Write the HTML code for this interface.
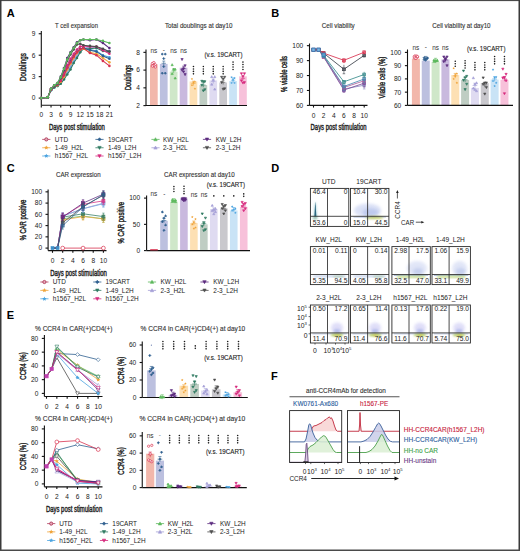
<!DOCTYPE html><html><head><meta charset="utf-8"><style>html,body{margin:0;padding:0;background:#fff;}svg{display:block;}text{font-family:"Liberation Sans", sans-serif;}</style></head><body>
<svg width="520" height="551" viewBox="0 0 520 551">
<defs><filter id="bl" x="-50%" y="-50%" width="200%" height="200%"><feGaussianBlur stdDeviation="1.6"/></filter><filter id="bl2" x="-50%" y="-50%" width="200%" height="200%"><feGaussianBlur stdDeviation="0.8"/></filter></defs>
<rect x="0" y="0" width="520" height="551" fill="#fff"/>
<text x="6.8" y="16.9" font-size="11" font-weight="bold" fill="#000">A</text>
<text x="76.50" y="28.40" font-size="6.7" text-anchor="middle" fill="#333" stroke="#333" stroke-width="0.12" textLength="43.00" lengthAdjust="spacingAndGlyphs">T cell expansion</text>
<line x1="41.30" y1="31.00" x2="41.30" y2="105.30" stroke="#111" stroke-width="1.1"/>
<line x1="38.70" y1="33.75" x2="41.30" y2="33.75" stroke="#111" stroke-width="1.1"/>
<text x="35.30" y="36.11" font-size="6.6" text-anchor="end" fill="#222">9</text>
<line x1="38.70" y1="55.20" x2="41.30" y2="55.20" stroke="#111" stroke-width="1.1"/>
<text x="35.30" y="57.56" font-size="6.6" text-anchor="end" fill="#222">6</text>
<line x1="38.70" y1="76.65" x2="41.30" y2="76.65" stroke="#111" stroke-width="1.1"/>
<text x="35.30" y="79.01" font-size="6.6" text-anchor="end" fill="#222">3</text>
<line x1="38.70" y1="98.10" x2="41.30" y2="98.10" stroke="#111" stroke-width="1.1"/>
<text x="35.30" y="100.46" font-size="6.6" text-anchor="end" fill="#222">0</text>
<line x1="41.30" y1="105.30" x2="111.00" y2="105.30" stroke="#111" stroke-width="1.1"/>
<line x1="41.30" y1="105.30" x2="41.30" y2="107.50" stroke="#111" stroke-width="1.1"/>
<text x="41.30" y="117.06" font-size="6.6" text-anchor="middle" fill="#222">0</text>
<line x1="51.03" y1="105.30" x2="51.03" y2="107.50" stroke="#111" stroke-width="1.1"/>
<text x="51.03" y="117.06" font-size="6.6" text-anchor="middle" fill="#222">3</text>
<line x1="60.76" y1="105.30" x2="60.76" y2="107.50" stroke="#111" stroke-width="1.1"/>
<text x="60.76" y="117.06" font-size="6.6" text-anchor="middle" fill="#222">6</text>
<line x1="70.49" y1="105.30" x2="70.49" y2="107.50" stroke="#111" stroke-width="1.1"/>
<text x="70.49" y="117.06" font-size="6.6" text-anchor="middle" fill="#222">9</text>
<line x1="80.22" y1="105.30" x2="80.22" y2="107.50" stroke="#111" stroke-width="1.1"/>
<text x="80.22" y="117.06" font-size="6.6" text-anchor="middle" fill="#222">12</text>
<line x1="89.94" y1="105.30" x2="89.94" y2="107.50" stroke="#111" stroke-width="1.1"/>
<text x="89.94" y="117.06" font-size="6.6" text-anchor="middle" fill="#222">15</text>
<line x1="99.67" y1="105.30" x2="99.67" y2="107.50" stroke="#111" stroke-width="1.1"/>
<text x="99.67" y="117.06" font-size="6.6" text-anchor="middle" fill="#222">18</text>
<line x1="109.40" y1="105.30" x2="109.40" y2="107.50" stroke="#111" stroke-width="1.1"/>
<text x="109.40" y="117.06" font-size="6.6" text-anchor="middle" fill="#222">21</text>
<text x="76.90" y="129.55" font-size="8.8" text-anchor="middle" fill="#222" font-weight="normal" stroke="#222" stroke-width="0.42" textLength="56.00" lengthAdjust="spacingAndGlyphs">Days post stimulation</text>
<text x="67.00" y="0" font-size="8.8" text-anchor="middle" fill="#222" font-weight="normal" stroke="#222" stroke-width="0.42" textLength="28.00" lengthAdjust="spacingAndGlyphs" transform="translate(26.15,67.00) rotate(-90) translate(-67.00,0)">Doublings</text>
<polyline points="41.30,98.10 47.79,97.38 51.03,90.23 54.27,87.38 57.52,85.94 60.76,83.08 64.00,78.08 67.24,72.36 70.49,66.64 73.73,60.92 76.97,55.91 80.22,50.91 83.46,48.76 89.94,49.48 96.43,50.91 102.92,55.20 109.40,57.34" fill="none" stroke="#4aa3e0" stroke-width="1.05" stroke-linejoin="round" />
<circle cx="41.30" cy="98.10" r="1.3" fill="#4aa3e0"/>
<circle cx="47.79" cy="97.38" r="1.3" fill="#4aa3e0"/>
<circle cx="51.03" cy="90.23" r="1.3" fill="#4aa3e0"/>
<circle cx="54.27" cy="87.38" r="1.3" fill="#4aa3e0"/>
<circle cx="57.52" cy="85.94" r="1.3" fill="#4aa3e0"/>
<circle cx="60.76" cy="83.08" r="1.3" fill="#4aa3e0"/>
<circle cx="64.00" cy="78.08" r="1.3" fill="#4aa3e0"/>
<circle cx="67.24" cy="72.36" r="1.3" fill="#4aa3e0"/>
<circle cx="70.49" cy="66.64" r="1.3" fill="#4aa3e0"/>
<circle cx="73.73" cy="60.92" r="1.3" fill="#4aa3e0"/>
<circle cx="76.97" cy="55.91" r="1.3" fill="#4aa3e0"/>
<circle cx="80.22" cy="50.91" r="1.3" fill="#4aa3e0"/>
<circle cx="83.46" cy="48.76" r="1.3" fill="#4aa3e0"/>
<circle cx="89.94" cy="49.48" r="1.3" fill="#4aa3e0"/>
<circle cx="96.43" cy="50.91" r="1.3" fill="#4aa3e0"/>
<circle cx="102.92" cy="55.20" r="1.3" fill="#4aa3e0"/>
<circle cx="109.40" cy="57.34" r="1.3" fill="#4aa3e0"/>
<polyline points="41.30,98.10 47.79,97.38 51.03,89.52 54.27,86.66 57.52,85.23 60.76,82.37 64.00,77.36 67.24,70.93 70.49,65.21 73.73,59.49 76.97,54.48 80.22,50.19 83.46,48.05 89.94,47.33 96.43,47.33 102.92,49.48 109.40,50.91" fill="none" stroke="#a59fd6" stroke-width="1.05" stroke-linejoin="round" />
<circle cx="41.30" cy="98.10" r="1.3" fill="#a59fd6"/>
<circle cx="47.79" cy="97.38" r="1.3" fill="#a59fd6"/>
<circle cx="51.03" cy="89.52" r="1.3" fill="#a59fd6"/>
<circle cx="54.27" cy="86.66" r="1.3" fill="#a59fd6"/>
<circle cx="57.52" cy="85.23" r="1.3" fill="#a59fd6"/>
<circle cx="60.76" cy="82.37" r="1.3" fill="#a59fd6"/>
<circle cx="64.00" cy="77.36" r="1.3" fill="#a59fd6"/>
<circle cx="67.24" cy="70.93" r="1.3" fill="#a59fd6"/>
<circle cx="70.49" cy="65.21" r="1.3" fill="#a59fd6"/>
<circle cx="73.73" cy="59.49" r="1.3" fill="#a59fd6"/>
<circle cx="76.97" cy="54.48" r="1.3" fill="#a59fd6"/>
<circle cx="80.22" cy="50.19" r="1.3" fill="#a59fd6"/>
<circle cx="83.46" cy="48.05" r="1.3" fill="#a59fd6"/>
<circle cx="89.94" cy="47.33" r="1.3" fill="#a59fd6"/>
<circle cx="96.43" cy="47.33" r="1.3" fill="#a59fd6"/>
<circle cx="102.92" cy="49.48" r="1.3" fill="#a59fd6"/>
<circle cx="109.40" cy="50.91" r="1.3" fill="#a59fd6"/>
<polyline points="41.30,98.10 47.79,97.38 51.03,90.23 54.27,87.38 57.52,85.94 60.76,83.80 64.00,79.51 67.24,74.50 70.49,69.50 73.73,63.06 76.97,58.06 80.22,52.34 83.46,48.76 89.94,48.76 96.43,48.05 102.92,50.91 109.40,51.62" fill="none" stroke="#2f7a62" stroke-width="1.05" stroke-linejoin="round" />
<circle cx="41.30" cy="98.10" r="1.3" fill="#2f7a62"/>
<circle cx="47.79" cy="97.38" r="1.3" fill="#2f7a62"/>
<circle cx="51.03" cy="90.23" r="1.3" fill="#2f7a62"/>
<circle cx="54.27" cy="87.38" r="1.3" fill="#2f7a62"/>
<circle cx="57.52" cy="85.94" r="1.3" fill="#2f7a62"/>
<circle cx="60.76" cy="83.80" r="1.3" fill="#2f7a62"/>
<circle cx="64.00" cy="79.51" r="1.3" fill="#2f7a62"/>
<circle cx="67.24" cy="74.50" r="1.3" fill="#2f7a62"/>
<circle cx="70.49" cy="69.50" r="1.3" fill="#2f7a62"/>
<circle cx="73.73" cy="63.06" r="1.3" fill="#2f7a62"/>
<circle cx="76.97" cy="58.06" r="1.3" fill="#2f7a62"/>
<circle cx="80.22" cy="52.34" r="1.3" fill="#2f7a62"/>
<circle cx="83.46" cy="48.76" r="1.3" fill="#2f7a62"/>
<circle cx="89.94" cy="48.76" r="1.3" fill="#2f7a62"/>
<circle cx="96.43" cy="48.05" r="1.3" fill="#2f7a62"/>
<circle cx="102.92" cy="50.91" r="1.3" fill="#2f7a62"/>
<circle cx="109.40" cy="51.62" r="1.3" fill="#2f7a62"/>
<polyline points="41.30,98.10 47.79,97.38 51.03,89.52 54.27,86.66 57.52,85.23 60.76,81.66 64.00,76.65 67.24,69.50 70.49,63.78 73.73,58.06 76.97,53.05 80.22,49.48 83.46,48.76 89.94,52.34 96.43,53.77 102.92,58.06 109.40,62.35" fill="none" stroke="#f0a43a" stroke-width="1.05" stroke-linejoin="round" />
<circle cx="41.30" cy="98.10" r="1.3" fill="#f0a43a"/>
<circle cx="47.79" cy="97.38" r="1.3" fill="#f0a43a"/>
<circle cx="51.03" cy="89.52" r="1.3" fill="#f0a43a"/>
<circle cx="54.27" cy="86.66" r="1.3" fill="#f0a43a"/>
<circle cx="57.52" cy="85.23" r="1.3" fill="#f0a43a"/>
<circle cx="60.76" cy="81.66" r="1.3" fill="#f0a43a"/>
<circle cx="64.00" cy="76.65" r="1.3" fill="#f0a43a"/>
<circle cx="67.24" cy="69.50" r="1.3" fill="#f0a43a"/>
<circle cx="70.49" cy="63.78" r="1.3" fill="#f0a43a"/>
<circle cx="73.73" cy="58.06" r="1.3" fill="#f0a43a"/>
<circle cx="76.97" cy="53.05" r="1.3" fill="#f0a43a"/>
<circle cx="80.22" cy="49.48" r="1.3" fill="#f0a43a"/>
<circle cx="83.46" cy="48.76" r="1.3" fill="#f0a43a"/>
<circle cx="89.94" cy="52.34" r="1.3" fill="#f0a43a"/>
<circle cx="96.43" cy="53.77" r="1.3" fill="#f0a43a"/>
<circle cx="102.92" cy="58.06" r="1.3" fill="#f0a43a"/>
<circle cx="109.40" cy="62.35" r="1.3" fill="#f0a43a"/>
<polyline points="41.30,98.10 47.79,97.38 51.03,89.52 54.27,86.66 57.52,84.51 60.76,80.22 64.00,74.50 67.24,67.35 70.49,60.92 73.73,55.91 76.97,51.62 80.22,48.76 83.46,48.05 89.94,50.19 96.43,51.62 102.92,55.91 109.40,58.77" fill="none" stroke="#2f5f8f" stroke-width="1.05" stroke-linejoin="round" />
<circle cx="41.30" cy="98.10" r="1.3" fill="#2f5f8f"/>
<circle cx="47.79" cy="97.38" r="1.3" fill="#2f5f8f"/>
<circle cx="51.03" cy="89.52" r="1.3" fill="#2f5f8f"/>
<circle cx="54.27" cy="86.66" r="1.3" fill="#2f5f8f"/>
<circle cx="57.52" cy="84.51" r="1.3" fill="#2f5f8f"/>
<circle cx="60.76" cy="80.22" r="1.3" fill="#2f5f8f"/>
<circle cx="64.00" cy="74.50" r="1.3" fill="#2f5f8f"/>
<circle cx="67.24" cy="67.35" r="1.3" fill="#2f5f8f"/>
<circle cx="70.49" cy="60.92" r="1.3" fill="#2f5f8f"/>
<circle cx="73.73" cy="55.91" r="1.3" fill="#2f5f8f"/>
<circle cx="76.97" cy="51.62" r="1.3" fill="#2f5f8f"/>
<circle cx="80.22" cy="48.76" r="1.3" fill="#2f5f8f"/>
<circle cx="83.46" cy="48.05" r="1.3" fill="#2f5f8f"/>
<circle cx="89.94" cy="50.19" r="1.3" fill="#2f5f8f"/>
<circle cx="96.43" cy="51.62" r="1.3" fill="#2f5f8f"/>
<circle cx="102.92" cy="55.91" r="1.3" fill="#2f5f8f"/>
<circle cx="109.40" cy="58.77" r="1.3" fill="#2f5f8f"/>
<polyline points="41.30,98.10 47.79,97.38 51.03,89.52 54.27,85.94 57.52,84.51 60.76,80.94 64.00,75.22 67.24,68.07 70.49,62.35 73.73,56.63 76.97,52.34 80.22,49.48 83.46,48.05 89.94,53.05 96.43,55.20 102.92,60.92 109.40,65.92" fill="none" stroke="#d8324f" stroke-width="1.05" stroke-linejoin="round" />
<circle cx="41.30" cy="98.10" r="1.3" fill="#d8324f"/>
<circle cx="47.79" cy="97.38" r="1.3" fill="#d8324f"/>
<circle cx="51.03" cy="89.52" r="1.3" fill="#d8324f"/>
<circle cx="54.27" cy="85.94" r="1.3" fill="#d8324f"/>
<circle cx="57.52" cy="84.51" r="1.3" fill="#d8324f"/>
<circle cx="60.76" cy="80.94" r="1.3" fill="#d8324f"/>
<circle cx="64.00" cy="75.22" r="1.3" fill="#d8324f"/>
<circle cx="67.24" cy="68.07" r="1.3" fill="#d8324f"/>
<circle cx="70.49" cy="62.35" r="1.3" fill="#d8324f"/>
<circle cx="73.73" cy="56.63" r="1.3" fill="#d8324f"/>
<circle cx="76.97" cy="52.34" r="1.3" fill="#d8324f"/>
<circle cx="80.22" cy="49.48" r="1.3" fill="#d8324f"/>
<circle cx="83.46" cy="48.05" r="1.3" fill="#d8324f"/>
<circle cx="89.94" cy="53.05" r="1.3" fill="#d8324f"/>
<circle cx="96.43" cy="55.20" r="1.3" fill="#d8324f"/>
<circle cx="102.92" cy="60.92" r="1.3" fill="#d8324f"/>
<circle cx="109.40" cy="65.92" r="1.3" fill="#d8324f"/>
<polyline points="41.30,98.10 47.79,97.38 51.03,88.80 54.27,85.23 57.52,83.80 60.76,79.51 64.00,72.36 67.24,65.21 70.49,58.77 73.73,53.77 76.97,49.48 80.22,46.62 83.46,45.90 89.94,46.62 96.43,46.62 102.92,50.19 109.40,53.77" fill="none" stroke="#d62a7e" stroke-width="1.05" stroke-linejoin="round" />
<circle cx="41.30" cy="98.10" r="1.3" fill="#d62a7e"/>
<circle cx="47.79" cy="97.38" r="1.3" fill="#d62a7e"/>
<circle cx="51.03" cy="88.80" r="1.3" fill="#d62a7e"/>
<circle cx="54.27" cy="85.23" r="1.3" fill="#d62a7e"/>
<circle cx="57.52" cy="83.80" r="1.3" fill="#d62a7e"/>
<circle cx="60.76" cy="79.51" r="1.3" fill="#d62a7e"/>
<circle cx="64.00" cy="72.36" r="1.3" fill="#d62a7e"/>
<circle cx="67.24" cy="65.21" r="1.3" fill="#d62a7e"/>
<circle cx="70.49" cy="58.77" r="1.3" fill="#d62a7e"/>
<circle cx="73.73" cy="53.77" r="1.3" fill="#d62a7e"/>
<circle cx="76.97" cy="49.48" r="1.3" fill="#d62a7e"/>
<circle cx="80.22" cy="46.62" r="1.3" fill="#d62a7e"/>
<circle cx="83.46" cy="45.90" r="1.3" fill="#d62a7e"/>
<circle cx="89.94" cy="46.62" r="1.3" fill="#d62a7e"/>
<circle cx="96.43" cy="46.62" r="1.3" fill="#d62a7e"/>
<circle cx="102.92" cy="50.19" r="1.3" fill="#d62a7e"/>
<circle cx="109.40" cy="53.77" r="1.3" fill="#d62a7e"/>
<polyline points="41.30,98.10 47.79,97.38 51.03,88.80 54.27,85.94 57.52,83.80 60.76,78.08 64.00,70.21 67.24,60.92 70.49,54.48 73.73,49.48 76.97,44.47 80.22,43.76 83.46,45.19 89.94,45.90 96.43,46.62 102.92,48.76 109.40,51.62" fill="none" stroke="#4d4d4d" stroke-width="1.05" stroke-linejoin="round" />
<circle cx="41.30" cy="98.10" r="1.3" fill="#4d4d4d"/>
<circle cx="47.79" cy="97.38" r="1.3" fill="#4d4d4d"/>
<circle cx="51.03" cy="88.80" r="1.3" fill="#4d4d4d"/>
<circle cx="54.27" cy="85.94" r="1.3" fill="#4d4d4d"/>
<circle cx="57.52" cy="83.80" r="1.3" fill="#4d4d4d"/>
<circle cx="60.76" cy="78.08" r="1.3" fill="#4d4d4d"/>
<circle cx="64.00" cy="70.21" r="1.3" fill="#4d4d4d"/>
<circle cx="67.24" cy="60.92" r="1.3" fill="#4d4d4d"/>
<circle cx="70.49" cy="54.48" r="1.3" fill="#4d4d4d"/>
<circle cx="73.73" cy="49.48" r="1.3" fill="#4d4d4d"/>
<circle cx="76.97" cy="44.47" r="1.3" fill="#4d4d4d"/>
<circle cx="80.22" cy="43.76" r="1.3" fill="#4d4d4d"/>
<circle cx="83.46" cy="45.19" r="1.3" fill="#4d4d4d"/>
<circle cx="89.94" cy="45.90" r="1.3" fill="#4d4d4d"/>
<circle cx="96.43" cy="46.62" r="1.3" fill="#4d4d4d"/>
<circle cx="102.92" cy="48.76" r="1.3" fill="#4d4d4d"/>
<circle cx="109.40" cy="51.62" r="1.3" fill="#4d4d4d"/>
<polyline points="41.30,98.10 47.79,97.38 51.03,88.80 54.27,85.23 57.52,83.08 60.76,76.65 64.00,68.07 67.24,58.06 70.49,52.34 73.73,47.33 76.97,42.33 80.22,40.18 83.46,39.47 89.94,40.18 96.43,39.47 102.92,43.04 109.40,48.05" fill="none" stroke="#5b2a7e" stroke-width="1.05" stroke-linejoin="round" />
<circle cx="41.30" cy="98.10" r="1.3" fill="#5b2a7e"/>
<circle cx="47.79" cy="97.38" r="1.3" fill="#5b2a7e"/>
<circle cx="51.03" cy="88.80" r="1.3" fill="#5b2a7e"/>
<circle cx="54.27" cy="85.23" r="1.3" fill="#5b2a7e"/>
<circle cx="57.52" cy="83.08" r="1.3" fill="#5b2a7e"/>
<circle cx="60.76" cy="76.65" r="1.3" fill="#5b2a7e"/>
<circle cx="64.00" cy="68.07" r="1.3" fill="#5b2a7e"/>
<circle cx="67.24" cy="58.06" r="1.3" fill="#5b2a7e"/>
<circle cx="70.49" cy="52.34" r="1.3" fill="#5b2a7e"/>
<circle cx="73.73" cy="47.33" r="1.3" fill="#5b2a7e"/>
<circle cx="76.97" cy="42.33" r="1.3" fill="#5b2a7e"/>
<circle cx="80.22" cy="40.18" r="1.3" fill="#5b2a7e"/>
<circle cx="83.46" cy="39.47" r="1.3" fill="#5b2a7e"/>
<circle cx="89.94" cy="40.18" r="1.3" fill="#5b2a7e"/>
<circle cx="96.43" cy="39.47" r="1.3" fill="#5b2a7e"/>
<circle cx="102.92" cy="43.04" r="1.3" fill="#5b2a7e"/>
<circle cx="109.40" cy="48.05" r="1.3" fill="#5b2a7e"/>
<polyline points="41.30,98.10 47.79,97.38 51.03,88.80 54.27,85.23 57.52,83.08 60.76,77.36 64.00,68.78 67.24,59.49 70.49,53.05 73.73,48.05 76.97,43.04 80.22,40.18 83.46,39.47 89.94,39.47 96.43,39.47 102.92,40.90 109.40,43.04" fill="none" stroke="#5cb85c" stroke-width="1.05" stroke-linejoin="round" />
<circle cx="41.30" cy="98.10" r="1.3" fill="#5cb85c"/>
<circle cx="47.79" cy="97.38" r="1.3" fill="#5cb85c"/>
<circle cx="51.03" cy="88.80" r="1.3" fill="#5cb85c"/>
<circle cx="54.27" cy="85.23" r="1.3" fill="#5cb85c"/>
<circle cx="57.52" cy="83.08" r="1.3" fill="#5cb85c"/>
<circle cx="60.76" cy="77.36" r="1.3" fill="#5cb85c"/>
<circle cx="64.00" cy="68.78" r="1.3" fill="#5cb85c"/>
<circle cx="67.24" cy="59.49" r="1.3" fill="#5cb85c"/>
<circle cx="70.49" cy="53.05" r="1.3" fill="#5cb85c"/>
<circle cx="73.73" cy="48.05" r="1.3" fill="#5cb85c"/>
<circle cx="76.97" cy="43.04" r="1.3" fill="#5cb85c"/>
<circle cx="80.22" cy="40.18" r="1.3" fill="#5cb85c"/>
<circle cx="83.46" cy="39.47" r="1.3" fill="#5cb85c"/>
<circle cx="89.94" cy="39.47" r="1.3" fill="#5cb85c"/>
<circle cx="96.43" cy="39.47" r="1.3" fill="#5cb85c"/>
<circle cx="102.92" cy="40.90" r="1.3" fill="#5cb85c"/>
<circle cx="109.40" cy="43.04" r="1.3" fill="#5cb85c"/>
<text x="198.70" y="28.00" font-size="6.7" text-anchor="middle" fill="#333" stroke="#333" stroke-width="0.12" textLength="67.50" lengthAdjust="spacingAndGlyphs">Total doublings at day10</text>
<rect x="150.00" y="64.42" width="7.70" height="41.18" fill="#f2b7ab" stroke="none" stroke-width="1" />
<rect x="159.90" y="63.89" width="7.70" height="41.71" fill="#bcc0df" stroke="none" stroke-width="1" />
<rect x="169.80" y="71.61" width="7.70" height="33.99" fill="#cfe7c9" stroke="none" stroke-width="1" />
<rect x="179.70" y="67.70" width="7.70" height="37.90" fill="#c9b9de" stroke="none" stroke-width="1" />
<rect x="189.60" y="81.46" width="7.70" height="24.14" fill="#fde0b4" stroke="none" stroke-width="1" />
<rect x="199.50" y="85.10" width="7.70" height="20.50" fill="#bfcdc3" stroke="none" stroke-width="1" />
<rect x="209.40" y="80.39" width="7.70" height="25.20" fill="#dfdbf1" stroke="none" stroke-width="1" />
<rect x="219.30" y="82.53" width="7.70" height="23.07" fill="#c9c8cd" stroke="none" stroke-width="1" />
<rect x="229.20" y="81.02" width="7.70" height="24.58" fill="#c9e3f6" stroke="none" stroke-width="1" />
<rect x="239.10" y="76.31" width="7.70" height="29.29" fill="#f7c1da" stroke="none" stroke-width="1" />
<line x1="146.00" y1="49.40" x2="146.00" y2="105.60" stroke="#111" stroke-width="1.1"/>
<line x1="143.40" y1="52.35" x2="146.00" y2="52.35" stroke="#111" stroke-width="1.1"/>
<text x="140.00" y="54.71" font-size="6.6" text-anchor="end" fill="#222">8</text>
<line x1="143.40" y1="70.10" x2="146.00" y2="70.10" stroke="#111" stroke-width="1.1"/>
<text x="140.00" y="72.46" font-size="6.6" text-anchor="end" fill="#222">6</text>
<line x1="143.40" y1="87.85" x2="146.00" y2="87.85" stroke="#111" stroke-width="1.1"/>
<text x="140.00" y="90.21" font-size="6.6" text-anchor="end" fill="#222">4</text>
<line x1="143.40" y1="105.60" x2="146.00" y2="105.60" stroke="#111" stroke-width="1.1"/>
<text x="140.00" y="107.96" font-size="6.6" text-anchor="end" fill="#222">2</text>
<line x1="146.00" y1="105.50" x2="247.00" y2="105.50" stroke="#111" stroke-width="1.1"/>
<text x="77.50" y="0" font-size="8.8" text-anchor="middle" fill="#222" font-weight="normal" stroke="#222" stroke-width="0.42" textLength="25.00" lengthAdjust="spacingAndGlyphs" transform="translate(130.65,77.50) rotate(-90) translate(-77.50,0)">Doublings</text>
<line x1="153.85" y1="62.70" x2="153.85" y2="67.14" stroke="#d8324f" stroke-width="0.6"/>
<line x1="152.35" y1="62.70" x2="155.35" y2="62.70" stroke="#d8324f" stroke-width="0.6"/>
<line x1="151.65" y1="64.92" x2="156.05" y2="64.92" stroke="#d8324f" stroke-width="0.6"/>
<circle cx="152.35" cy="63.44" r="1.15" fill="#fff" stroke="#d8324f" stroke-width="0.7"/>
<circle cx="155.35" cy="64.78" r="1.15" fill="#fff" stroke="#d8324f" stroke-width="0.7"/>
<circle cx="153.85" cy="65.66" r="1.15" fill="#fff" stroke="#d8324f" stroke-width="0.7"/>
<circle cx="152.35" cy="66.11" r="1.15" fill="#fff" stroke="#d8324f" stroke-width="0.7"/>
<circle cx="155.35" cy="66.99" r="1.15" fill="#fff" stroke="#d8324f" stroke-width="0.7"/>
<circle cx="153.85" cy="62.56" r="1.15" fill="#fff" stroke="#d8324f" stroke-width="0.7"/>
<line x1="163.75" y1="61.08" x2="163.75" y2="65.51" stroke="#2f5f8f" stroke-width="0.6"/>
<line x1="162.25" y1="61.08" x2="165.25" y2="61.08" stroke="#2f5f8f" stroke-width="0.6"/>
<line x1="161.55" y1="63.30" x2="165.95" y2="63.30" stroke="#2f5f8f" stroke-width="0.6"/>
<path d="M162.25 52.97L163.40 54.12L162.25 55.27L161.10 54.12Z" fill="#2f5f8f" stroke="#2f5f8f" stroke-width="0.6"/>
<path d="M165.25 52.97L166.40 54.12L165.25 55.27L164.10 54.12Z" fill="#2f5f8f" stroke="#2f5f8f" stroke-width="0.6"/>
<path d="M163.75 57.41L164.90 58.56L163.75 59.71L162.60 58.56Z" fill="#2f5f8f" stroke="#2f5f8f" stroke-width="0.6"/>
<path d="M162.25 72.06L163.40 73.21L162.25 74.36L161.10 73.21Z" fill="#2f5f8f" stroke="#2f5f8f" stroke-width="0.6"/>
<path d="M165.25 72.06L166.40 73.21L165.25 74.36L164.10 73.21Z" fill="#2f5f8f" stroke="#2f5f8f" stroke-width="0.6"/>
<path d="M163.75 65.40L164.90 66.55L163.75 67.70L162.60 66.55Z" fill="#2f5f8f" stroke="#2f5f8f" stroke-width="0.6"/>
<line x1="173.65" y1="68.77" x2="173.65" y2="73.21" stroke="#5cb85c" stroke-width="0.6"/>
<line x1="172.15" y1="68.77" x2="175.15" y2="68.77" stroke="#5cb85c" stroke-width="0.6"/>
<line x1="171.45" y1="70.99" x2="175.85" y2="70.99" stroke="#5cb85c" stroke-width="0.6"/>
<path d="M172.15 63.63L173.30 65.70L171.00 65.70Z" fill="#5cb85c" stroke="#5cb85c" stroke-width="0.6"/>
<path d="M175.15 68.06L176.30 70.13L174.00 70.13Z" fill="#5cb85c" stroke="#5cb85c" stroke-width="0.6"/>
<path d="M173.65 68.06L174.80 70.13L172.50 70.13Z" fill="#5cb85c" stroke="#5cb85c" stroke-width="0.6"/>
<path d="M172.15 72.50L173.30 74.57L171.00 74.57Z" fill="#5cb85c" stroke="#5cb85c" stroke-width="0.6"/>
<path d="M175.15 76.94L176.30 79.01L174.00 79.01Z" fill="#5cb85c" stroke="#5cb85c" stroke-width="0.6"/>
<line x1="183.55" y1="66.18" x2="183.55" y2="70.62" stroke="#5b2a7e" stroke-width="0.6"/>
<line x1="182.05" y1="66.18" x2="185.05" y2="66.18" stroke="#5b2a7e" stroke-width="0.6"/>
<line x1="181.35" y1="68.40" x2="185.75" y2="68.40" stroke="#5b2a7e" stroke-width="0.6"/>
<path d="M182.05 60.60L183.20 58.53L180.90 58.53Z" fill="#5b2a7e" stroke="#5b2a7e" stroke-width="0.6"/>
<path d="M185.05 66.81L186.20 64.74L183.90 64.74Z" fill="#5b2a7e" stroke="#5b2a7e" stroke-width="0.6"/>
<path d="M183.55 69.92L184.70 67.85L182.40 67.85Z" fill="#5b2a7e" stroke="#5b2a7e" stroke-width="0.6"/>
<path d="M182.05 71.25L183.20 69.18L180.90 69.18Z" fill="#5b2a7e" stroke="#5b2a7e" stroke-width="0.6"/>
<path d="M185.05 75.69L186.20 73.62L183.90 73.62Z" fill="#5b2a7e" stroke="#5b2a7e" stroke-width="0.6"/>
<path d="M183.55 73.03L184.70 70.95L182.40 70.95Z" fill="#5b2a7e" stroke="#5b2a7e" stroke-width="0.6"/>
<line x1="193.45" y1="81.19" x2="193.45" y2="85.63" stroke="#f0a43a" stroke-width="0.6"/>
<line x1="191.95" y1="81.19" x2="194.95" y2="81.19" stroke="#f0a43a" stroke-width="0.6"/>
<line x1="191.25" y1="83.41" x2="195.65" y2="83.41" stroke="#f0a43a" stroke-width="0.6"/>
<path d="M191.95 77.65L192.32 78.46L193.21 78.57L192.55 79.17L192.73 80.04L191.95 79.61L191.17 80.04L191.35 79.17L190.69 78.57L191.58 78.46Z" fill="#f0a43a" stroke="none"/>
<path d="M194.95 80.31L195.32 81.13L196.21 81.23L195.55 81.83L195.73 82.71L194.95 82.27L194.17 82.71L194.35 81.83L193.69 81.23L194.58 81.13Z" fill="#f0a43a" stroke="none"/>
<path d="M193.45 81.20L193.82 82.01L194.71 82.12L194.05 82.72L194.23 83.59L193.45 83.16L192.67 83.59L192.85 82.72L192.19 82.12L193.08 82.01Z" fill="#f0a43a" stroke="none"/>
<path d="M191.95 83.86L192.32 84.68L193.21 84.78L192.55 85.38L192.73 86.26L191.95 85.82L191.17 86.26L191.35 85.38L190.69 84.78L191.58 84.68Z" fill="#f0a43a" stroke="none"/>
<path d="M194.95 87.41L195.32 88.23L196.21 88.33L195.55 88.93L195.73 89.81L194.95 89.37L194.17 89.81L194.35 88.93L193.69 88.33L194.58 88.23Z" fill="#f0a43a" stroke="none"/>
<line x1="203.35" y1="82.79" x2="203.35" y2="87.23" stroke="#2f7a62" stroke-width="0.6"/>
<line x1="201.85" y1="82.79" x2="204.85" y2="82.79" stroke="#2f7a62" stroke-width="0.6"/>
<line x1="201.15" y1="85.01" x2="205.55" y2="85.01" stroke="#2f7a62" stroke-width="0.6"/>
<path d="M201.85 82.34L203.00 80.27L200.70 80.27Z" fill="#2f7a62" stroke="#2f7a62" stroke-width="0.6"/>
<path d="M204.85 82.79L206.00 80.72L203.70 80.72Z" fill="#2f7a62" stroke="#2f7a62" stroke-width="0.6"/>
<path d="M203.35 82.79L204.50 80.72L202.20 80.72Z" fill="#2f7a62" stroke="#2f7a62" stroke-width="0.6"/>
<path d="M201.85 86.34L203.00 84.27L200.70 84.27Z" fill="#2f7a62" stroke="#2f7a62" stroke-width="0.6"/>
<path d="M204.85 90.78L206.00 88.70L203.70 88.70Z" fill="#2f7a62" stroke="#2f7a62" stroke-width="0.6"/>
<path d="M203.35 91.93L204.50 89.86L202.20 89.86Z" fill="#2f7a62" stroke="#2f7a62" stroke-width="0.6"/>
<line x1="213.25" y1="79.15" x2="213.25" y2="83.59" stroke="#a59fd6" stroke-width="0.6"/>
<line x1="211.75" y1="79.15" x2="214.75" y2="79.15" stroke="#a59fd6" stroke-width="0.6"/>
<line x1="211.05" y1="81.37" x2="215.45" y2="81.37" stroke="#a59fd6" stroke-width="0.6"/>
<path d="M211.75 75.61L212.90 77.68L210.60 77.68Z" fill="#a59fd6" stroke="#a59fd6" stroke-width="0.6"/>
<path d="M214.75 75.61L215.90 77.68L213.60 77.68Z" fill="#a59fd6" stroke="#a59fd6" stroke-width="0.6"/>
<path d="M213.25 78.71L214.40 80.78L212.10 80.78Z" fill="#a59fd6" stroke="#a59fd6" stroke-width="0.6"/>
<path d="M211.75 83.15L212.90 85.22L210.60 85.22Z" fill="#a59fd6" stroke="#a59fd6" stroke-width="0.6"/>
<path d="M214.75 88.03L215.90 90.10L213.60 90.10Z" fill="#a59fd6" stroke="#a59fd6" stroke-width="0.6"/>
<line x1="223.15" y1="80.08" x2="223.15" y2="84.52" stroke="#4d4d4d" stroke-width="0.6"/>
<line x1="221.65" y1="80.08" x2="224.65" y2="80.08" stroke="#4d4d4d" stroke-width="0.6"/>
<line x1="220.95" y1="82.30" x2="225.35" y2="82.30" stroke="#4d4d4d" stroke-width="0.6"/>
<path d="M221.65 78.35L222.80 76.28L220.50 76.28Z" fill="#4d4d4d" stroke="#4d4d4d" stroke-width="0.6"/>
<path d="M224.65 78.35L225.80 76.28L223.50 76.28Z" fill="#4d4d4d" stroke="#4d4d4d" stroke-width="0.6"/>
<path d="M223.15 80.12L224.30 78.05L222.00 78.05Z" fill="#4d4d4d" stroke="#4d4d4d" stroke-width="0.6"/>
<path d="M221.65 83.68L222.80 81.61L220.50 81.61Z" fill="#4d4d4d" stroke="#4d4d4d" stroke-width="0.6"/>
<path d="M224.65 89.89L225.80 87.82L223.50 87.82Z" fill="#4d4d4d" stroke="#4d4d4d" stroke-width="0.6"/>
<path d="M223.15 90.33L224.30 88.26L222.00 88.26Z" fill="#4d4d4d" stroke="#4d4d4d" stroke-width="0.6"/>
<line x1="233.05" y1="78.00" x2="233.05" y2="82.44" stroke="#4aa3e0" stroke-width="0.6"/>
<line x1="231.55" y1="78.00" x2="234.55" y2="78.00" stroke="#4aa3e0" stroke-width="0.6"/>
<line x1="230.85" y1="80.22" x2="235.25" y2="80.22" stroke="#4aa3e0" stroke-width="0.6"/>
<path d="M231.55 75.88L231.92 76.69L232.81 76.79L232.15 77.40L232.33 78.27L231.55 77.83L230.77 78.27L230.95 77.40L230.29 76.79L231.18 76.69Z" fill="#4aa3e0" stroke="none"/>
<path d="M234.55 76.77L234.92 77.58L235.81 77.68L235.15 78.28L235.33 79.16L234.55 78.72L233.77 79.16L233.95 78.28L233.29 77.68L234.18 77.58Z" fill="#4aa3e0" stroke="none"/>
<path d="M233.05 78.54L233.42 79.35L234.31 79.45L233.65 80.06L233.83 80.93L233.05 80.49L232.27 80.93L232.45 80.06L231.79 79.45L232.68 79.35Z" fill="#4aa3e0" stroke="none"/>
<path d="M231.55 81.65L231.92 82.46L232.81 82.56L232.15 83.16L232.33 84.04L231.55 83.60L230.77 84.04L230.95 83.16L230.29 82.56L231.18 82.46Z" fill="#4aa3e0" stroke="none"/>
<path d="M234.55 81.65L234.92 82.46L235.81 82.56L235.15 83.16L235.33 84.04L234.55 83.60L233.77 84.04L233.95 83.16L233.29 82.56L234.18 82.46Z" fill="#4aa3e0" stroke="none"/>
<line x1="242.95" y1="76.09" x2="242.95" y2="80.53" stroke="#d62a7e" stroke-width="0.6"/>
<line x1="241.45" y1="76.09" x2="244.45" y2="76.09" stroke="#d62a7e" stroke-width="0.6"/>
<line x1="240.75" y1="78.31" x2="245.15" y2="78.31" stroke="#d62a7e" stroke-width="0.6"/>
<path d="M241.45 74.80L242.60 72.73L240.30 72.73Z" fill="#d62a7e" stroke="#d62a7e" stroke-width="0.6"/>
<path d="M244.45 74.80L245.60 72.73L243.30 72.73Z" fill="#d62a7e" stroke="#d62a7e" stroke-width="0.6"/>
<path d="M242.95 77.46L244.10 75.39L241.80 75.39Z" fill="#d62a7e" stroke="#d62a7e" stroke-width="0.6"/>
<path d="M241.45 81.90L242.60 79.83L240.30 79.83Z" fill="#d62a7e" stroke="#d62a7e" stroke-width="0.6"/>
<path d="M244.45 83.68L245.60 81.61L243.30 81.61Z" fill="#d62a7e" stroke="#d62a7e" stroke-width="0.6"/>
<path d="M242.95 84.12L244.10 82.05L241.80 82.05Z" fill="#d62a7e" stroke="#d62a7e" stroke-width="0.6"/>
<text x="153.85" y="52.59" font-size="6.4" text-anchor="middle" fill="#333">ns</text>
<text x="173.65" y="52.59" font-size="6.4" text-anchor="middle" fill="#333">ns</text>
<text x="183.55" y="52.59" font-size="6.4" text-anchor="middle" fill="#333">ns</text>
<text x="163.75" y="52.09" font-size="6.4" text-anchor="middle" fill="#333">-</text>
<text x="223.50" y="57.40" font-size="6.7" text-anchor="middle" fill="#222" stroke="#222" stroke-width="0.12" textLength="38.00" lengthAdjust="spacingAndGlyphs">(v.s. 19CART)</text>
<circle cx="193.45" cy="66.50" r="0.8" fill="#1a1a1a"/>
<circle cx="193.45" cy="68.95" r="0.8" fill="#1a1a1a"/>
<circle cx="193.45" cy="71.40" r="0.8" fill="#1a1a1a"/>
<circle cx="193.45" cy="73.85" r="0.8" fill="#1a1a1a"/>
<circle cx="203.35" cy="66.50" r="0.8" fill="#1a1a1a"/>
<circle cx="203.35" cy="68.95" r="0.8" fill="#1a1a1a"/>
<circle cx="203.35" cy="71.40" r="0.8" fill="#1a1a1a"/>
<circle cx="203.35" cy="73.85" r="0.8" fill="#1a1a1a"/>
<circle cx="213.25" cy="66.50" r="0.8" fill="#1a1a1a"/>
<circle cx="213.25" cy="68.95" r="0.8" fill="#1a1a1a"/>
<circle cx="213.25" cy="71.40" r="0.8" fill="#1a1a1a"/>
<circle cx="213.25" cy="73.85" r="0.8" fill="#1a1a1a"/>
<circle cx="223.15" cy="66.50" r="0.8" fill="#1a1a1a"/>
<circle cx="223.15" cy="68.95" r="0.8" fill="#1a1a1a"/>
<circle cx="223.15" cy="71.40" r="0.8" fill="#1a1a1a"/>
<circle cx="223.15" cy="73.85" r="0.8" fill="#1a1a1a"/>
<circle cx="233.05" cy="62.10" r="0.8" fill="#1a1a1a"/>
<circle cx="233.05" cy="64.55" r="0.8" fill="#1a1a1a"/>
<circle cx="233.05" cy="67.00" r="0.8" fill="#1a1a1a"/>
<circle cx="233.05" cy="69.45" r="0.8" fill="#1a1a1a"/>
<circle cx="242.95" cy="62.10" r="0.8" fill="#1a1a1a"/>
<circle cx="242.95" cy="64.55" r="0.8" fill="#1a1a1a"/>
<circle cx="242.95" cy="67.00" r="0.8" fill="#1a1a1a"/>
<circle cx="242.95" cy="69.45" r="0.8" fill="#1a1a1a"/>
<line x1="42.20" y1="139.40" x2="50.40" y2="139.40" stroke="#b03a5a" stroke-width="0.8"/>
<circle cx="46.30" cy="139.40" r="1.6" fill="#e4a9b8" stroke="#b03a5a" stroke-width="0.9"/>
<text x="54.80" y="141.71" font-size="6.45" text-anchor="start" fill="#222">UTD</text>
<line x1="95.40" y1="139.40" x2="103.60" y2="139.40" stroke="#2f5f8f" stroke-width="0.8"/>
<path d="M99.50 137.70L101.20 139.40L99.50 141.10L97.80 139.40Z" fill="#2f5f8f" stroke="#2f5f8f" stroke-width="0.6"/>
<text x="108.00" y="141.71" font-size="6.45" text-anchor="start" fill="#222">19CART</text>
<line x1="151.40" y1="139.40" x2="159.60" y2="139.40" stroke="#5cb85c" stroke-width="0.8"/>
<path d="M155.50 137.70L157.20 140.76L153.80 140.76Z" fill="#5cb85c" stroke="#5cb85c" stroke-width="0.6"/>
<text x="163.00" y="141.71" font-size="6.45" text-anchor="start" fill="#222">KW_H2L</text>
<line x1="202.90" y1="139.40" x2="211.10" y2="139.40" stroke="#5b2a7e" stroke-width="0.8"/>
<path d="M207.00 141.10L208.70 138.04L205.30 138.04Z" fill="#5b2a7e" stroke="#5b2a7e" stroke-width="0.6"/>
<text x="215.70" y="141.71" font-size="6.45" text-anchor="start" fill="#222">KW_L2H</text>
<line x1="42.20" y1="147.75" x2="50.40" y2="147.75" stroke="#f0a43a" stroke-width="0.8"/>
<path d="M46.30 145.45L46.95 146.86L48.49 147.04L47.35 148.09L47.65 149.61L46.30 148.85L44.95 149.61L45.25 148.09L44.11 147.04L45.65 146.86Z" fill="#f0a43a" stroke="none"/>
<text x="54.80" y="150.06" font-size="6.45" text-anchor="start" fill="#222">1-49_H2L</text>
<line x1="95.40" y1="147.75" x2="103.60" y2="147.75" stroke="#2f7a62" stroke-width="0.8"/>
<path d="M99.50 149.45L101.20 146.39L97.80 146.39Z" fill="#2f7a62" stroke="#2f7a62" stroke-width="0.6"/>
<text x="108.00" y="150.06" font-size="6.45" text-anchor="start" fill="#222">1-49_L2H</text>
<line x1="151.40" y1="147.75" x2="159.60" y2="147.75" stroke="#a59fd6" stroke-width="0.8"/>
<path d="M155.50 146.05L157.20 149.11L153.80 149.11Z" fill="#a59fd6" stroke="#a59fd6" stroke-width="0.6"/>
<text x="163.00" y="150.06" font-size="6.45" text-anchor="start" fill="#222">2-3_H2L</text>
<line x1="202.90" y1="147.75" x2="211.10" y2="147.75" stroke="#4d4d4d" stroke-width="0.8"/>
<path d="M207.00 149.45L208.70 146.39L205.30 146.39Z" fill="#4d4d4d" stroke="#4d4d4d" stroke-width="0.6"/>
<text x="215.70" y="150.06" font-size="6.45" text-anchor="start" fill="#222">2-3_L2H</text>
<line x1="42.20" y1="156.00" x2="50.40" y2="156.00" stroke="#4aa3e0" stroke-width="0.8"/>
<path d="M46.30 153.70L46.95 155.11L48.49 155.29L47.35 156.34L47.65 157.86L46.30 157.10L44.95 157.86L45.25 156.34L44.11 155.29L45.65 155.11Z" fill="#4aa3e0" stroke="none"/>
<text x="54.80" y="158.31" font-size="6.45" text-anchor="start" fill="#222">h1567_H2L</text>
<line x1="95.40" y1="156.00" x2="103.60" y2="156.00" stroke="#d62a7e" stroke-width="0.8"/>
<path d="M99.50 157.70L101.20 154.64L97.80 154.64Z" fill="#d62a7e" stroke="#d62a7e" stroke-width="0.6"/>
<text x="108.00" y="158.31" font-size="6.45" text-anchor="start" fill="#222">h1567_L2H</text>
<text x="271.3" y="16.9" font-size="11" font-weight="bold" fill="#000">B</text>
<text x="338.30" y="28.40" font-size="6.7" text-anchor="middle" fill="#333" stroke="#333" stroke-width="0.12" textLength="32.90" lengthAdjust="spacingAndGlyphs">Cell viability</text>
<line x1="309.50" y1="43.50" x2="309.50" y2="105.40" stroke="#111" stroke-width="1.1"/>
<line x1="306.90" y1="45.68" x2="309.50" y2="45.68" stroke="#111" stroke-width="1.1"/>
<text x="303.30" y="48.04" font-size="6.6" text-anchor="end" fill="#222">100</text>
<line x1="306.90" y1="60.61" x2="309.50" y2="60.61" stroke="#111" stroke-width="1.1"/>
<text x="303.30" y="62.97" font-size="6.6" text-anchor="end" fill="#222">90</text>
<line x1="306.90" y1="75.54" x2="309.50" y2="75.54" stroke="#111" stroke-width="1.1"/>
<text x="303.30" y="77.90" font-size="6.6" text-anchor="end" fill="#222">80</text>
<line x1="306.90" y1="90.47" x2="309.50" y2="90.47" stroke="#111" stroke-width="1.1"/>
<text x="303.30" y="92.83" font-size="6.6" text-anchor="end" fill="#222">70</text>
<line x1="306.90" y1="105.40" x2="309.50" y2="105.40" stroke="#111" stroke-width="1.1"/>
<text x="303.30" y="107.76" font-size="6.6" text-anchor="end" fill="#222">60</text>
<line x1="309.50" y1="105.40" x2="367.50" y2="105.40" stroke="#111" stroke-width="1.1"/>
<line x1="313.50" y1="105.40" x2="313.50" y2="107.60" stroke="#111" stroke-width="1.1"/>
<text x="313.50" y="117.76" font-size="6.6" text-anchor="middle" fill="#222">0</text>
<line x1="323.64" y1="105.40" x2="323.64" y2="107.60" stroke="#111" stroke-width="1.1"/>
<text x="323.64" y="117.76" font-size="6.6" text-anchor="middle" fill="#222">2</text>
<line x1="333.78" y1="105.40" x2="333.78" y2="107.60" stroke="#111" stroke-width="1.1"/>
<text x="333.78" y="117.76" font-size="6.6" text-anchor="middle" fill="#222">4</text>
<line x1="343.92" y1="105.40" x2="343.92" y2="107.60" stroke="#111" stroke-width="1.1"/>
<text x="343.92" y="117.76" font-size="6.6" text-anchor="middle" fill="#222">6</text>
<line x1="354.06" y1="105.40" x2="354.06" y2="107.60" stroke="#111" stroke-width="1.1"/>
<text x="354.06" y="117.76" font-size="6.6" text-anchor="middle" fill="#222">8</text>
<line x1="364.20" y1="105.40" x2="364.20" y2="107.60" stroke="#111" stroke-width="1.1"/>
<text x="364.20" y="117.76" font-size="6.6" text-anchor="middle" fill="#222">10</text>
<text x="338.60" y="129.55" font-size="8.8" text-anchor="middle" fill="#222" font-weight="normal" stroke="#222" stroke-width="0.42" textLength="56.00" lengthAdjust="spacingAndGlyphs">Days post stimulation</text>
<text x="74.00" y="0" font-size="8.8" text-anchor="middle" fill="#222" font-weight="normal" stroke="#222" stroke-width="0.42" textLength="36.00" lengthAdjust="spacingAndGlyphs" transform="translate(287.35,74.00) rotate(-90) translate(-74.00,0)">% viable cells</text>
<polyline points="313.50,49.71 318.57,49.71 323.64,56.13 343.92,88.98 364.20,85.24" fill="none" stroke="#8f8fc0" stroke-width="0.85" stroke-linejoin="round" />
<rect x="312.10" y="48.31" width="2.8" height="2.8" fill="#8f8fc0" fill-opacity="0.55" stroke="#8f8fc0" stroke-width="0.7"/>
<rect x="317.17" y="48.31" width="2.8" height="2.8" fill="#8f8fc0" fill-opacity="0.55" stroke="#8f8fc0" stroke-width="0.7"/>
<rect x="322.24" y="54.73" width="2.8" height="2.8" fill="#8f8fc0" fill-opacity="0.55" stroke="#8f8fc0" stroke-width="0.7"/>
<line x1="343.92" y1="91.22" x2="343.92" y2="86.74" stroke="#8f8fc0" stroke-width="0.6"/>
<line x1="342.62" y1="91.22" x2="345.22" y2="91.22" stroke="#8f8fc0" stroke-width="0.6"/>
<rect x="342.52" y="87.58" width="2.8" height="2.8" fill="#8f8fc0" fill-opacity="0.55" stroke="#8f8fc0" stroke-width="0.7"/>
<line x1="364.20" y1="88.98" x2="364.20" y2="81.51" stroke="#8f8fc0" stroke-width="0.6"/>
<line x1="362.90" y1="88.98" x2="365.50" y2="88.98" stroke="#8f8fc0" stroke-width="0.6"/>
<rect x="362.80" y="83.84" width="2.8" height="2.8" fill="#8f8fc0" fill-opacity="0.55" stroke="#8f8fc0" stroke-width="0.7"/>
<polyline points="313.50,49.71 318.57,49.71 323.64,56.88 343.92,90.02 364.20,83.15" fill="none" stroke="#7a4a9a" stroke-width="0.85" stroke-linejoin="round" />
<rect x="312.10" y="48.31" width="2.8" height="2.8" fill="#7a4a9a" fill-opacity="0.55" stroke="#7a4a9a" stroke-width="0.7"/>
<rect x="317.17" y="48.31" width="2.8" height="2.8" fill="#7a4a9a" fill-opacity="0.55" stroke="#7a4a9a" stroke-width="0.7"/>
<rect x="322.24" y="55.48" width="2.8" height="2.8" fill="#7a4a9a" fill-opacity="0.55" stroke="#7a4a9a" stroke-width="0.7"/>
<line x1="343.92" y1="92.41" x2="343.92" y2="87.63" stroke="#7a4a9a" stroke-width="0.6"/>
<line x1="342.62" y1="92.41" x2="345.22" y2="92.41" stroke="#7a4a9a" stroke-width="0.6"/>
<rect x="342.52" y="88.62" width="2.8" height="2.8" fill="#7a4a9a" fill-opacity="0.55" stroke="#7a4a9a" stroke-width="0.7"/>
<line x1="364.20" y1="87.04" x2="364.20" y2="79.27" stroke="#7a4a9a" stroke-width="0.6"/>
<line x1="362.90" y1="87.04" x2="365.50" y2="87.04" stroke="#7a4a9a" stroke-width="0.6"/>
<rect x="362.80" y="81.75" width="2.8" height="2.8" fill="#7a4a9a" fill-opacity="0.55" stroke="#7a4a9a" stroke-width="0.7"/>
<polyline points="313.50,49.71 318.57,49.71 323.64,56.88 343.92,87.48 364.20,80.77" fill="none" stroke="#b0609a" stroke-width="0.85" stroke-linejoin="round" />
<rect x="312.10" y="48.31" width="2.8" height="2.8" fill="#b0609a" fill-opacity="0.55" stroke="#b0609a" stroke-width="0.7"/>
<rect x="317.17" y="48.31" width="2.8" height="2.8" fill="#b0609a" fill-opacity="0.55" stroke="#b0609a" stroke-width="0.7"/>
<rect x="322.24" y="55.48" width="2.8" height="2.8" fill="#b0609a" fill-opacity="0.55" stroke="#b0609a" stroke-width="0.7"/>
<line x1="343.92" y1="89.28" x2="343.92" y2="85.69" stroke="#b0609a" stroke-width="0.6"/>
<line x1="342.62" y1="89.28" x2="345.22" y2="89.28" stroke="#b0609a" stroke-width="0.6"/>
<rect x="342.52" y="86.08" width="2.8" height="2.8" fill="#b0609a" fill-opacity="0.55" stroke="#b0609a" stroke-width="0.7"/>
<line x1="364.20" y1="83.00" x2="364.20" y2="78.53" stroke="#b0609a" stroke-width="0.6"/>
<line x1="362.90" y1="83.00" x2="365.50" y2="83.00" stroke="#b0609a" stroke-width="0.6"/>
<rect x="362.80" y="79.37" width="2.8" height="2.8" fill="#b0609a" fill-opacity="0.55" stroke="#b0609a" stroke-width="0.7"/>
<polyline points="313.50,49.71 318.57,49.71 323.64,56.13 343.92,86.44 364.20,78.97" fill="none" stroke="#4a87b0" stroke-width="0.85" stroke-linejoin="round" />
<rect x="312.10" y="48.31" width="2.8" height="2.8" fill="#4a87b0" fill-opacity="0.55" stroke="#4a87b0" stroke-width="0.7"/>
<rect x="317.17" y="48.31" width="2.8" height="2.8" fill="#4a87b0" fill-opacity="0.55" stroke="#4a87b0" stroke-width="0.7"/>
<rect x="322.24" y="54.73" width="2.8" height="2.8" fill="#4a87b0" fill-opacity="0.55" stroke="#4a87b0" stroke-width="0.7"/>
<line x1="343.92" y1="90.17" x2="343.92" y2="82.71" stroke="#4a87b0" stroke-width="0.6"/>
<line x1="342.62" y1="90.17" x2="345.22" y2="90.17" stroke="#4a87b0" stroke-width="0.6"/>
<rect x="342.52" y="85.04" width="2.8" height="2.8" fill="#4a87b0" fill-opacity="0.55" stroke="#4a87b0" stroke-width="0.7"/>
<line x1="364.20" y1="82.71" x2="364.20" y2="75.24" stroke="#4a87b0" stroke-width="0.6"/>
<line x1="362.90" y1="82.71" x2="365.50" y2="82.71" stroke="#4a87b0" stroke-width="0.6"/>
<rect x="362.80" y="77.57" width="2.8" height="2.8" fill="#4a87b0" fill-opacity="0.55" stroke="#4a87b0" stroke-width="0.7"/>
<polyline points="313.50,49.71 318.57,49.71 323.64,55.38 343.92,81.81 364.20,74.49" fill="none" stroke="#3a8c8c" stroke-width="0.85" stroke-linejoin="round" />
<rect x="312.10" y="48.31" width="2.8" height="2.8" fill="#3a8c8c" fill-opacity="0.55" stroke="#3a8c8c" stroke-width="0.7"/>
<rect x="317.17" y="48.31" width="2.8" height="2.8" fill="#3a8c8c" fill-opacity="0.55" stroke="#3a8c8c" stroke-width="0.7"/>
<rect x="322.24" y="53.98" width="2.8" height="2.8" fill="#3a8c8c" fill-opacity="0.55" stroke="#3a8c8c" stroke-width="0.7"/>
<line x1="343.92" y1="83.60" x2="343.92" y2="80.02" stroke="#3a8c8c" stroke-width="0.6"/>
<line x1="342.62" y1="83.60" x2="345.22" y2="83.60" stroke="#3a8c8c" stroke-width="0.6"/>
<rect x="342.52" y="80.41" width="2.8" height="2.8" fill="#3a8c8c" fill-opacity="0.55" stroke="#3a8c8c" stroke-width="0.7"/>
<line x1="364.20" y1="77.18" x2="364.20" y2="71.81" stroke="#3a8c8c" stroke-width="0.6"/>
<line x1="362.90" y1="77.18" x2="365.50" y2="77.18" stroke="#3a8c8c" stroke-width="0.6"/>
<rect x="362.80" y="73.09" width="2.8" height="2.8" fill="#3a8c8c" fill-opacity="0.55" stroke="#3a8c8c" stroke-width="0.7"/>
<polyline points="313.50,49.71 318.57,49.71 323.64,53.15 343.92,69.27 364.20,55.38" fill="none" stroke="#3a3f48" stroke-width="0.85" stroke-linejoin="round" />
<rect x="312.10" y="48.31" width="2.8" height="2.8" fill="#3a3f48" fill-opacity="0.55" stroke="#3a3f48" stroke-width="0.7"/>
<rect x="317.17" y="48.31" width="2.8" height="2.8" fill="#3a3f48" fill-opacity="0.55" stroke="#3a3f48" stroke-width="0.7"/>
<rect x="322.24" y="51.75" width="2.8" height="2.8" fill="#3a3f48" fill-opacity="0.55" stroke="#3a3f48" stroke-width="0.7"/>
<line x1="343.92" y1="73.75" x2="343.92" y2="64.79" stroke="#3a3f48" stroke-width="0.6"/>
<line x1="342.62" y1="73.75" x2="345.22" y2="73.75" stroke="#3a3f48" stroke-width="0.6"/>
<rect x="342.52" y="67.87" width="2.8" height="2.8" fill="#3a3f48" fill-opacity="0.55" stroke="#3a3f48" stroke-width="0.7"/>
<line x1="364.20" y1="56.88" x2="364.20" y2="53.89" stroke="#3a3f48" stroke-width="0.6"/>
<line x1="362.90" y1="56.88" x2="365.50" y2="56.88" stroke="#3a3f48" stroke-width="0.6"/>
<rect x="362.80" y="53.98" width="2.8" height="2.8" fill="#3a3f48" fill-opacity="0.55" stroke="#3a3f48" stroke-width="0.7"/>
<polyline points="313.50,49.71 318.57,49.71 323.64,53.15 343.92,60.31 364.20,52.25" fill="none" stroke="#d8324f" stroke-width="0.85" stroke-linejoin="round" />
<rect x="312.10" y="48.31" width="2.8" height="2.8" fill="#d8324f" fill-opacity="0.55" stroke="#d8324f" stroke-width="0.7"/>
<rect x="317.17" y="48.31" width="2.8" height="2.8" fill="#d8324f" fill-opacity="0.55" stroke="#d8324f" stroke-width="0.7"/>
<rect x="322.24" y="51.75" width="2.8" height="2.8" fill="#d8324f" fill-opacity="0.55" stroke="#d8324f" stroke-width="0.7"/>
<line x1="343.92" y1="62.55" x2="343.92" y2="58.07" stroke="#d8324f" stroke-width="0.6"/>
<line x1="342.62" y1="62.55" x2="345.22" y2="62.55" stroke="#d8324f" stroke-width="0.6"/>
<rect x="342.52" y="58.91" width="2.8" height="2.8" fill="#d8324f" fill-opacity="0.55" stroke="#d8324f" stroke-width="0.7"/>
<line x1="364.20" y1="53.74" x2="364.20" y2="50.76" stroke="#d8324f" stroke-width="0.6"/>
<line x1="362.90" y1="53.74" x2="365.50" y2="53.74" stroke="#d8324f" stroke-width="0.6"/>
<rect x="362.80" y="50.85" width="2.8" height="2.8" fill="#d8324f" fill-opacity="0.55" stroke="#d8324f" stroke-width="0.7"/>
<rect x="311.90" y="48.11" width="3.2" height="3.2" fill="#7fb6e0" stroke="#2f7fc0" stroke-width="0.8"/>
<rect x="316.97" y="48.11" width="3.2" height="3.2" fill="#7fb6e0" stroke="#2f7fc0" stroke-width="0.8"/>
<rect x="322.04" y="53.04" width="3.2" height="3.2" fill="#5fa0c8" stroke="#2f7fc0" stroke-width="0.7"/>
<text x="461.40" y="28.00" font-size="6.7" text-anchor="middle" fill="#333" stroke="#333" stroke-width="0.12" textLength="58.40" lengthAdjust="spacingAndGlyphs">Cell viability at day10</text>
<rect x="411.90" y="58.76" width="8.00" height="46.64" fill="#f2b7ab" stroke="none" stroke-width="1" />
<rect x="421.74" y="60.62" width="8.00" height="44.78" fill="#bcc0df" stroke="none" stroke-width="1" />
<rect x="431.58" y="61.94" width="8.00" height="43.46" fill="#cfe7c9" stroke="none" stroke-width="1" />
<rect x="441.42" y="59.42" width="8.00" height="45.98" fill="#c9b9de" stroke="none" stroke-width="1" />
<rect x="451.26" y="75.06" width="8.00" height="30.34" fill="#fde0b4" stroke="none" stroke-width="1" />
<rect x="461.10" y="79.96" width="8.00" height="25.44" fill="#bfcdc3" stroke="none" stroke-width="1" />
<rect x="470.94" y="87.91" width="8.00" height="17.49" fill="#dfdbf1" stroke="none" stroke-width="1" />
<rect x="480.78" y="83.14" width="8.00" height="22.26" fill="#c9c8cd" stroke="none" stroke-width="1" />
<rect x="490.62" y="79.56" width="8.00" height="25.84" fill="#c9e3f6" stroke="none" stroke-width="1" />
<rect x="500.46" y="79.83" width="8.00" height="25.57" fill="#f7c1da" stroke="none" stroke-width="1" />
<line x1="407.50" y1="49.50" x2="407.50" y2="105.40" stroke="#111" stroke-width="1.1"/>
<line x1="404.90" y1="52.40" x2="407.50" y2="52.40" stroke="#111" stroke-width="1.1"/>
<text x="401.30" y="54.76" font-size="6.6" text-anchor="end" fill="#222">100</text>
<line x1="404.90" y1="65.65" x2="407.50" y2="65.65" stroke="#111" stroke-width="1.1"/>
<text x="401.30" y="68.01" font-size="6.6" text-anchor="end" fill="#222">90</text>
<line x1="404.90" y1="78.90" x2="407.50" y2="78.90" stroke="#111" stroke-width="1.1"/>
<text x="401.30" y="81.26" font-size="6.6" text-anchor="end" fill="#222">80</text>
<line x1="404.90" y1="92.15" x2="407.50" y2="92.15" stroke="#111" stroke-width="1.1"/>
<text x="401.30" y="94.51" font-size="6.6" text-anchor="end" fill="#222">70</text>
<line x1="404.90" y1="105.40" x2="407.50" y2="105.40" stroke="#111" stroke-width="1.1"/>
<text x="401.30" y="107.76" font-size="6.6" text-anchor="end" fill="#222">60</text>
<line x1="407.50" y1="105.40" x2="513.00" y2="105.40" stroke="#111" stroke-width="1.1"/>
<text x="77.60" y="0" font-size="8.8" text-anchor="middle" fill="#222" font-weight="normal" stroke="#222" stroke-width="0.42" textLength="42.00" lengthAdjust="spacingAndGlyphs" transform="translate(384.85,77.60) rotate(-90) translate(-77.60,0)">Viable cells (%)</text>
<line x1="415.90" y1="54.90" x2="415.90" y2="59.67" stroke="#d8324f" stroke-width="0.6"/>
<line x1="414.30" y1="54.90" x2="417.50" y2="54.90" stroke="#d8324f" stroke-width="0.6"/>
<line x1="413.50" y1="57.28" x2="418.30" y2="57.28" stroke="#d8324f" stroke-width="0.6"/>
<circle cx="414.30" cy="56.38" r="1.15" fill="#fff" stroke="#d8324f" stroke-width="0.7"/>
<circle cx="417.50" cy="56.91" r="1.15" fill="#fff" stroke="#d8324f" stroke-width="0.7"/>
<circle cx="415.90" cy="57.44" r="1.15" fill="#fff" stroke="#d8324f" stroke-width="0.7"/>
<circle cx="414.30" cy="57.97" r="1.15" fill="#fff" stroke="#d8324f" stroke-width="0.7"/>
<circle cx="417.50" cy="56.64" r="1.15" fill="#fff" stroke="#d8324f" stroke-width="0.7"/>
<circle cx="415.90" cy="58.36" r="1.15" fill="#fff" stroke="#d8324f" stroke-width="0.7"/>
<line x1="425.74" y1="56.42" x2="425.74" y2="61.19" stroke="#2f5f8f" stroke-width="0.6"/>
<line x1="424.14" y1="56.42" x2="427.34" y2="56.42" stroke="#2f5f8f" stroke-width="0.6"/>
<line x1="423.34" y1="58.80" x2="428.14" y2="58.80" stroke="#2f5f8f" stroke-width="0.6"/>
<path d="M424.14 56.55L425.29 57.70L424.14 58.85L422.99 57.70Z" fill="#2f5f8f" stroke="#2f5f8f" stroke-width="0.6"/>
<path d="M427.34 57.21L428.49 58.36L427.34 59.51L426.19 58.36Z" fill="#2f5f8f" stroke="#2f5f8f" stroke-width="0.6"/>
<path d="M425.74 57.88L426.89 59.03L425.74 60.18L424.59 59.03Z" fill="#2f5f8f" stroke="#2f5f8f" stroke-width="0.6"/>
<path d="M424.14 58.54L425.29 59.69L424.14 60.84L422.99 59.69Z" fill="#2f5f8f" stroke="#2f5f8f" stroke-width="0.6"/>
<path d="M427.34 56.82L428.49 57.97L427.34 59.12L426.19 57.97Z" fill="#2f5f8f" stroke="#2f5f8f" stroke-width="0.6"/>
<path d="M425.74 58.94L426.89 60.09L425.74 61.23L424.59 60.09Z" fill="#2f5f8f" stroke="#2f5f8f" stroke-width="0.6"/>
<line x1="435.58" y1="58.31" x2="435.58" y2="63.08" stroke="#5cb85c" stroke-width="0.6"/>
<line x1="433.98" y1="58.31" x2="437.18" y2="58.31" stroke="#5cb85c" stroke-width="0.6"/>
<line x1="433.18" y1="60.69" x2="437.98" y2="60.69" stroke="#5cb85c" stroke-width="0.6"/>
<path d="M433.98 58.94L435.13 61.01L432.83 61.01Z" fill="#5cb85c" stroke="#5cb85c" stroke-width="0.6"/>
<path d="M437.18 59.47L438.33 61.54L436.03 61.54Z" fill="#5cb85c" stroke="#5cb85c" stroke-width="0.6"/>
<path d="M435.58 59.86L436.73 61.93L434.43 61.93Z" fill="#5cb85c" stroke="#5cb85c" stroke-width="0.6"/>
<path d="M433.98 60.26L435.13 62.33L432.83 62.33Z" fill="#5cb85c" stroke="#5cb85c" stroke-width="0.6"/>
<path d="M437.18 59.20L438.33 61.27L436.03 61.27Z" fill="#5cb85c" stroke="#5cb85c" stroke-width="0.6"/>
<line x1="445.42" y1="57.59" x2="445.42" y2="62.36" stroke="#5b2a7e" stroke-width="0.6"/>
<line x1="443.82" y1="57.59" x2="447.02" y2="57.59" stroke="#5b2a7e" stroke-width="0.6"/>
<line x1="443.02" y1="59.97" x2="447.82" y2="59.97" stroke="#5b2a7e" stroke-width="0.6"/>
<path d="M443.82 58.06L444.97 55.99L442.67 55.99Z" fill="#5b2a7e" stroke="#5b2a7e" stroke-width="0.6"/>
<path d="M447.02 58.06L448.17 55.99L445.87 55.99Z" fill="#5b2a7e" stroke="#5b2a7e" stroke-width="0.6"/>
<path d="M445.42 60.18L446.57 58.11L444.27 58.11Z" fill="#5b2a7e" stroke="#5b2a7e" stroke-width="0.6"/>
<path d="M443.82 62.83L444.97 60.76L442.67 60.76Z" fill="#5b2a7e" stroke="#5b2a7e" stroke-width="0.6"/>
<path d="M447.02 66.80L448.17 64.73L445.87 64.73Z" fill="#5b2a7e" stroke="#5b2a7e" stroke-width="0.6"/>
<path d="M445.42 60.84L446.57 58.77L444.27 58.77Z" fill="#5b2a7e" stroke="#5b2a7e" stroke-width="0.6"/>
<line x1="455.26" y1="73.42" x2="455.26" y2="78.19" stroke="#f0a43a" stroke-width="0.6"/>
<line x1="453.66" y1="73.42" x2="456.86" y2="73.42" stroke="#f0a43a" stroke-width="0.6"/>
<line x1="452.86" y1="75.81" x2="457.66" y2="75.81" stroke="#f0a43a" stroke-width="0.6"/>
<path d="M453.66 66.98L454.03 67.79L454.92 67.89L454.26 68.50L454.44 69.37L453.66 68.93L452.88 69.37L453.06 68.50L452.40 67.89L453.29 67.79Z" fill="#f0a43a" stroke="none"/>
<path d="M456.86 72.28L457.23 73.09L458.12 73.19L457.46 73.80L457.64 74.67L456.86 74.23L456.08 74.67L456.26 73.80L455.60 73.19L456.49 73.09Z" fill="#f0a43a" stroke="none"/>
<path d="M455.26 73.60L455.63 74.41L456.52 74.52L455.86 75.12L456.04 75.99L455.26 75.56L454.48 75.99L454.66 75.12L454.00 74.52L454.89 74.41Z" fill="#f0a43a" stroke="none"/>
<path d="M453.66 77.58L454.03 78.39L454.92 78.49L454.26 79.10L454.44 79.97L453.66 79.53L452.88 79.97L453.06 79.10L452.40 78.49L453.29 78.39Z" fill="#f0a43a" stroke="none"/>
<path d="M456.86 81.55L457.23 82.36L458.12 82.47L457.46 83.07L457.64 83.94L456.86 83.51L456.08 83.94L456.26 83.07L455.60 82.47L456.49 82.36Z" fill="#f0a43a" stroke="none"/>
<path d="M455.26 74.93L455.63 75.74L456.52 75.84L455.86 76.45L456.04 77.32L455.26 76.88L454.48 77.32L454.66 76.45L454.00 75.84L454.89 75.74Z" fill="#f0a43a" stroke="none"/>
<line x1="465.10" y1="77.40" x2="465.10" y2="82.17" stroke="#2f7a62" stroke-width="0.6"/>
<line x1="463.50" y1="77.40" x2="466.70" y2="77.40" stroke="#2f7a62" stroke-width="0.6"/>
<line x1="462.70" y1="79.78" x2="467.50" y2="79.78" stroke="#2f7a62" stroke-width="0.6"/>
<path d="M463.50 72.10L464.65 70.03L462.35 70.03Z" fill="#2f7a62" stroke="#2f7a62" stroke-width="0.6"/>
<path d="M466.70 77.40L467.85 75.33L465.55 75.33Z" fill="#2f7a62" stroke="#2f7a62" stroke-width="0.6"/>
<path d="M465.10 78.73L466.25 76.66L463.95 76.66Z" fill="#2f7a62" stroke="#2f7a62" stroke-width="0.6"/>
<path d="M463.50 81.38L464.65 79.31L462.35 79.31Z" fill="#2f7a62" stroke="#2f7a62" stroke-width="0.6"/>
<path d="M466.70 85.35L467.85 83.28L465.55 83.28Z" fill="#2f7a62" stroke="#2f7a62" stroke-width="0.6"/>
<path d="M465.10 90.65L466.25 88.58L463.95 88.58Z" fill="#2f7a62" stroke="#2f7a62" stroke-width="0.6"/>
<line x1="474.94" y1="83.18" x2="474.94" y2="87.95" stroke="#a59fd6" stroke-width="0.6"/>
<line x1="473.34" y1="83.18" x2="476.54" y2="83.18" stroke="#a59fd6" stroke-width="0.6"/>
<line x1="472.54" y1="85.57" x2="477.34" y2="85.57" stroke="#a59fd6" stroke-width="0.6"/>
<path d="M473.34 76.69L474.49 78.76L472.19 78.76Z" fill="#a59fd6" stroke="#a59fd6" stroke-width="0.6"/>
<path d="M476.54 81.72L477.69 83.80L475.39 83.80Z" fill="#a59fd6" stroke="#a59fd6" stroke-width="0.6"/>
<path d="M474.94 83.05L476.09 85.12L473.79 85.12Z" fill="#a59fd6" stroke="#a59fd6" stroke-width="0.6"/>
<path d="M473.34 87.03L474.49 89.10L472.19 89.10Z" fill="#a59fd6" stroke="#a59fd6" stroke-width="0.6"/>
<path d="M476.54 89.67L477.69 91.75L475.39 91.75Z" fill="#a59fd6" stroke="#a59fd6" stroke-width="0.6"/>
<path d="M474.94 88.35L476.09 90.42L473.79 90.42Z" fill="#a59fd6" stroke="#a59fd6" stroke-width="0.6"/>
<line x1="484.78" y1="82.50" x2="484.78" y2="87.27" stroke="#4d4d4d" stroke-width="0.6"/>
<line x1="483.18" y1="82.50" x2="486.38" y2="82.50" stroke="#4d4d4d" stroke-width="0.6"/>
<line x1="482.38" y1="84.88" x2="487.18" y2="84.88" stroke="#4d4d4d" stroke-width="0.6"/>
<path d="M483.18 78.99L484.33 76.92L482.03 76.92Z" fill="#4d4d4d" stroke="#4d4d4d" stroke-width="0.6"/>
<path d="M486.38 84.03L487.53 81.95L485.23 81.95Z" fill="#4d4d4d" stroke="#4d4d4d" stroke-width="0.6"/>
<path d="M484.78 84.03L485.93 81.95L483.63 81.95Z" fill="#4d4d4d" stroke="#4d4d4d" stroke-width="0.6"/>
<path d="M483.18 85.35L484.33 83.28L482.03 83.28Z" fill="#4d4d4d" stroke="#4d4d4d" stroke-width="0.6"/>
<path d="M486.38 88.66L487.53 86.59L485.23 86.59Z" fill="#4d4d4d" stroke="#4d4d4d" stroke-width="0.6"/>
<path d="M484.78 95.16L485.93 93.09L483.63 93.09Z" fill="#4d4d4d" stroke="#4d4d4d" stroke-width="0.6"/>
<line x1="494.62" y1="76.65" x2="494.62" y2="81.42" stroke="#4aa3e0" stroke-width="0.6"/>
<line x1="493.02" y1="76.65" x2="496.22" y2="76.65" stroke="#4aa3e0" stroke-width="0.6"/>
<line x1="492.22" y1="79.03" x2="497.02" y2="79.03" stroke="#4aa3e0" stroke-width="0.6"/>
<path d="M493.02 68.30L493.39 69.11L494.28 69.22L493.62 69.82L493.80 70.69L493.02 70.26L492.24 70.69L492.42 69.82L491.76 69.22L492.65 69.11Z" fill="#4aa3e0" stroke="none"/>
<path d="M496.22 75.72L496.59 76.53L497.48 76.64L496.82 77.24L497.00 78.11L496.22 77.68L495.44 78.11L495.62 77.24L494.96 76.64L495.85 76.53Z" fill="#4aa3e0" stroke="none"/>
<path d="M494.62 76.25L494.99 77.06L495.88 77.17L495.22 77.77L495.40 78.64L494.62 78.21L493.84 78.64L494.02 77.77L493.36 77.17L494.25 77.06Z" fill="#4aa3e0" stroke="none"/>
<path d="M493.02 79.70L493.39 80.51L494.28 80.61L493.62 81.22L493.80 82.09L493.02 81.65L492.24 82.09L492.42 81.22L491.76 80.61L492.65 80.51Z" fill="#4aa3e0" stroke="none"/>
<path d="M496.22 81.55L496.59 82.36L497.48 82.47L496.82 83.07L497.00 83.94L496.22 83.51L495.44 83.94L495.62 83.07L494.96 82.47L495.85 82.36Z" fill="#4aa3e0" stroke="none"/>
<path d="M494.62 84.73L494.99 85.54L495.88 85.65L495.22 86.25L495.40 87.12L494.62 86.69L493.84 87.12L494.02 86.25L493.36 85.65L494.25 85.54Z" fill="#4aa3e0" stroke="none"/>
<line x1="504.46" y1="76.47" x2="504.46" y2="81.24" stroke="#d62a7e" stroke-width="0.6"/>
<line x1="502.86" y1="76.47" x2="506.06" y2="76.47" stroke="#d62a7e" stroke-width="0.6"/>
<line x1="502.06" y1="78.86" x2="506.86" y2="78.86" stroke="#d62a7e" stroke-width="0.6"/>
<path d="M502.86 70.25L504.01 68.17L501.71 68.17Z" fill="#d62a7e" stroke="#d62a7e" stroke-width="0.6"/>
<path d="M506.06 75.41L507.21 73.34L504.91 73.34Z" fill="#d62a7e" stroke="#d62a7e" stroke-width="0.6"/>
<path d="M504.46 78.73L505.61 76.66L503.31 76.66Z" fill="#d62a7e" stroke="#d62a7e" stroke-width="0.6"/>
<path d="M502.86 78.99L504.01 76.92L501.71 76.92Z" fill="#d62a7e" stroke="#d62a7e" stroke-width="0.6"/>
<path d="M506.06 81.91L507.21 79.84L504.91 79.84Z" fill="#d62a7e" stroke="#d62a7e" stroke-width="0.6"/>
<path d="M504.46 94.76L505.61 92.69L503.31 92.69Z" fill="#d62a7e" stroke="#d62a7e" stroke-width="0.6"/>
<text x="415.90" y="49.89" font-size="6.4" text-anchor="middle" fill="#333">ns</text>
<text x="435.58" y="49.89" font-size="6.4" text-anchor="middle" fill="#333">ns</text>
<text x="445.42" y="49.89" font-size="6.4" text-anchor="middle" fill="#333">ns</text>
<text x="425.74" y="49.29" font-size="6.4" text-anchor="middle" fill="#333">-</text>
<text x="486.20" y="50.50" font-size="6.7" text-anchor="middle" fill="#222" stroke="#222" stroke-width="0.12" textLength="38.50" lengthAdjust="spacingAndGlyphs">(v.s. 19CART)</text>
<circle cx="455.26" cy="61.30" r="0.8" fill="#1a1a1a"/>
<circle cx="455.26" cy="63.75" r="0.8" fill="#1a1a1a"/>
<circle cx="455.26" cy="66.20" r="0.8" fill="#1a1a1a"/>
<circle cx="465.10" cy="60.70" r="0.8" fill="#1a1a1a"/>
<circle cx="465.10" cy="63.15" r="0.8" fill="#1a1a1a"/>
<circle cx="465.10" cy="65.60" r="0.8" fill="#1a1a1a"/>
<circle cx="465.10" cy="68.05" r="0.8" fill="#1a1a1a"/>
<circle cx="474.94" cy="62.50" r="0.8" fill="#1a1a1a"/>
<circle cx="474.94" cy="64.95" r="0.8" fill="#1a1a1a"/>
<circle cx="474.94" cy="67.40" r="0.8" fill="#1a1a1a"/>
<circle cx="474.94" cy="69.85" r="0.8" fill="#1a1a1a"/>
<circle cx="484.78" cy="62.50" r="0.8" fill="#1a1a1a"/>
<circle cx="484.78" cy="64.95" r="0.8" fill="#1a1a1a"/>
<circle cx="484.78" cy="67.40" r="0.8" fill="#1a1a1a"/>
<circle cx="484.78" cy="69.85" r="0.8" fill="#1a1a1a"/>
<circle cx="494.62" cy="56.50" r="0.8" fill="#1a1a1a"/>
<circle cx="494.62" cy="58.95" r="0.8" fill="#1a1a1a"/>
<circle cx="494.62" cy="61.40" r="0.8" fill="#1a1a1a"/>
<circle cx="494.62" cy="63.85" r="0.8" fill="#1a1a1a"/>
<circle cx="504.46" cy="56.50" r="0.8" fill="#1a1a1a"/>
<circle cx="504.46" cy="58.95" r="0.8" fill="#1a1a1a"/>
<circle cx="504.46" cy="61.40" r="0.8" fill="#1a1a1a"/>
<circle cx="504.46" cy="63.85" r="0.8" fill="#1a1a1a"/>
<text x="6.8" y="171.9" font-size="11" font-weight="bold" fill="#000">C</text>
<text x="78.30" y="177.40" font-size="6.7" text-anchor="middle" fill="#333" stroke="#333" stroke-width="0.12" textLength="44.60" lengthAdjust="spacingAndGlyphs">CAR expression</text>
<line x1="48.10" y1="189.50" x2="48.10" y2="250.60" stroke="#111" stroke-width="1.1"/>
<line x1="45.50" y1="191.85" x2="48.10" y2="191.85" stroke="#111" stroke-width="1.1"/>
<text x="42.20" y="194.21" font-size="6.6" text-anchor="end" fill="#222">100</text>
<line x1="45.50" y1="203.10" x2="48.10" y2="203.10" stroke="#111" stroke-width="1.1"/>
<text x="42.20" y="205.46" font-size="6.6" text-anchor="end" fill="#222">80</text>
<line x1="45.50" y1="214.35" x2="48.10" y2="214.35" stroke="#111" stroke-width="1.1"/>
<text x="42.20" y="216.71" font-size="6.6" text-anchor="end" fill="#222">60</text>
<line x1="45.50" y1="225.60" x2="48.10" y2="225.60" stroke="#111" stroke-width="1.1"/>
<text x="42.20" y="227.96" font-size="6.6" text-anchor="end" fill="#222">40</text>
<line x1="45.50" y1="236.85" x2="48.10" y2="236.85" stroke="#111" stroke-width="1.1"/>
<text x="42.20" y="239.21" font-size="6.6" text-anchor="end" fill="#222">20</text>
<line x1="45.50" y1="248.10" x2="48.10" y2="248.10" stroke="#111" stroke-width="1.1"/>
<text x="42.20" y="250.46" font-size="6.6" text-anchor="end" fill="#222">0</text>
<line x1="48.10" y1="250.60" x2="106.50" y2="250.60" stroke="#111" stroke-width="1.1"/>
<line x1="52.50" y1="250.60" x2="52.50" y2="252.80" stroke="#111" stroke-width="1.1"/>
<text x="52.50" y="262.96" font-size="6.6" text-anchor="middle" fill="#222">0</text>
<line x1="62.68" y1="250.60" x2="62.68" y2="252.80" stroke="#111" stroke-width="1.1"/>
<text x="62.68" y="262.96" font-size="6.6" text-anchor="middle" fill="#222">2</text>
<line x1="72.86" y1="250.60" x2="72.86" y2="252.80" stroke="#111" stroke-width="1.1"/>
<text x="72.86" y="262.96" font-size="6.6" text-anchor="middle" fill="#222">4</text>
<line x1="83.04" y1="250.60" x2="83.04" y2="252.80" stroke="#111" stroke-width="1.1"/>
<text x="83.04" y="262.96" font-size="6.6" text-anchor="middle" fill="#222">6</text>
<line x1="93.22" y1="250.60" x2="93.22" y2="252.80" stroke="#111" stroke-width="1.1"/>
<text x="93.22" y="262.96" font-size="6.6" text-anchor="middle" fill="#222">8</text>
<line x1="103.40" y1="250.60" x2="103.40" y2="252.80" stroke="#111" stroke-width="1.1"/>
<text x="103.40" y="262.96" font-size="6.6" text-anchor="middle" fill="#222">10</text>
<text x="78.55" y="275.65" font-size="8.8" text-anchor="middle" fill="#222" font-weight="normal" stroke="#222" stroke-width="0.42" textLength="56.70" lengthAdjust="spacingAndGlyphs">Days post stimulation</text>
<text x="220.00" y="0" font-size="8.8" text-anchor="middle" fill="#222" font-weight="normal" stroke="#222" stroke-width="0.42" textLength="40.70" lengthAdjust="spacingAndGlyphs" transform="translate(26.15,220.00) rotate(-90) translate(-220.00,0)">% CAR positive</text>
<polyline points="52.50,248.10 57.59,248.10 62.68,218.85 83.04,216.04 103.40,218.85" fill="none" stroke="#5cb85c" stroke-width="0.75" stroke-linejoin="round" />
<line x1="62.68" y1="215.35" x2="62.68" y2="222.35" stroke="#5cb85c" stroke-width="0.6"/>
<line x1="61.48" y1="215.35" x2="63.88" y2="215.35" stroke="#5cb85c" stroke-width="0.5"/>
<line x1="61.48" y1="222.35" x2="63.88" y2="222.35" stroke="#5cb85c" stroke-width="0.5"/>
<rect x="61.18" y="217.35" width="3" height="3" fill="#5cb85c" fill-opacity="0.6" stroke="#5cb85c" stroke-width="0.6"/>
<line x1="83.04" y1="212.54" x2="83.04" y2="219.54" stroke="#5cb85c" stroke-width="0.6"/>
<line x1="81.84" y1="212.54" x2="84.24" y2="212.54" stroke="#5cb85c" stroke-width="0.5"/>
<line x1="81.84" y1="219.54" x2="84.24" y2="219.54" stroke="#5cb85c" stroke-width="0.5"/>
<rect x="81.54" y="214.54" width="3" height="3" fill="#5cb85c" fill-opacity="0.6" stroke="#5cb85c" stroke-width="0.6"/>
<line x1="103.40" y1="215.35" x2="103.40" y2="222.35" stroke="#5cb85c" stroke-width="0.6"/>
<line x1="102.20" y1="215.35" x2="104.60" y2="215.35" stroke="#5cb85c" stroke-width="0.5"/>
<line x1="102.20" y1="222.35" x2="104.60" y2="222.35" stroke="#5cb85c" stroke-width="0.5"/>
<rect x="101.90" y="217.35" width="3" height="3" fill="#5cb85c" fill-opacity="0.6" stroke="#5cb85c" stroke-width="0.6"/>
<polyline points="52.50,248.10 57.59,248.10 62.68,219.97 83.04,216.60 103.40,218.85" fill="none" stroke="#f0a43a" stroke-width="0.75" stroke-linejoin="round" />
<line x1="62.68" y1="216.47" x2="62.68" y2="223.47" stroke="#f0a43a" stroke-width="0.6"/>
<line x1="61.48" y1="216.47" x2="63.88" y2="216.47" stroke="#f0a43a" stroke-width="0.5"/>
<line x1="61.48" y1="223.47" x2="63.88" y2="223.47" stroke="#f0a43a" stroke-width="0.5"/>
<rect x="61.18" y="218.47" width="3" height="3" fill="#f0a43a" fill-opacity="0.6" stroke="#f0a43a" stroke-width="0.6"/>
<line x1="83.04" y1="213.10" x2="83.04" y2="220.10" stroke="#f0a43a" stroke-width="0.6"/>
<line x1="81.84" y1="213.10" x2="84.24" y2="213.10" stroke="#f0a43a" stroke-width="0.5"/>
<line x1="81.84" y1="220.10" x2="84.24" y2="220.10" stroke="#f0a43a" stroke-width="0.5"/>
<rect x="81.54" y="215.10" width="3" height="3" fill="#f0a43a" fill-opacity="0.6" stroke="#f0a43a" stroke-width="0.6"/>
<line x1="103.40" y1="215.35" x2="103.40" y2="222.35" stroke="#f0a43a" stroke-width="0.6"/>
<line x1="102.20" y1="215.35" x2="104.60" y2="215.35" stroke="#f0a43a" stroke-width="0.5"/>
<line x1="102.20" y1="222.35" x2="104.60" y2="222.35" stroke="#f0a43a" stroke-width="0.5"/>
<rect x="101.90" y="217.35" width="3" height="3" fill="#f0a43a" fill-opacity="0.6" stroke="#f0a43a" stroke-width="0.6"/>
<polyline points="52.50,248.10 57.59,248.10 62.68,217.16 83.04,213.79 103.40,216.60" fill="none" stroke="#2f7a62" stroke-width="0.75" stroke-linejoin="round" />
<line x1="62.68" y1="213.66" x2="62.68" y2="220.66" stroke="#2f7a62" stroke-width="0.6"/>
<line x1="61.48" y1="213.66" x2="63.88" y2="213.66" stroke="#2f7a62" stroke-width="0.5"/>
<line x1="61.48" y1="220.66" x2="63.88" y2="220.66" stroke="#2f7a62" stroke-width="0.5"/>
<rect x="61.18" y="215.66" width="3" height="3" fill="#2f7a62" fill-opacity="0.6" stroke="#2f7a62" stroke-width="0.6"/>
<line x1="83.04" y1="210.29" x2="83.04" y2="217.29" stroke="#2f7a62" stroke-width="0.6"/>
<line x1="81.84" y1="210.29" x2="84.24" y2="210.29" stroke="#2f7a62" stroke-width="0.5"/>
<line x1="81.84" y1="217.29" x2="84.24" y2="217.29" stroke="#2f7a62" stroke-width="0.5"/>
<rect x="81.54" y="212.29" width="3" height="3" fill="#2f7a62" fill-opacity="0.6" stroke="#2f7a62" stroke-width="0.6"/>
<line x1="103.40" y1="213.10" x2="103.40" y2="220.10" stroke="#2f7a62" stroke-width="0.6"/>
<line x1="102.20" y1="213.10" x2="104.60" y2="213.10" stroke="#2f7a62" stroke-width="0.5"/>
<line x1="102.20" y1="220.10" x2="104.60" y2="220.10" stroke="#2f7a62" stroke-width="0.5"/>
<rect x="101.90" y="215.10" width="3" height="3" fill="#2f7a62" fill-opacity="0.6" stroke="#2f7a62" stroke-width="0.6"/>
<polyline points="52.50,248.10 57.59,248.10 62.68,216.04 83.04,208.72 103.40,203.66" fill="none" stroke="#4aa3e0" stroke-width="0.75" stroke-linejoin="round" />
<line x1="62.68" y1="212.54" x2="62.68" y2="219.54" stroke="#4aa3e0" stroke-width="0.6"/>
<line x1="61.48" y1="212.54" x2="63.88" y2="212.54" stroke="#4aa3e0" stroke-width="0.5"/>
<line x1="61.48" y1="219.54" x2="63.88" y2="219.54" stroke="#4aa3e0" stroke-width="0.5"/>
<rect x="61.18" y="214.54" width="3" height="3" fill="#4aa3e0" fill-opacity="0.6" stroke="#4aa3e0" stroke-width="0.6"/>
<line x1="83.04" y1="205.22" x2="83.04" y2="212.22" stroke="#4aa3e0" stroke-width="0.6"/>
<line x1="81.84" y1="205.22" x2="84.24" y2="205.22" stroke="#4aa3e0" stroke-width="0.5"/>
<line x1="81.84" y1="212.22" x2="84.24" y2="212.22" stroke="#4aa3e0" stroke-width="0.5"/>
<rect x="81.54" y="207.22" width="3" height="3" fill="#4aa3e0" fill-opacity="0.6" stroke="#4aa3e0" stroke-width="0.6"/>
<line x1="103.40" y1="200.16" x2="103.40" y2="207.16" stroke="#4aa3e0" stroke-width="0.6"/>
<line x1="102.20" y1="200.16" x2="104.60" y2="200.16" stroke="#4aa3e0" stroke-width="0.5"/>
<line x1="102.20" y1="207.16" x2="104.60" y2="207.16" stroke="#4aa3e0" stroke-width="0.5"/>
<rect x="101.90" y="202.16" width="3" height="3" fill="#4aa3e0" fill-opacity="0.6" stroke="#4aa3e0" stroke-width="0.6"/>
<polyline points="52.50,248.10 57.59,248.10 62.68,216.04 83.04,208.72 103.40,203.10" fill="none" stroke="#a59fd6" stroke-width="0.75" stroke-linejoin="round" />
<line x1="62.68" y1="212.54" x2="62.68" y2="219.54" stroke="#a59fd6" stroke-width="0.6"/>
<line x1="61.48" y1="212.54" x2="63.88" y2="212.54" stroke="#a59fd6" stroke-width="0.5"/>
<line x1="61.48" y1="219.54" x2="63.88" y2="219.54" stroke="#a59fd6" stroke-width="0.5"/>
<rect x="61.18" y="214.54" width="3" height="3" fill="#a59fd6" fill-opacity="0.6" stroke="#a59fd6" stroke-width="0.6"/>
<line x1="83.04" y1="205.22" x2="83.04" y2="212.22" stroke="#a59fd6" stroke-width="0.6"/>
<line x1="81.84" y1="205.22" x2="84.24" y2="205.22" stroke="#a59fd6" stroke-width="0.5"/>
<line x1="81.84" y1="212.22" x2="84.24" y2="212.22" stroke="#a59fd6" stroke-width="0.5"/>
<rect x="81.54" y="207.22" width="3" height="3" fill="#a59fd6" fill-opacity="0.6" stroke="#a59fd6" stroke-width="0.6"/>
<line x1="103.40" y1="199.60" x2="103.40" y2="206.60" stroke="#a59fd6" stroke-width="0.6"/>
<line x1="102.20" y1="199.60" x2="104.60" y2="199.60" stroke="#a59fd6" stroke-width="0.5"/>
<line x1="102.20" y1="206.60" x2="104.60" y2="206.60" stroke="#a59fd6" stroke-width="0.5"/>
<rect x="101.90" y="201.60" width="3" height="3" fill="#a59fd6" fill-opacity="0.6" stroke="#a59fd6" stroke-width="0.6"/>
<polyline points="52.50,248.10 57.59,248.10 62.68,216.60 83.04,204.22 103.40,200.85" fill="none" stroke="#d62a7e" stroke-width="0.75" stroke-linejoin="round" />
<line x1="62.68" y1="213.10" x2="62.68" y2="220.10" stroke="#d62a7e" stroke-width="0.6"/>
<line x1="61.48" y1="213.10" x2="63.88" y2="213.10" stroke="#d62a7e" stroke-width="0.5"/>
<line x1="61.48" y1="220.10" x2="63.88" y2="220.10" stroke="#d62a7e" stroke-width="0.5"/>
<rect x="61.18" y="215.10" width="3" height="3" fill="#d62a7e" fill-opacity="0.6" stroke="#d62a7e" stroke-width="0.6"/>
<line x1="83.04" y1="200.72" x2="83.04" y2="207.72" stroke="#d62a7e" stroke-width="0.6"/>
<line x1="81.84" y1="200.72" x2="84.24" y2="200.72" stroke="#d62a7e" stroke-width="0.5"/>
<line x1="81.84" y1="207.72" x2="84.24" y2="207.72" stroke="#d62a7e" stroke-width="0.5"/>
<rect x="81.54" y="202.72" width="3" height="3" fill="#d62a7e" fill-opacity="0.6" stroke="#d62a7e" stroke-width="0.6"/>
<line x1="103.40" y1="197.35" x2="103.40" y2="204.35" stroke="#d62a7e" stroke-width="0.6"/>
<line x1="102.20" y1="197.35" x2="104.60" y2="197.35" stroke="#d62a7e" stroke-width="0.5"/>
<line x1="102.20" y1="204.35" x2="104.60" y2="204.35" stroke="#d62a7e" stroke-width="0.5"/>
<rect x="101.90" y="199.35" width="3" height="3" fill="#d62a7e" fill-opacity="0.6" stroke="#d62a7e" stroke-width="0.6"/>
<polyline points="52.50,248.10 57.59,248.10 62.68,217.16 83.04,203.10 103.40,194.10" fill="none" stroke="#5b2a7e" stroke-width="0.75" stroke-linejoin="round" />
<line x1="62.68" y1="213.66" x2="62.68" y2="220.66" stroke="#5b2a7e" stroke-width="0.6"/>
<line x1="61.48" y1="213.66" x2="63.88" y2="213.66" stroke="#5b2a7e" stroke-width="0.5"/>
<line x1="61.48" y1="220.66" x2="63.88" y2="220.66" stroke="#5b2a7e" stroke-width="0.5"/>
<rect x="61.18" y="215.66" width="3" height="3" fill="#5b2a7e" fill-opacity="0.6" stroke="#5b2a7e" stroke-width="0.6"/>
<line x1="83.04" y1="199.60" x2="83.04" y2="206.60" stroke="#5b2a7e" stroke-width="0.6"/>
<line x1="81.84" y1="199.60" x2="84.24" y2="199.60" stroke="#5b2a7e" stroke-width="0.5"/>
<line x1="81.84" y1="206.60" x2="84.24" y2="206.60" stroke="#5b2a7e" stroke-width="0.5"/>
<rect x="81.54" y="201.60" width="3" height="3" fill="#5b2a7e" fill-opacity="0.6" stroke="#5b2a7e" stroke-width="0.6"/>
<line x1="103.40" y1="190.60" x2="103.40" y2="197.60" stroke="#5b2a7e" stroke-width="0.6"/>
<line x1="102.20" y1="190.60" x2="104.60" y2="190.60" stroke="#5b2a7e" stroke-width="0.5"/>
<line x1="102.20" y1="197.60" x2="104.60" y2="197.60" stroke="#5b2a7e" stroke-width="0.5"/>
<rect x="101.90" y="192.60" width="3" height="3" fill="#5b2a7e" fill-opacity="0.6" stroke="#5b2a7e" stroke-width="0.6"/>
<polyline points="52.50,248.10 57.59,248.10 62.68,222.79 83.04,206.47 103.40,195.22" fill="none" stroke="#4d4d4d" stroke-width="0.75" stroke-linejoin="round" />
<line x1="62.68" y1="219.29" x2="62.68" y2="226.29" stroke="#4d4d4d" stroke-width="0.6"/>
<line x1="61.48" y1="219.29" x2="63.88" y2="219.29" stroke="#4d4d4d" stroke-width="0.5"/>
<line x1="61.48" y1="226.29" x2="63.88" y2="226.29" stroke="#4d4d4d" stroke-width="0.5"/>
<rect x="61.18" y="221.29" width="3" height="3" fill="#4d4d4d" fill-opacity="0.6" stroke="#4d4d4d" stroke-width="0.6"/>
<line x1="83.04" y1="202.97" x2="83.04" y2="209.97" stroke="#4d4d4d" stroke-width="0.6"/>
<line x1="81.84" y1="202.97" x2="84.24" y2="202.97" stroke="#4d4d4d" stroke-width="0.5"/>
<line x1="81.84" y1="209.97" x2="84.24" y2="209.97" stroke="#4d4d4d" stroke-width="0.5"/>
<rect x="81.54" y="204.97" width="3" height="3" fill="#4d4d4d" fill-opacity="0.6" stroke="#4d4d4d" stroke-width="0.6"/>
<line x1="103.40" y1="191.72" x2="103.40" y2="198.72" stroke="#4d4d4d" stroke-width="0.6"/>
<line x1="102.20" y1="191.72" x2="104.60" y2="191.72" stroke="#4d4d4d" stroke-width="0.5"/>
<line x1="102.20" y1="198.72" x2="104.60" y2="198.72" stroke="#4d4d4d" stroke-width="0.5"/>
<rect x="101.90" y="193.72" width="3" height="3" fill="#4d4d4d" fill-opacity="0.6" stroke="#4d4d4d" stroke-width="0.6"/>
<polyline points="52.50,248.10 57.59,248.10 62.68,225.60 83.04,207.04 103.40,194.66" fill="none" stroke="#2f5f8f" stroke-width="0.75" stroke-linejoin="round" />
<line x1="62.68" y1="222.10" x2="62.68" y2="229.10" stroke="#2f5f8f" stroke-width="0.6"/>
<line x1="61.48" y1="222.10" x2="63.88" y2="222.10" stroke="#2f5f8f" stroke-width="0.5"/>
<line x1="61.48" y1="229.10" x2="63.88" y2="229.10" stroke="#2f5f8f" stroke-width="0.5"/>
<rect x="61.18" y="224.10" width="3" height="3" fill="#2f5f8f" fill-opacity="0.6" stroke="#2f5f8f" stroke-width="0.6"/>
<line x1="83.04" y1="203.54" x2="83.04" y2="210.54" stroke="#2f5f8f" stroke-width="0.6"/>
<line x1="81.84" y1="203.54" x2="84.24" y2="203.54" stroke="#2f5f8f" stroke-width="0.5"/>
<line x1="81.84" y1="210.54" x2="84.24" y2="210.54" stroke="#2f5f8f" stroke-width="0.5"/>
<rect x="81.54" y="205.54" width="3" height="3" fill="#2f5f8f" fill-opacity="0.6" stroke="#2f5f8f" stroke-width="0.6"/>
<line x1="103.40" y1="191.16" x2="103.40" y2="198.16" stroke="#2f5f8f" stroke-width="0.6"/>
<line x1="102.20" y1="191.16" x2="104.60" y2="191.16" stroke="#2f5f8f" stroke-width="0.5"/>
<line x1="102.20" y1="198.16" x2="104.60" y2="198.16" stroke="#2f5f8f" stroke-width="0.5"/>
<rect x="101.90" y="193.16" width="3" height="3" fill="#2f5f8f" fill-opacity="0.6" stroke="#2f5f8f" stroke-width="0.6"/>
<rect x="51.00" y="246.60" width="3.00" height="3.00" fill="#3d8fc9" stroke="#3d8fc9" stroke-width="0.6"/>
<rect x="56.09" y="246.60" width="3.00" height="3.00" fill="#3d8fc9" stroke="#3d8fc9" stroke-width="0.6"/>
<polyline points="62.68,248.10 83.04,248.10 103.40,248.10" fill="none" stroke="#d8324f" stroke-width="0.8" stroke-linejoin="round" />
<circle cx="62.68" cy="248.10" r="1.90" fill="#fff" stroke="#d8324f" stroke-width="0.7"/>
<circle cx="83.04" cy="248.10" r="1.90" fill="#fff" stroke="#d8324f" stroke-width="0.7"/>
<circle cx="103.40" cy="248.10" r="1.90" fill="#fff" stroke="#d8324f" stroke-width="0.7"/>
<text x="199.40" y="177.15" font-size="6.7" text-anchor="middle" fill="#333" stroke="#333" stroke-width="0.12" textLength="70.80" lengthAdjust="spacingAndGlyphs">CAR expression at day10</text>
<text x="225.85" y="186.90" font-size="6.7" text-anchor="middle" fill="#222" stroke="#222" stroke-width="0.12" textLength="38.30" lengthAdjust="spacingAndGlyphs">(v.s. 19CART)</text>
<rect x="150.20" y="250.34" width="7.60" height="0.26" fill="#f2b7ab" stroke="none" stroke-width="1" />
<rect x="160.17" y="220.78" width="7.60" height="29.82" fill="#bcc0df" stroke="none" stroke-width="1" />
<rect x="170.14" y="201.77" width="7.60" height="48.83" fill="#cfe7c9" stroke="none" stroke-width="1" />
<rect x="180.11" y="198.36" width="7.60" height="52.24" fill="#c9b9de" stroke="none" stroke-width="1" />
<rect x="190.08" y="223.09" width="7.60" height="27.51" fill="#fde0b4" stroke="none" stroke-width="1" />
<rect x="200.05" y="224.35" width="7.60" height="26.25" fill="#bfcdc3" stroke="none" stroke-width="1" />
<rect x="210.02" y="209.12" width="7.60" height="41.47" fill="#dfdbf1" stroke="none" stroke-width="1" />
<rect x="219.99" y="208.34" width="7.60" height="42.26" fill="#c9c8cd" stroke="none" stroke-width="1" />
<rect x="229.96" y="210.49" width="7.60" height="40.11" fill="#c9e3f6" stroke="none" stroke-width="1" />
<rect x="239.93" y="206.81" width="7.60" height="43.78" fill="#f7c1da" stroke="none" stroke-width="1" />
<line x1="146.60" y1="195.50" x2="146.60" y2="250.60" stroke="#111" stroke-width="1.1"/>
<line x1="144.00" y1="198.10" x2="146.60" y2="198.10" stroke="#111" stroke-width="1.1"/>
<text x="140.20" y="200.46" font-size="6.6" text-anchor="end" fill="#222">100</text>
<line x1="144.00" y1="224.35" x2="146.60" y2="224.35" stroke="#111" stroke-width="1.1"/>
<text x="140.20" y="226.71" font-size="6.6" text-anchor="end" fill="#222">50</text>
<line x1="144.00" y1="250.60" x2="146.60" y2="250.60" stroke="#111" stroke-width="1.1"/>
<text x="140.20" y="252.96" font-size="6.6" text-anchor="end" fill="#222">0</text>
<line x1="146.60" y1="250.60" x2="250.00" y2="250.60" stroke="#111" stroke-width="1.1"/>
<text x="222.70" y="0" font-size="8.8" text-anchor="middle" fill="#222" font-weight="normal" stroke="#222" stroke-width="0.42" textLength="41.40" lengthAdjust="spacingAndGlyphs" transform="translate(123.65,222.70) rotate(-90) translate(-222.70,0)">% CAR positive</text>
<line x1="163.97" y1="218.42" x2="163.97" y2="222.62" stroke="#2f5f8f" stroke-width="0.6"/>
<line x1="162.37" y1="218.42" x2="165.57" y2="218.42" stroke="#2f5f8f" stroke-width="0.6"/>
<line x1="161.57" y1="220.52" x2="166.37" y2="220.52" stroke="#2f5f8f" stroke-width="0.6"/>
<path d="M162.37 210.86L163.52 212.01L162.37 213.16L161.22 212.01Z" fill="#2f5f8f" stroke="#2f5f8f" stroke-width="0.6"/>
<path d="M165.57 214.80L166.72 215.95L165.57 217.10L164.42 215.95Z" fill="#2f5f8f" stroke="#2f5f8f" stroke-width="0.6"/>
<path d="M163.97 216.90L165.12 218.05L163.97 219.20L162.82 218.05Z" fill="#2f5f8f" stroke="#2f5f8f" stroke-width="0.6"/>
<path d="M162.37 220.57L163.52 221.72L162.37 222.88L161.22 221.72Z" fill="#2f5f8f" stroke="#2f5f8f" stroke-width="0.6"/>
<path d="M165.57 223.88L166.72 225.03L165.57 226.18L164.42 225.03Z" fill="#2f5f8f" stroke="#2f5f8f" stroke-width="0.6"/>
<path d="M163.97 229.18L165.12 230.33L163.97 231.48L162.82 230.33Z" fill="#2f5f8f" stroke="#2f5f8f" stroke-width="0.6"/>
<line x1="173.94" y1="198.68" x2="173.94" y2="202.88" stroke="#5cb85c" stroke-width="0.6"/>
<line x1="172.34" y1="198.68" x2="175.54" y2="198.68" stroke="#5cb85c" stroke-width="0.6"/>
<line x1="171.54" y1="200.78" x2="176.34" y2="200.78" stroke="#5cb85c" stroke-width="0.6"/>
<path d="M172.34 198.52L173.49 200.59L171.19 200.59Z" fill="#5cb85c" stroke="#5cb85c" stroke-width="0.6"/>
<path d="M175.54 199.05L176.69 201.12L174.39 201.12Z" fill="#5cb85c" stroke="#5cb85c" stroke-width="0.6"/>
<path d="M173.94 199.57L175.09 201.64L172.79 201.64Z" fill="#5cb85c" stroke="#5cb85c" stroke-width="0.6"/>
<path d="M172.34 200.36L173.49 202.43L171.19 202.43Z" fill="#5cb85c" stroke="#5cb85c" stroke-width="0.6"/>
<path d="M175.54 200.62L176.69 202.69L174.39 202.69Z" fill="#5cb85c" stroke="#5cb85c" stroke-width="0.6"/>
<line x1="183.91" y1="197.40" x2="183.91" y2="201.60" stroke="#5b2a7e" stroke-width="0.6"/>
<line x1="182.31" y1="197.40" x2="185.51" y2="197.40" stroke="#5b2a7e" stroke-width="0.6"/>
<line x1="181.51" y1="199.50" x2="186.31" y2="199.50" stroke="#5b2a7e" stroke-width="0.6"/>
<path d="M182.31 199.78L183.46 197.71L181.16 197.71Z" fill="#5b2a7e" stroke="#5b2a7e" stroke-width="0.6"/>
<path d="M185.51 199.78L186.66 197.71L184.36 197.71Z" fill="#5b2a7e" stroke="#5b2a7e" stroke-width="0.6"/>
<path d="M183.91 200.30L185.06 198.23L182.76 198.23Z" fill="#5b2a7e" stroke="#5b2a7e" stroke-width="0.6"/>
<path d="M182.31 200.82L183.46 198.75L181.16 198.75Z" fill="#5b2a7e" stroke="#5b2a7e" stroke-width="0.6"/>
<path d="M185.51 201.35L186.66 199.28L184.36 199.28Z" fill="#5b2a7e" stroke="#5b2a7e" stroke-width="0.6"/>
<path d="M183.91 201.88L185.06 199.81L182.76 199.81Z" fill="#5b2a7e" stroke="#5b2a7e" stroke-width="0.6"/>
<line x1="193.88" y1="221.02" x2="193.88" y2="225.22" stroke="#f0a43a" stroke-width="0.6"/>
<line x1="192.28" y1="221.02" x2="195.48" y2="221.02" stroke="#f0a43a" stroke-width="0.6"/>
<line x1="191.48" y1="223.12" x2="196.28" y2="223.12" stroke="#f0a43a" stroke-width="0.6"/>
<path d="M192.28 215.68L192.65 216.49L193.54 216.59L192.88 217.20L193.06 218.07L192.28 217.63L191.50 218.07L191.68 217.20L191.02 216.59L191.91 216.49Z" fill="#f0a43a" stroke="none"/>
<path d="M195.48 217.78L195.85 218.59L196.74 218.69L196.08 219.30L196.26 220.17L195.48 219.73L194.70 220.17L194.88 219.30L194.22 218.69L195.11 218.59Z" fill="#f0a43a" stroke="none"/>
<path d="M193.88 220.93L194.25 221.74L195.14 221.84L194.48 222.45L194.66 223.32L193.88 222.88L193.10 223.32L193.28 222.45L192.62 221.84L193.51 221.74Z" fill="#f0a43a" stroke="none"/>
<path d="M192.28 223.03L192.65 223.84L193.54 223.94L192.88 224.55L193.06 225.42L192.28 224.98L191.50 225.42L191.68 224.55L191.02 223.94L191.91 223.84Z" fill="#f0a43a" stroke="none"/>
<path d="M195.48 226.18L195.85 226.99L196.74 227.09L196.08 227.70L196.26 228.57L195.48 228.13L194.70 228.57L194.88 227.70L194.22 227.09L195.11 226.99Z" fill="#f0a43a" stroke="none"/>
<path d="M193.88 227.23L194.25 228.04L195.14 228.14L194.48 228.75L194.66 229.62L193.88 229.18L193.10 229.62L193.28 228.75L192.62 228.14L193.51 228.04Z" fill="#f0a43a" stroke="none"/>
<line x1="203.85" y1="221.55" x2="203.85" y2="225.75" stroke="#2f7a62" stroke-width="0.6"/>
<line x1="202.25" y1="221.55" x2="205.45" y2="221.55" stroke="#2f7a62" stroke-width="0.6"/>
<line x1="201.45" y1="223.65" x2="206.25" y2="223.65" stroke="#2f7a62" stroke-width="0.6"/>
<path d="M202.25 215.00L203.40 212.93L201.10 212.93Z" fill="#2f7a62" stroke="#2f7a62" stroke-width="0.6"/>
<path d="M205.45 219.20L206.60 217.13L204.30 217.13Z" fill="#2f7a62" stroke="#2f7a62" stroke-width="0.6"/>
<path d="M203.85 224.45L205.00 222.38L202.70 222.38Z" fill="#2f7a62" stroke="#2f7a62" stroke-width="0.6"/>
<path d="M202.25 227.60L203.40 225.53L201.10 225.53Z" fill="#2f7a62" stroke="#2f7a62" stroke-width="0.6"/>
<path d="M205.45 230.75L206.60 228.68L204.30 228.68Z" fill="#2f7a62" stroke="#2f7a62" stroke-width="0.6"/>
<path d="M203.85 231.80L205.00 229.73L202.70 229.73Z" fill="#2f7a62" stroke="#2f7a62" stroke-width="0.6"/>
<line x1="213.82" y1="207.90" x2="213.82" y2="212.10" stroke="#a59fd6" stroke-width="0.6"/>
<line x1="212.22" y1="207.90" x2="215.42" y2="207.90" stroke="#a59fd6" stroke-width="0.6"/>
<line x1="211.42" y1="210.00" x2="216.22" y2="210.00" stroke="#a59fd6" stroke-width="0.6"/>
<path d="M212.22 204.30L213.37 206.37L211.07 206.37Z" fill="#a59fd6" stroke="#a59fd6" stroke-width="0.6"/>
<path d="M215.42 207.45L216.57 209.52L214.27 209.52Z" fill="#a59fd6" stroke="#a59fd6" stroke-width="0.6"/>
<path d="M213.82 208.50L214.97 210.57L212.67 210.57Z" fill="#a59fd6" stroke="#a59fd6" stroke-width="0.6"/>
<path d="M212.22 209.55L213.37 211.62L211.07 211.62Z" fill="#a59fd6" stroke="#a59fd6" stroke-width="0.6"/>
<path d="M215.42 210.60L216.57 212.67L214.27 212.67Z" fill="#a59fd6" stroke="#a59fd6" stroke-width="0.6"/>
<path d="M213.82 212.70L214.97 214.77L212.67 214.77Z" fill="#a59fd6" stroke="#a59fd6" stroke-width="0.6"/>
<line x1="223.79" y1="206.15" x2="223.79" y2="210.35" stroke="#4d4d4d" stroke-width="0.6"/>
<line x1="222.19" y1="206.15" x2="225.39" y2="206.15" stroke="#4d4d4d" stroke-width="0.6"/>
<line x1="221.39" y1="208.25" x2="226.19" y2="208.25" stroke="#4d4d4d" stroke-width="0.6"/>
<path d="M222.19 205.55L223.34 203.48L221.04 203.48Z" fill="#4d4d4d" stroke="#4d4d4d" stroke-width="0.6"/>
<path d="M225.39 206.60L226.54 204.53L224.24 204.53Z" fill="#4d4d4d" stroke="#4d4d4d" stroke-width="0.6"/>
<path d="M223.79 207.65L224.94 205.58L222.64 205.58Z" fill="#4d4d4d" stroke="#4d4d4d" stroke-width="0.6"/>
<path d="M222.19 209.75L223.34 207.68L221.04 207.68Z" fill="#4d4d4d" stroke="#4d4d4d" stroke-width="0.6"/>
<path d="M225.39 211.85L226.54 209.78L224.24 209.78Z" fill="#4d4d4d" stroke="#4d4d4d" stroke-width="0.6"/>
<path d="M223.79 215.00L224.94 212.93L222.64 212.93Z" fill="#4d4d4d" stroke="#4d4d4d" stroke-width="0.6"/>
<line x1="233.76" y1="207.55" x2="233.76" y2="211.75" stroke="#4aa3e0" stroke-width="0.6"/>
<line x1="232.16" y1="207.55" x2="235.36" y2="207.55" stroke="#4aa3e0" stroke-width="0.6"/>
<line x1="231.36" y1="209.65" x2="236.16" y2="209.65" stroke="#4aa3e0" stroke-width="0.6"/>
<path d="M232.16 205.18L232.53 205.99L233.42 206.09L232.76 206.70L232.94 207.57L232.16 207.13L231.38 207.57L231.56 206.70L230.90 206.09L231.79 205.99Z" fill="#4aa3e0" stroke="none"/>
<path d="M235.36 207.28L235.73 208.09L236.62 208.19L235.96 208.80L236.14 209.67L235.36 209.23L234.58 209.67L234.76 208.80L234.10 208.19L234.99 208.09Z" fill="#4aa3e0" stroke="none"/>
<path d="M233.76 208.33L234.13 209.14L235.02 209.24L234.36 209.85L234.54 210.72L233.76 210.28L232.98 210.72L233.16 209.85L232.50 209.24L233.39 209.14Z" fill="#4aa3e0" stroke="none"/>
<path d="M232.16 209.38L232.53 210.19L233.42 210.29L232.76 210.90L232.94 211.77L232.16 211.33L231.38 211.77L231.56 210.90L230.90 210.29L231.79 210.19Z" fill="#4aa3e0" stroke="none"/>
<path d="M235.36 211.48L235.73 212.29L236.62 212.39L235.96 213.00L236.14 213.87L235.36 213.43L234.58 213.87L234.76 213.00L234.10 212.39L234.99 212.29Z" fill="#4aa3e0" stroke="none"/>
<line x1="243.73" y1="203.88" x2="243.73" y2="208.07" stroke="#d62a7e" stroke-width="0.6"/>
<line x1="242.13" y1="203.88" x2="245.33" y2="203.88" stroke="#d62a7e" stroke-width="0.6"/>
<line x1="241.33" y1="205.97" x2="246.13" y2="205.97" stroke="#d62a7e" stroke-width="0.6"/>
<path d="M242.13 203.45L243.28 201.38L240.98 201.38Z" fill="#d62a7e" stroke="#d62a7e" stroke-width="0.6"/>
<path d="M245.33 204.50L246.48 202.43L244.18 202.43Z" fill="#d62a7e" stroke="#d62a7e" stroke-width="0.6"/>
<path d="M243.73 205.55L244.88 203.48L242.58 203.48Z" fill="#d62a7e" stroke="#d62a7e" stroke-width="0.6"/>
<path d="M242.13 207.65L243.28 205.58L240.98 205.58Z" fill="#d62a7e" stroke="#d62a7e" stroke-width="0.6"/>
<path d="M245.33 209.75L246.48 207.68L244.18 207.68Z" fill="#d62a7e" stroke="#d62a7e" stroke-width="0.6"/>
<path d="M243.73 211.85L244.88 209.78L242.58 209.78Z" fill="#d62a7e" stroke="#d62a7e" stroke-width="0.6"/>
<rect x="150.20" y="249.20" width="7.60" height="1.20" fill="#d8324f" stroke="none" stroke-width="1" />
<text x="153.90" y="196.19" font-size="6.4" text-anchor="middle" fill="#333">ns</text>
<text x="164.20" y="195.69" font-size="6.4" text-anchor="middle" fill="#333">-</text>
<circle cx="173.90" cy="186.60" r="0.8" fill="#1a1a1a"/>
<circle cx="173.90" cy="189.05" r="0.8" fill="#1a1a1a"/>
<circle cx="173.90" cy="191.50" r="0.8" fill="#1a1a1a"/>
<circle cx="184.00" cy="186.30" r="0.8" fill="#1a1a1a"/>
<circle cx="184.00" cy="188.75" r="0.8" fill="#1a1a1a"/>
<circle cx="184.00" cy="191.20" r="0.8" fill="#1a1a1a"/>
<circle cx="184.00" cy="193.65" r="0.8" fill="#1a1a1a"/>
<text x="194.20" y="196.59" font-size="6.4" text-anchor="middle" fill="#333">ns</text>
<text x="204.00" y="196.59" font-size="6.4" text-anchor="middle" fill="#333">ns</text>
<circle cx="213.82" cy="195.90" r="0.8" fill="#1a1a1a"/>
<circle cx="223.79" cy="195.90" r="0.8" fill="#1a1a1a"/>
<circle cx="233.76" cy="195.90" r="0.8" fill="#1a1a1a"/>
<circle cx="243.73" cy="193.90" r="0.8" fill="#1a1a1a"/>
<circle cx="243.73" cy="196.35" r="0.8" fill="#1a1a1a"/>
<line x1="40.30" y1="282.00" x2="48.50" y2="282.00" stroke="#b03a5a" stroke-width="0.8"/>
<circle cx="44.40" cy="282.00" r="1.6" fill="#e4a9b8" stroke="#b03a5a" stroke-width="0.9"/>
<text x="52.70" y="284.31" font-size="6.45" text-anchor="start" fill="#222">UTD</text>
<line x1="93.20" y1="282.00" x2="101.40" y2="282.00" stroke="#2f5f8f" stroke-width="0.8"/>
<path d="M97.30 280.30L99.00 282.00L97.30 283.70L95.60 282.00Z" fill="#2f5f8f" stroke="#2f5f8f" stroke-width="0.6"/>
<text x="105.40" y="284.31" font-size="6.45" text-anchor="start" fill="#222">19CART</text>
<line x1="147.90" y1="282.00" x2="156.10" y2="282.00" stroke="#5cb85c" stroke-width="0.8"/>
<path d="M152.00 280.30L153.70 283.36L150.30 283.36Z" fill="#5cb85c" stroke="#5cb85c" stroke-width="0.6"/>
<text x="160.50" y="284.31" font-size="6.45" text-anchor="start" fill="#222">KW_H2L</text>
<line x1="200.40" y1="282.00" x2="208.60" y2="282.00" stroke="#5b2a7e" stroke-width="0.8"/>
<path d="M204.50 283.70L206.20 280.64L202.80 280.64Z" fill="#5b2a7e" stroke="#5b2a7e" stroke-width="0.6"/>
<text x="213.30" y="284.31" font-size="6.45" text-anchor="start" fill="#222">KW_L2H</text>
<line x1="40.30" y1="290.40" x2="48.50" y2="290.40" stroke="#f0a43a" stroke-width="0.8"/>
<path d="M44.40 288.10L45.05 289.51L46.59 289.69L45.45 290.74L45.75 292.26L44.40 291.50L43.05 292.26L43.35 290.74L42.21 289.69L43.75 289.51Z" fill="#f0a43a" stroke="none"/>
<text x="52.70" y="292.71" font-size="6.45" text-anchor="start" fill="#222">1-49_H2L</text>
<line x1="93.20" y1="290.40" x2="101.40" y2="290.40" stroke="#2f7a62" stroke-width="0.8"/>
<path d="M97.30 292.10L99.00 289.04L95.60 289.04Z" fill="#2f7a62" stroke="#2f7a62" stroke-width="0.6"/>
<text x="105.40" y="292.71" font-size="6.45" text-anchor="start" fill="#222">1-49_L2H</text>
<line x1="147.90" y1="290.40" x2="156.10" y2="290.40" stroke="#a59fd6" stroke-width="0.8"/>
<path d="M152.00 288.70L153.70 291.76L150.30 291.76Z" fill="#a59fd6" stroke="#a59fd6" stroke-width="0.6"/>
<text x="160.50" y="292.71" font-size="6.45" text-anchor="start" fill="#222">2-3_H2L</text>
<line x1="200.40" y1="290.40" x2="208.60" y2="290.40" stroke="#4d4d4d" stroke-width="0.8"/>
<path d="M204.50 292.10L206.20 289.04L202.80 289.04Z" fill="#4d4d4d" stroke="#4d4d4d" stroke-width="0.6"/>
<text x="213.30" y="292.71" font-size="6.45" text-anchor="start" fill="#222">2-3_L2H</text>
<line x1="40.30" y1="298.80" x2="48.50" y2="298.80" stroke="#4aa3e0" stroke-width="0.8"/>
<path d="M44.40 296.50L45.05 297.91L46.59 298.09L45.45 299.14L45.75 300.66L44.40 299.90L43.05 300.66L43.35 299.14L42.21 298.09L43.75 297.91Z" fill="#4aa3e0" stroke="none"/>
<text x="52.70" y="301.11" font-size="6.45" text-anchor="start" fill="#222">h1567_H2L</text>
<line x1="93.20" y1="298.80" x2="101.40" y2="298.80" stroke="#d62a7e" stroke-width="0.8"/>
<path d="M97.30 300.50L99.00 297.44L95.60 297.44Z" fill="#d62a7e" stroke="#d62a7e" stroke-width="0.6"/>
<text x="105.40" y="301.11" font-size="6.45" text-anchor="start" fill="#222">h1567_L2H</text>
<text x="271.3" y="171.9" font-size="11" font-weight="bold" fill="#000">D</text>
<path d="M313.80 217.80 L314.70 205.40 L315.30 201.00 L316.00 205.40 L317.00 217.80 Z" fill="#8ec6d0" opacity="0.8" filter="url(#bl2)"/>
<path d="M314.40 216.30 L315.00 205.40 L315.35 201.60 L315.70 205.40 L316.30 216.30 Z" fill="#24607a" opacity="0.95"/>
<ellipse cx="315.00" cy="217.90" rx="2.6" ry="1.7" fill="#5a9a7a" opacity="0.55" filter="url(#bl2)"/>
<rect x="310.40" y="188.40" width="38.40" height="38.00" fill="none" stroke="#2a2a2a" stroke-width="0.9" />
<line x1="327.50" y1="188.40" x2="327.50" y2="226.40" stroke="#2a2a2a" stroke-width="0.85"/>
<line x1="310.40" y1="216.30" x2="348.80" y2="216.30" stroke="#2a2a2a" stroke-width="0.85"/>
<text x="328.80" y="183.86" font-size="6.6" text-anchor="middle" fill="#222">UTD</text>
<text x="312.80" y="194.46" font-size="6.6" text-anchor="start" fill="#222">46.4</text>
<text x="347.40" y="194.46" font-size="6.6" text-anchor="end" fill="#222">0</text>
<text x="312.80" y="224.56" font-size="6.6" text-anchor="start" fill="#222">53.6</text>
<text x="347.40" y="224.56" font-size="6.6" text-anchor="end" fill="#222">0</text>
<ellipse cx="367.60" cy="210.40" rx="13.5" ry="7" fill="#c3cdf0" opacity="0.6" filter="url(#bl)"/>
<ellipse cx="370.60" cy="212.40" rx="8" ry="4" fill="#a3b4e6" opacity="0.5" filter="url(#bl)"/>
<rect x="353.50" y="216.70" width="32.40" height="0.9" fill="#8aa0d0" opacity="0.6"/>
<ellipse cx="374.60" cy="217.70" rx="9" ry="1.4" fill="#b5c448" opacity="0.85" filter="url(#bl2)"/>
<rect x="350.50" y="188.40" width="38.40" height="38.00" fill="none" stroke="#2a2a2a" stroke-width="0.9" />
<line x1="367.60" y1="188.40" x2="367.60" y2="226.40" stroke="#2a2a2a" stroke-width="0.85"/>
<line x1="350.50" y1="216.30" x2="388.90" y2="216.30" stroke="#2a2a2a" stroke-width="0.85"/>
<text x="368.90" y="183.86" font-size="6.6" text-anchor="middle" fill="#222">19CART</text>
<text x="352.90" y="194.46" font-size="6.6" text-anchor="start" fill="#222">10.4</text>
<text x="387.50" y="194.46" font-size="6.6" text-anchor="end" fill="#222">30.0</text>
<text x="352.90" y="224.56" font-size="6.6" text-anchor="start" fill="#222">15.0</text>
<text x="387.50" y="224.56" font-size="6.6" text-anchor="end" fill="#222">44.5</text>
<rect x="313.40" y="275.70" width="32.40" height="1.1" fill="#6b8fd0" opacity="0.7" filter="url(#bl2)"/>
<rect x="333.50" y="276.00" width="10" height="0.9" fill="#6aa84f" opacity="0.7" filter="url(#bl2)"/>
<rect x="310.40" y="246.60" width="38.40" height="38.00" fill="none" stroke="#2a2a2a" stroke-width="0.9" />
<line x1="327.50" y1="246.60" x2="327.50" y2="284.60" stroke="#2a2a2a" stroke-width="0.85"/>
<line x1="310.40" y1="274.50" x2="348.80" y2="274.50" stroke="#2a2a2a" stroke-width="0.85"/>
<text x="328.80" y="242.06" font-size="6.6" text-anchor="middle" fill="#222">KW_H2L</text>
<text x="312.80" y="252.66" font-size="6.6" text-anchor="start" fill="#222">0.01</text>
<text x="347.40" y="252.66" font-size="6.6" text-anchor="end" fill="#222">0.11</text>
<text x="312.80" y="282.76" font-size="6.6" text-anchor="start" fill="#222">5.35</text>
<text x="347.40" y="282.76" font-size="6.6" text-anchor="end" fill="#222">94.5</text>
<rect x="353.50" y="275.70" width="32.40" height="1.1" fill="#6b8fd0" opacity="0.7" filter="url(#bl2)"/>
<rect x="373.60" y="276.00" width="10" height="0.9" fill="#6aa84f" opacity="0.7" filter="url(#bl2)"/>
<rect x="350.50" y="246.60" width="38.40" height="38.00" fill="none" stroke="#2a2a2a" stroke-width="0.9" />
<line x1="367.60" y1="246.60" x2="367.60" y2="284.60" stroke="#2a2a2a" stroke-width="0.85"/>
<line x1="350.50" y1="274.50" x2="388.90" y2="274.50" stroke="#2a2a2a" stroke-width="0.85"/>
<text x="368.90" y="242.06" font-size="6.6" text-anchor="middle" fill="#222">KW_L2H</text>
<text x="352.90" y="252.66" font-size="6.6" text-anchor="start" fill="#222">0</text>
<text x="387.50" y="252.66" font-size="6.6" text-anchor="end" fill="#222">0.14</text>
<text x="352.90" y="282.76" font-size="6.6" text-anchor="start" fill="#222">4.05</text>
<text x="387.50" y="282.76" font-size="6.6" text-anchor="end" fill="#222">95.8</text>
<ellipse cx="417.00" cy="268.50" rx="10" ry="7.5" fill="#cdd5f2" opacity="0.6" filter="url(#bl)"/>
<ellipse cx="418.00" cy="271.50" rx="5" ry="3.5" fill="#a8b8e4" opacity="0.45" filter="url(#bl)"/>
<rect x="393.90" y="275.00" width="34.40" height="1.0" fill="#7f96c8" opacity="0.6"/>
<rect x="396.90" y="275.90" width="28.40" height="1.5" fill="#9cc43f" opacity="0.9" filter="url(#bl2)"/>
<rect x="391.90" y="246.60" width="38.40" height="38.00" fill="none" stroke="#2a2a2a" stroke-width="0.9" />
<line x1="409.00" y1="246.60" x2="409.00" y2="284.60" stroke="#2a2a2a" stroke-width="0.85"/>
<line x1="391.90" y1="274.50" x2="430.30" y2="274.50" stroke="#2a2a2a" stroke-width="0.85"/>
<text x="410.30" y="242.06" font-size="6.6" text-anchor="middle" fill="#222">1-49_H2L</text>
<text x="394.30" y="252.66" font-size="6.6" text-anchor="start" fill="#222">2.98</text>
<text x="428.90" y="252.66" font-size="6.6" text-anchor="end" fill="#222">17.5</text>
<text x="394.30" y="282.76" font-size="6.6" text-anchor="start" fill="#222">32.5</text>
<text x="428.90" y="282.76" font-size="6.6" text-anchor="end" fill="#222">47.0</text>
<ellipse cx="459.60" cy="268.50" rx="7.5" ry="7.5" fill="#cdd5f2" opacity="0.6" filter="url(#bl)"/>
<ellipse cx="460.60" cy="271.50" rx="5" ry="3.5" fill="#a8b8e4" opacity="0.45" filter="url(#bl)"/>
<rect x="434.00" y="275.00" width="34.40" height="1.0" fill="#7f96c8" opacity="0.6"/>
<rect x="437.00" y="275.90" width="28.40" height="1.5" fill="#9cc43f" opacity="0.9" filter="url(#bl2)"/>
<rect x="432.00" y="246.60" width="38.40" height="38.00" fill="none" stroke="#2a2a2a" stroke-width="0.9" />
<line x1="449.10" y1="246.60" x2="449.10" y2="284.60" stroke="#2a2a2a" stroke-width="0.85"/>
<line x1="432.00" y1="274.50" x2="470.40" y2="274.50" stroke="#2a2a2a" stroke-width="0.85"/>
<text x="450.40" y="242.06" font-size="6.6" text-anchor="middle" fill="#222">1-49_L2H</text>
<text x="434.40" y="252.66" font-size="6.6" text-anchor="start" fill="#222">1.06</text>
<text x="469.00" y="252.66" font-size="6.6" text-anchor="end" fill="#222">15.9</text>
<text x="434.40" y="282.76" font-size="6.6" text-anchor="start" fill="#222">33.1</text>
<text x="469.00" y="282.76" font-size="6.6" text-anchor="end" fill="#222">49.9</text>
<ellipse cx="337.00" cy="327.90" rx="6" ry="5.5" fill="#d2d0f5" opacity="0.7" filter="url(#bl)"/>
<ellipse cx="337.00" cy="331.10" rx="3.5" ry="2.2" fill="#8d9ce0" opacity="0.5" filter="url(#bl2)"/>
<rect x="312.40" y="333.40" width="34.40" height="1.0" fill="#8fa4d0" opacity="0.55"/>
<ellipse cx="337.00" cy="335.00" rx="6.5" ry="1.3" fill="#9fbc3e" opacity="0.9" filter="url(#bl2)"/>
<ellipse cx="337.50" cy="335.30" rx="2.5" ry="0.9" fill="#d4c23a" opacity="0.85" filter="url(#bl2)"/>
<rect x="310.40" y="305.00" width="38.40" height="38.00" fill="none" stroke="#2a2a2a" stroke-width="0.9" />
<line x1="327.50" y1="305.00" x2="327.50" y2="343.00" stroke="#2a2a2a" stroke-width="0.85"/>
<line x1="310.40" y1="332.90" x2="348.80" y2="332.90" stroke="#2a2a2a" stroke-width="0.85"/>
<text x="328.80" y="300.46" font-size="6.6" text-anchor="middle" fill="#222">2-3_H2L</text>
<text x="312.80" y="311.06" font-size="6.6" text-anchor="start" fill="#222">0.50</text>
<text x="347.40" y="311.06" font-size="6.6" text-anchor="end" fill="#222">17.2</text>
<text x="312.80" y="341.16" font-size="6.6" text-anchor="start" fill="#222">11.4</text>
<text x="347.40" y="341.16" font-size="6.6" text-anchor="end" fill="#222">70.9</text>
<ellipse cx="375.10" cy="327.90" rx="6" ry="5.5" fill="#d2d0f5" opacity="0.7" filter="url(#bl)"/>
<ellipse cx="375.10" cy="331.10" rx="3.5" ry="2.2" fill="#8d9ce0" opacity="0.5" filter="url(#bl2)"/>
<rect x="352.50" y="333.40" width="34.40" height="1.0" fill="#8fa4d0" opacity="0.55"/>
<ellipse cx="375.10" cy="335.00" rx="6.5" ry="1.3" fill="#9fbc3e" opacity="0.9" filter="url(#bl2)"/>
<ellipse cx="375.60" cy="335.30" rx="2.5" ry="0.9" fill="#d4c23a" opacity="0.85" filter="url(#bl2)"/>
<rect x="350.50" y="305.00" width="38.40" height="38.00" fill="none" stroke="#2a2a2a" stroke-width="0.9" />
<line x1="367.60" y1="305.00" x2="367.60" y2="343.00" stroke="#2a2a2a" stroke-width="0.85"/>
<line x1="350.50" y1="332.90" x2="388.90" y2="332.90" stroke="#2a2a2a" stroke-width="0.85"/>
<text x="368.90" y="300.46" font-size="6.6" text-anchor="middle" fill="#222">2-3_L2H</text>
<text x="352.90" y="311.06" font-size="6.6" text-anchor="start" fill="#222">0.65</text>
<text x="387.50" y="311.06" font-size="6.6" text-anchor="end" fill="#222">11.4</text>
<text x="352.90" y="341.16" font-size="6.6" text-anchor="start" fill="#222">11.4</text>
<text x="387.50" y="341.16" font-size="6.6" text-anchor="end" fill="#222">76.6</text>
<ellipse cx="420.00" cy="327.90" rx="6" ry="5.5" fill="#d2d0f5" opacity="0.7" filter="url(#bl)"/>
<ellipse cx="420.00" cy="331.10" rx="3.5" ry="2.2" fill="#8d9ce0" opacity="0.5" filter="url(#bl2)"/>
<rect x="393.90" y="333.40" width="34.40" height="1.0" fill="#8fa4d0" opacity="0.55"/>
<ellipse cx="420.00" cy="335.00" rx="6.5" ry="1.3" fill="#9fbc3e" opacity="0.9" filter="url(#bl2)"/>
<ellipse cx="420.50" cy="335.30" rx="2.5" ry="0.9" fill="#d4c23a" opacity="0.85" filter="url(#bl2)"/>
<rect x="391.90" y="305.00" width="38.40" height="38.00" fill="none" stroke="#2a2a2a" stroke-width="0.9" />
<line x1="409.00" y1="305.00" x2="409.00" y2="343.00" stroke="#2a2a2a" stroke-width="0.85"/>
<line x1="391.90" y1="332.90" x2="430.30" y2="332.90" stroke="#2a2a2a" stroke-width="0.85"/>
<text x="410.30" y="300.46" font-size="6.6" text-anchor="middle" fill="#222">h1567_H2L</text>
<text x="394.30" y="311.06" font-size="6.6" text-anchor="start" fill="#222">0.13</text>
<text x="428.90" y="311.06" font-size="6.6" text-anchor="end" fill="#222">17.6</text>
<text x="394.30" y="341.16" font-size="6.6" text-anchor="start" fill="#222">11.6</text>
<text x="428.90" y="341.16" font-size="6.6" text-anchor="end" fill="#222">70.7</text>
<ellipse cx="459.10" cy="327.90" rx="6" ry="5.5" fill="#d2d0f5" opacity="0.7" filter="url(#bl)"/>
<ellipse cx="459.10" cy="331.10" rx="3.5" ry="2.2" fill="#8d9ce0" opacity="0.5" filter="url(#bl2)"/>
<rect x="434.00" y="333.40" width="34.40" height="1.0" fill="#8fa4d0" opacity="0.55"/>
<ellipse cx="459.10" cy="335.00" rx="6.5" ry="1.3" fill="#9fbc3e" opacity="0.9" filter="url(#bl2)"/>
<ellipse cx="459.60" cy="335.30" rx="2.5" ry="0.9" fill="#d4c23a" opacity="0.85" filter="url(#bl2)"/>
<rect x="432.00" y="305.00" width="38.40" height="38.00" fill="none" stroke="#2a2a2a" stroke-width="0.9" />
<line x1="449.10" y1="305.00" x2="449.10" y2="343.00" stroke="#2a2a2a" stroke-width="0.85"/>
<line x1="432.00" y1="332.90" x2="470.40" y2="332.90" stroke="#2a2a2a" stroke-width="0.85"/>
<text x="450.40" y="300.46" font-size="6.6" text-anchor="middle" fill="#222">h1567_L2H</text>
<text x="434.40" y="311.06" font-size="6.6" text-anchor="start" fill="#222">0.22</text>
<text x="469.00" y="311.06" font-size="6.6" text-anchor="end" fill="#222">19.0</text>
<text x="434.40" y="341.16" font-size="6.6" text-anchor="start" fill="#222">5.74</text>
<text x="469.00" y="341.16" font-size="6.6" text-anchor="end" fill="#222">75.0</text>
<text x="296.90" y="310.53" font-size="6.8" fill="#222" text-anchor="start">10<tspan font-size="4.22" dy="-2.86">5</tspan></text>
<text x="296.90" y="319.93" font-size="6.8" fill="#222" text-anchor="start">10<tspan font-size="4.22" dy="-2.86">4</tspan></text>
<text x="296.90" y="328.03" font-size="6.8" fill="#222" text-anchor="start">10<tspan font-size="4.22" dy="-2.86">3</tspan></text>
<text x="305.60" y="338.03" font-size="6.8" text-anchor="middle" fill="#222">0</text>
<line x1="308.60" y1="307.20" x2="310.40" y2="307.20" stroke="#222" stroke-width="0.7"/>
<line x1="308.60" y1="316.60" x2="310.40" y2="316.60" stroke="#222" stroke-width="0.7"/>
<line x1="308.60" y1="325.00" x2="310.40" y2="325.00" stroke="#222" stroke-width="0.7"/>
<line x1="308.60" y1="333.80" x2="310.40" y2="333.80" stroke="#222" stroke-width="0.7"/>
<text x="315.00" y="353.03" font-size="6.8" text-anchor="middle" fill="#222">0</text>
<text x="323.60" y="353.03" font-size="6.8" fill="#222" text-anchor="start">10<tspan font-size="4.22" dy="-2.86">3</tspan></text>
<text x="332.30" y="353.03" font-size="6.8" fill="#222" text-anchor="start">10<tspan font-size="4.22" dy="-2.86">4</tspan></text>
<text x="341.40" y="353.03" font-size="6.8" fill="#222" text-anchor="start">10<tspan font-size="4.22" dy="-2.86">5</tspan></text>
<line x1="315.00" y1="343.00" x2="315.00" y2="344.60" stroke="#222" stroke-width="0.7"/>
<line x1="326.00" y1="343.00" x2="326.00" y2="344.60" stroke="#222" stroke-width="0.7"/>
<line x1="335.50" y1="343.00" x2="335.50" y2="344.60" stroke="#222" stroke-width="0.7"/>
<line x1="345.00" y1="343.00" x2="345.00" y2="344.60" stroke="#222" stroke-width="0.7"/>
<text x="0" y="0" font-size="6.8" fill="#222" textLength="17.4" lengthAdjust="spacingAndGlyphs" transform="translate(400.23,218.70) rotate(-90)">CCR4</text>
<line x1="397.40" y1="198.50" x2="397.40" y2="192.20" stroke="#222" stroke-width="0.75"/>
<path d="M397.4 189.9 L396.1 192.9 L398.7 192.9 Z" fill="#222"/>
<text x="401.10" y="224.91" font-size="7.0" text-anchor="start" fill="#222" textLength="13.00" lengthAdjust="spacingAndGlyphs">CAR</text>
<line x1="415.80" y1="222.20" x2="422.00" y2="222.20" stroke="#222" stroke-width="0.75"/>
<path d="M424.3 222.2 L421.3 220.9 L421.3 223.5 Z" fill="#222"/>
<text x="6.8" y="318.8" font-size="11" font-weight="bold" fill="#000">E</text>
<text x="73.75" y="330.70" font-size="6.7" text-anchor="middle" fill="#333" stroke="#333" stroke-width="0.12" textLength="77.50" lengthAdjust="spacingAndGlyphs">% CCR4 in CAR(+)CD4(+)</text>
<line x1="44.40" y1="335.00" x2="44.40" y2="396.50" stroke="#111" stroke-width="1.1"/>
<line x1="41.80" y1="338.40" x2="44.40" y2="338.40" stroke="#111" stroke-width="1.1"/>
<text x="38.30" y="340.76" font-size="6.6" text-anchor="end" fill="#222">80</text>
<line x1="41.80" y1="352.15" x2="44.40" y2="352.15" stroke="#111" stroke-width="1.1"/>
<text x="38.30" y="354.51" font-size="6.6" text-anchor="end" fill="#222">60</text>
<line x1="41.80" y1="365.90" x2="44.40" y2="365.90" stroke="#111" stroke-width="1.1"/>
<text x="38.30" y="368.26" font-size="6.6" text-anchor="end" fill="#222">40</text>
<line x1="41.80" y1="379.65" x2="44.40" y2="379.65" stroke="#111" stroke-width="1.1"/>
<text x="38.30" y="382.01" font-size="6.6" text-anchor="end" fill="#222">20</text>
<line x1="41.80" y1="393.40" x2="44.40" y2="393.40" stroke="#111" stroke-width="1.1"/>
<text x="38.30" y="395.76" font-size="6.6" text-anchor="end" fill="#222">0</text>
<line x1="44.40" y1="396.50" x2="102.50" y2="396.50" stroke="#111" stroke-width="1.1"/>
<line x1="46.50" y1="396.50" x2="46.50" y2="398.70" stroke="#111" stroke-width="1.1"/>
<text x="46.50" y="408.61" font-size="6.6" text-anchor="middle" fill="#222">0</text>
<line x1="56.84" y1="396.50" x2="56.84" y2="398.70" stroke="#111" stroke-width="1.1"/>
<text x="56.84" y="408.61" font-size="6.6" text-anchor="middle" fill="#222">2</text>
<line x1="67.18" y1="396.50" x2="67.18" y2="398.70" stroke="#111" stroke-width="1.1"/>
<text x="67.18" y="408.61" font-size="6.6" text-anchor="middle" fill="#222">4</text>
<line x1="77.52" y1="396.50" x2="77.52" y2="398.70" stroke="#111" stroke-width="1.1"/>
<text x="77.52" y="408.61" font-size="6.6" text-anchor="middle" fill="#222">6</text>
<line x1="87.86" y1="396.50" x2="87.86" y2="398.70" stroke="#111" stroke-width="1.1"/>
<text x="87.86" y="408.61" font-size="6.6" text-anchor="middle" fill="#222">8</text>
<line x1="98.20" y1="396.50" x2="98.20" y2="398.70" stroke="#111" stroke-width="1.1"/>
<text x="98.20" y="408.61" font-size="6.6" text-anchor="middle" fill="#222">10</text>
<text x="366.00" y="0" font-size="8.8" text-anchor="middle" fill="#222" font-weight="normal" stroke="#222" stroke-width="0.42" textLength="27.30" lengthAdjust="spacingAndGlyphs" transform="translate(25.65,366.00) rotate(-90) translate(-366.00,0)">CCR4 (%)</text>
<polyline points="46.50,376.21 51.67,368.99 56.84,357.65 77.52,393.40 98.20,393.40" fill="none" stroke="#4d4d4d" stroke-width="0.8" stroke-linejoin="round" />
<path d="M56.84 359.55L58.74 356.13L54.94 356.13Z" fill="#fff" stroke="#4d4d4d" stroke-width="0.6"/>
<path d="M77.52 395.30L79.42 391.88L75.62 391.88Z" fill="#fff" stroke="#4d4d4d" stroke-width="0.6"/>
<path d="M98.20 395.30L100.10 391.88L96.30 391.88Z" fill="#fff" stroke="#4d4d4d" stroke-width="0.6"/>
<polyline points="46.50,376.21 51.67,368.99 56.84,354.21 77.52,377.59 98.20,393.40" fill="none" stroke="#4aa3e0" stroke-width="0.8" stroke-linejoin="round" />
<path d="M56.84 352.03L57.45 353.37L58.92 353.54L57.83 354.54L58.12 355.98L56.84 355.26L55.56 355.98L55.85 354.54L54.76 353.54L56.23 353.37Z" fill="#4aa3e0" stroke="none"/>
<path d="M77.52 375.40L78.13 376.74L79.60 376.91L78.51 377.91L78.80 379.36L77.52 378.63L76.24 379.36L76.53 377.91L75.44 376.91L76.91 376.74Z" fill="#4aa3e0" stroke="none"/>
<path d="M98.20 391.21L98.81 392.55L100.28 392.72L99.19 393.72L99.48 395.17L98.20 394.44L96.92 395.17L97.21 393.72L96.12 392.72L97.59 392.55Z" fill="#4aa3e0" stroke="none"/>
<polyline points="46.50,376.21 51.67,368.99 56.84,353.52 77.52,354.56 98.20,359.71" fill="none" stroke="#2f5f8f" stroke-width="0.8" stroke-linejoin="round" />
<path d="M56.84 351.62L58.74 353.52L56.84 355.42L54.94 353.52Z" fill="#fff" stroke="#2f5f8f" stroke-width="0.6"/>
<path d="M77.52 352.66L79.42 354.56L77.52 356.46L75.62 354.56Z" fill="#fff" stroke="#2f5f8f" stroke-width="0.6"/>
<path d="M98.20 357.81L100.10 359.71L98.20 361.61L96.30 359.71Z" fill="#fff" stroke="#2f5f8f" stroke-width="0.6"/>
<polyline points="46.50,376.21 51.67,368.99 56.84,353.52 77.52,370.02 98.20,385.15" fill="none" stroke="#a59fd6" stroke-width="0.8" stroke-linejoin="round" />
<path d="M56.84 351.62L58.74 355.04L54.94 355.04Z" fill="#fff" stroke="#a59fd6" stroke-width="0.6"/>
<path d="M77.52 368.12L79.42 371.54L75.62 371.54Z" fill="#fff" stroke="#a59fd6" stroke-width="0.6"/>
<path d="M98.20 383.25L100.10 386.67L96.30 386.67Z" fill="#fff" stroke="#a59fd6" stroke-width="0.6"/>
<polyline points="46.50,376.21 51.67,368.99 56.84,350.09 77.52,365.21 98.20,379.65" fill="none" stroke="#f0a43a" stroke-width="0.8" stroke-linejoin="round" />
<path d="M56.84 347.90L57.45 349.24L58.92 349.41L57.83 350.41L58.12 351.86L56.84 351.13L55.56 351.86L55.85 350.41L54.76 349.41L56.23 349.24Z" fill="#f0a43a" stroke="none"/>
<path d="M77.52 363.03L78.13 364.37L79.60 364.54L78.51 365.54L78.80 366.98L77.52 366.26L76.24 366.98L76.53 365.54L75.44 364.54L76.91 364.37Z" fill="#f0a43a" stroke="none"/>
<path d="M98.20 377.46L98.81 378.80L100.28 378.97L99.19 379.97L99.48 381.42L98.20 380.69L96.92 381.42L97.21 379.97L96.12 378.97L97.59 378.80Z" fill="#f0a43a" stroke="none"/>
<polyline points="46.50,376.21 51.67,368.99 56.84,348.02 77.52,365.90 98.20,376.21" fill="none" stroke="#5cb85c" stroke-width="0.8" stroke-linejoin="round" />
<path d="M56.84 346.12L58.74 349.54L54.94 349.54Z" fill="#fff" stroke="#5cb85c" stroke-width="0.6"/>
<path d="M77.52 364.00L79.42 367.42L75.62 367.42Z" fill="#fff" stroke="#5cb85c" stroke-width="0.6"/>
<path d="M98.20 374.31L100.10 377.73L96.30 377.73Z" fill="#fff" stroke="#5cb85c" stroke-width="0.6"/>
<polyline points="46.50,376.21 51.67,368.99 56.84,346.65 77.52,367.27 98.20,376.90" fill="none" stroke="#2f7a62" stroke-width="0.8" stroke-linejoin="round" />
<path d="M56.84 348.55L58.74 345.13L54.94 345.13Z" fill="#fff" stroke="#2f7a62" stroke-width="0.6"/>
<path d="M77.52 369.17L79.42 365.75L75.62 365.75Z" fill="#fff" stroke="#2f7a62" stroke-width="0.6"/>
<path d="M98.20 378.80L100.10 375.38L96.30 375.38Z" fill="#fff" stroke="#2f7a62" stroke-width="0.6"/>
<polyline points="46.50,376.21 51.67,368.99 56.84,352.15 77.52,369.34 98.20,389.96" fill="none" stroke="#5b2a7e" stroke-width="0.8" stroke-linejoin="round" />
<path d="M56.84 354.05L58.74 350.63L54.94 350.63Z" fill="#fff" stroke="#5b2a7e" stroke-width="0.6"/>
<path d="M77.52 371.24L79.42 367.82L75.62 367.82Z" fill="#fff" stroke="#5b2a7e" stroke-width="0.6"/>
<path d="M98.20 391.86L100.10 388.44L96.30 388.44Z" fill="#fff" stroke="#5b2a7e" stroke-width="0.6"/>
<polyline points="46.50,376.21 51.67,368.99 56.84,352.15 77.52,370.02 98.20,387.90" fill="none" stroke="#d62a7e" stroke-width="0.8" stroke-linejoin="round" />
<path d="M56.84 354.05L58.74 350.63L54.94 350.63Z" fill="#fff" stroke="#d62a7e" stroke-width="0.6"/>
<path d="M77.52 371.92L79.42 368.50L75.62 368.50Z" fill="#fff" stroke="#d62a7e" stroke-width="0.6"/>
<path d="M98.20 389.80L100.10 386.38L96.30 386.38Z" fill="#fff" stroke="#d62a7e" stroke-width="0.6"/>
<rect x="44.80" y="374.51" width="3.40" height="3.40" fill="#c040b0" stroke="#c040b0" stroke-width="0.6"/>
<rect x="49.97" y="367.29" width="3.40" height="3.40" fill="#c040b0" stroke="#c040b0" stroke-width="0.6"/>
<text x="73.75" y="421.00" font-size="6.7" text-anchor="middle" fill="#333" stroke="#333" stroke-width="0.12" textLength="77.50" lengthAdjust="spacingAndGlyphs">% CCR4 in CAR(-)CD4(+)</text>
<line x1="44.40" y1="425.50" x2="44.40" y2="486.85" stroke="#111" stroke-width="1.1"/>
<line x1="41.80" y1="428.90" x2="44.40" y2="428.90" stroke="#111" stroke-width="1.1"/>
<text x="38.30" y="431.26" font-size="6.6" text-anchor="end" fill="#222">80</text>
<line x1="41.80" y1="442.65" x2="44.40" y2="442.65" stroke="#111" stroke-width="1.1"/>
<text x="38.30" y="445.01" font-size="6.6" text-anchor="end" fill="#222">60</text>
<line x1="41.80" y1="456.40" x2="44.40" y2="456.40" stroke="#111" stroke-width="1.1"/>
<text x="38.30" y="458.76" font-size="6.6" text-anchor="end" fill="#222">40</text>
<line x1="41.80" y1="470.15" x2="44.40" y2="470.15" stroke="#111" stroke-width="1.1"/>
<text x="38.30" y="472.51" font-size="6.6" text-anchor="end" fill="#222">20</text>
<line x1="41.80" y1="483.90" x2="44.40" y2="483.90" stroke="#111" stroke-width="1.1"/>
<text x="38.30" y="486.26" font-size="6.6" text-anchor="end" fill="#222">0</text>
<line x1="44.40" y1="486.85" x2="102.50" y2="486.85" stroke="#111" stroke-width="1.1"/>
<line x1="46.50" y1="486.85" x2="46.50" y2="489.05" stroke="#111" stroke-width="1.1"/>
<text x="46.50" y="499.06" font-size="6.6" text-anchor="middle" fill="#222">0</text>
<line x1="56.84" y1="486.85" x2="56.84" y2="489.05" stroke="#111" stroke-width="1.1"/>
<text x="56.84" y="499.06" font-size="6.6" text-anchor="middle" fill="#222">2</text>
<line x1="67.18" y1="486.85" x2="67.18" y2="489.05" stroke="#111" stroke-width="1.1"/>
<text x="67.18" y="499.06" font-size="6.6" text-anchor="middle" fill="#222">4</text>
<line x1="77.52" y1="486.85" x2="77.52" y2="489.05" stroke="#111" stroke-width="1.1"/>
<text x="77.52" y="499.06" font-size="6.6" text-anchor="middle" fill="#222">6</text>
<line x1="87.86" y1="486.85" x2="87.86" y2="489.05" stroke="#111" stroke-width="1.1"/>
<text x="87.86" y="499.06" font-size="6.6" text-anchor="middle" fill="#222">8</text>
<line x1="98.20" y1="486.85" x2="98.20" y2="489.05" stroke="#111" stroke-width="1.1"/>
<text x="98.20" y="499.06" font-size="6.6" text-anchor="middle" fill="#222">10</text>
<text x="74.10" y="511.50" font-size="8.8" text-anchor="middle" fill="#222" font-weight="normal" stroke="#222" stroke-width="0.42" textLength="56.20" lengthAdjust="spacingAndGlyphs">Days post stimulation</text>
<text x="456.50" y="0" font-size="8.8" text-anchor="middle" fill="#222" font-weight="normal" stroke="#222" stroke-width="0.42" textLength="27.30" lengthAdjust="spacingAndGlyphs" transform="translate(26.05,456.50) rotate(-90) translate(-456.50,0)">CCR4 (%)</text>
<polyline points="46.50,466.37 51.67,459.49 56.84,464.65 77.52,483.21 98.20,483.90" fill="none" stroke="#4aa3e0" stroke-width="0.8" stroke-linejoin="round" />
<path d="M56.84 462.46L57.45 463.80L58.92 463.97L57.83 464.97L58.12 466.42L56.84 465.69L55.56 466.42L55.85 464.97L54.76 463.97L56.23 463.80Z" fill="#4aa3e0" stroke="none"/>
<path d="M77.52 481.03L78.13 482.37L79.60 482.54L78.51 483.54L78.80 484.98L77.52 484.26L76.24 484.98L76.53 483.54L75.44 482.54L76.91 482.37Z" fill="#4aa3e0" stroke="none"/>
<path d="M98.20 481.71L98.81 483.05L100.28 483.22L99.19 484.22L99.48 485.67L98.20 484.94L96.92 485.67L97.21 484.22L96.12 483.22L97.59 483.05Z" fill="#4aa3e0" stroke="none"/>
<polyline points="46.50,466.37 51.67,459.49 56.84,461.21 77.52,479.09 98.20,482.52" fill="none" stroke="#f0a43a" stroke-width="0.8" stroke-linejoin="round" />
<path d="M56.84 459.03L57.45 460.37L58.92 460.54L57.83 461.54L58.12 462.98L56.84 462.26L55.56 462.98L55.85 461.54L54.76 460.54L56.23 460.37Z" fill="#f0a43a" stroke="none"/>
<path d="M77.52 476.90L78.13 478.24L79.60 478.41L78.51 479.41L78.80 480.86L77.52 480.13L76.24 480.86L76.53 479.41L75.44 478.41L76.91 478.24Z" fill="#f0a43a" stroke="none"/>
<path d="M98.20 480.34L98.81 481.68L100.28 481.85L99.19 482.85L99.48 484.29L98.20 483.57L96.92 484.29L97.21 482.85L96.12 481.85L97.59 481.68Z" fill="#f0a43a" stroke="none"/>
<polyline points="46.50,466.37 51.67,459.49 56.84,471.52 77.52,481.84 98.20,483.21" fill="none" stroke="#a59fd6" stroke-width="0.8" stroke-linejoin="round" />
<path d="M56.84 469.62L58.74 473.04L54.94 473.04Z" fill="#fff" stroke="#a59fd6" stroke-width="0.6"/>
<path d="M77.52 479.94L79.42 483.36L75.62 483.36Z" fill="#fff" stroke="#a59fd6" stroke-width="0.6"/>
<path d="M98.20 481.31L100.10 484.73L96.30 484.73Z" fill="#fff" stroke="#a59fd6" stroke-width="0.6"/>
<polyline points="46.50,466.37 51.67,459.49 56.84,453.65 77.52,479.77 98.20,482.52" fill="none" stroke="#5cb85c" stroke-width="0.8" stroke-linejoin="round" />
<path d="M56.84 451.75L58.74 455.17L54.94 455.17Z" fill="#fff" stroke="#5cb85c" stroke-width="0.6"/>
<path d="M77.52 477.88L79.42 481.29L75.62 481.29Z" fill="#fff" stroke="#5cb85c" stroke-width="0.6"/>
<path d="M98.20 480.62L100.10 484.04L96.30 484.04Z" fill="#fff" stroke="#5cb85c" stroke-width="0.6"/>
<polyline points="46.50,466.37 51.67,459.49 56.84,452.27 77.52,481.15 98.20,483.21" fill="none" stroke="#2f7a62" stroke-width="0.8" stroke-linejoin="round" />
<path d="M56.84 454.17L58.74 450.75L54.94 450.75Z" fill="#fff" stroke="#2f7a62" stroke-width="0.6"/>
<path d="M77.52 483.05L79.42 479.63L75.62 479.63Z" fill="#fff" stroke="#2f7a62" stroke-width="0.6"/>
<path d="M98.20 485.11L100.10 481.69L96.30 481.69Z" fill="#fff" stroke="#2f7a62" stroke-width="0.6"/>
<polyline points="46.50,466.37 51.67,459.49 56.84,456.40 77.52,480.46 98.20,483.21" fill="none" stroke="#4d4d4d" stroke-width="0.8" stroke-linejoin="round" />
<path d="M56.84 458.30L58.74 454.88L54.94 454.88Z" fill="#fff" stroke="#4d4d4d" stroke-width="0.6"/>
<path d="M77.52 482.36L79.42 478.94L75.62 478.94Z" fill="#fff" stroke="#4d4d4d" stroke-width="0.6"/>
<path d="M98.20 485.11L100.10 481.69L96.30 481.69Z" fill="#fff" stroke="#4d4d4d" stroke-width="0.6"/>
<polyline points="46.50,466.37 51.67,459.49 56.84,470.15 77.52,480.46 98.20,481.84" fill="none" stroke="#5b2a7e" stroke-width="1.1" stroke-linejoin="round" />
<path d="M56.84 472.05L58.74 468.63L54.94 468.63Z" fill="#fff" stroke="#5b2a7e" stroke-width="0.6"/>
<path d="M77.52 482.36L79.42 478.94L75.62 478.94Z" fill="#fff" stroke="#5b2a7e" stroke-width="0.6"/>
<path d="M98.20 483.74L100.10 480.32L96.30 480.32Z" fill="#fff" stroke="#5b2a7e" stroke-width="0.6"/>
<polyline points="46.50,466.37 51.67,459.49 56.84,468.77 77.52,481.15 98.20,483.21" fill="none" stroke="#d62a7e" stroke-width="1.1" stroke-linejoin="round" />
<path d="M56.84 470.67L58.74 467.25L54.94 467.25Z" fill="#fff" stroke="#d62a7e" stroke-width="0.6"/>
<path d="M77.52 483.05L79.42 479.63L75.62 479.63Z" fill="#fff" stroke="#d62a7e" stroke-width="0.6"/>
<path d="M98.20 485.11L100.10 481.69L96.30 481.69Z" fill="#fff" stroke="#d62a7e" stroke-width="0.6"/>
<polyline points="46.50,466.37 51.67,459.49 56.84,450.21 77.52,444.71 98.20,448.84" fill="none" stroke="#2f5f8f" stroke-width="0.8" stroke-linejoin="round" />
<path d="M56.84 448.31L58.74 450.21L56.84 452.11L54.94 450.21Z" fill="#fff" stroke="#2f5f8f" stroke-width="0.6"/>
<path d="M77.52 442.81L79.42 444.71L77.52 446.61L75.62 444.71Z" fill="#fff" stroke="#2f5f8f" stroke-width="0.6"/>
<path d="M98.20 446.94L100.10 448.84L98.20 450.74L96.30 448.84Z" fill="#fff" stroke="#2f5f8f" stroke-width="0.6"/>
<polyline points="46.50,466.37 51.67,459.49 56.84,441.96 77.52,440.59 98.20,449.52" fill="none" stroke="#d8324f" stroke-width="0.8" stroke-linejoin="round" />
<circle cx="56.84" cy="441.96" r="1.90" fill="#fff" stroke="#d8324f" stroke-width="0.7"/>
<circle cx="77.52" cy="440.59" r="1.90" fill="#fff" stroke="#d8324f" stroke-width="0.7"/>
<circle cx="98.20" cy="449.52" r="1.90" fill="#fff" stroke="#d8324f" stroke-width="0.7"/>
<rect x="44.80" y="464.67" width="3.40" height="3.40" fill="#c040b0" stroke="#c040b0" stroke-width="0.6"/>
<rect x="49.97" y="457.79" width="3.40" height="3.40" fill="#c040b0" stroke="#c040b0" stroke-width="0.6"/>
<text x="192.90" y="330.50" font-size="6.7" text-anchor="middle" fill="#333" stroke="#333" stroke-width="0.12" textLength="104.60" lengthAdjust="spacingAndGlyphs">% CCR4 in CAR(+)CD4(+) at day10</text>
<rect x="147.10" y="370.38" width="8.60" height="27.12" fill="#bcc0df" stroke="none" stroke-width="1" />
<rect x="157.90" y="396.98" width="8.60" height="0.52" fill="#cfe7c9" stroke="none" stroke-width="1" />
<rect x="168.70" y="394.88" width="8.60" height="2.62" fill="#c9b9de" stroke="none" stroke-width="1" />
<rect x="179.50" y="385.69" width="8.60" height="11.81" fill="#fde0b4" stroke="none" stroke-width="1" />
<rect x="190.30" y="383.94" width="8.60" height="13.56" fill="#bfcdc3" stroke="none" stroke-width="1" />
<rect x="201.10" y="390.50" width="8.60" height="7.00" fill="#dfdbf1" stroke="none" stroke-width="1" />
<rect x="211.90" y="389.19" width="8.60" height="8.31" fill="#c9c8cd" stroke="none" stroke-width="1" />
<rect x="222.70" y="394.44" width="8.60" height="3.06" fill="#c9e3f6" stroke="none" stroke-width="1" />
<rect x="233.50" y="392.25" width="8.60" height="5.25" fill="#f7c1da" stroke="none" stroke-width="1" />
<line x1="142.25" y1="341.50" x2="142.25" y2="397.50" stroke="#111" stroke-width="1.1"/>
<line x1="139.65" y1="345.00" x2="142.25" y2="345.00" stroke="#111" stroke-width="1.1"/>
<text x="136.30" y="347.36" font-size="6.6" text-anchor="end" fill="#222">60</text>
<line x1="139.65" y1="362.50" x2="142.25" y2="362.50" stroke="#111" stroke-width="1.1"/>
<text x="136.30" y="364.86" font-size="6.6" text-anchor="end" fill="#222">40</text>
<line x1="139.65" y1="380.00" x2="142.25" y2="380.00" stroke="#111" stroke-width="1.1"/>
<text x="136.30" y="382.36" font-size="6.6" text-anchor="end" fill="#222">20</text>
<line x1="139.65" y1="397.50" x2="142.25" y2="397.50" stroke="#111" stroke-width="1.1"/>
<text x="136.30" y="399.86" font-size="6.6" text-anchor="end" fill="#222">0</text>
<line x1="142.25" y1="397.50" x2="247.80" y2="397.50" stroke="#111" stroke-width="1.1"/>
<text x="370.30" y="0" font-size="8.8" text-anchor="middle" fill="#222" font-weight="normal" stroke="#222" stroke-width="0.42" textLength="27.30" lengthAdjust="spacingAndGlyphs" transform="translate(123.75,370.30) rotate(-90) translate(-370.30,0)">CCR4 (%)</text>
<line x1="151.40" y1="366.44" x2="151.40" y2="370.81" stroke="#2f5f8f" stroke-width="0.6"/>
<line x1="149.80" y1="366.44" x2="153.00" y2="366.44" stroke="#2f5f8f" stroke-width="0.6"/>
<line x1="149.00" y1="368.62" x2="153.80" y2="368.62" stroke="#2f5f8f" stroke-width="0.6"/>
<path d="M149.80 354.35L150.95 355.50L149.80 356.65L148.65 355.50Z" fill="#2f5f8f" stroke="#2f5f8f" stroke-width="0.6"/>
<path d="M153.00 366.60L154.15 367.75L153.00 368.90L151.85 367.75Z" fill="#2f5f8f" stroke="#2f5f8f" stroke-width="0.6"/>
<path d="M151.40 368.35L152.55 369.50L151.40 370.65L150.25 369.50Z" fill="#2f5f8f" stroke="#2f5f8f" stroke-width="0.6"/>
<path d="M149.80 370.10L150.95 371.25L149.80 372.40L148.65 371.25Z" fill="#2f5f8f" stroke="#2f5f8f" stroke-width="0.6"/>
<path d="M153.00 371.85L154.15 373.00L153.00 374.15L151.85 373.00Z" fill="#2f5f8f" stroke="#2f5f8f" stroke-width="0.6"/>
<path d="M151.40 373.60L152.55 374.75L151.40 375.90L150.25 374.75Z" fill="#2f5f8f" stroke="#2f5f8f" stroke-width="0.6"/>
<line x1="162.20" y1="394.81" x2="162.20" y2="399.18" stroke="#5cb85c" stroke-width="0.6"/>
<line x1="160.60" y1="394.81" x2="163.80" y2="394.81" stroke="#5cb85c" stroke-width="0.6"/>
<line x1="159.80" y1="397.00" x2="164.60" y2="397.00" stroke="#5cb85c" stroke-width="0.6"/>
<path d="M160.60 395.48L161.75 397.55L159.45 397.55Z" fill="#5cb85c" stroke="#5cb85c" stroke-width="0.6"/>
<path d="M163.80 395.91L164.95 397.98L162.65 397.98Z" fill="#5cb85c" stroke="#5cb85c" stroke-width="0.6"/>
<path d="M162.20 395.91L163.35 397.98L161.05 397.98Z" fill="#5cb85c" stroke="#5cb85c" stroke-width="0.6"/>
<path d="M160.60 396.09L161.75 398.16L159.45 398.16Z" fill="#5cb85c" stroke="#5cb85c" stroke-width="0.6"/>
<line x1="173.00" y1="392.16" x2="173.00" y2="396.54" stroke="#5b2a7e" stroke-width="0.6"/>
<line x1="171.40" y1="392.16" x2="174.60" y2="392.16" stroke="#5b2a7e" stroke-width="0.6"/>
<line x1="170.60" y1="394.35" x2="175.40" y2="394.35" stroke="#5b2a7e" stroke-width="0.6"/>
<path d="M171.40 391.65L172.55 389.58L170.25 389.58Z" fill="#5b2a7e" stroke="#5b2a7e" stroke-width="0.6"/>
<path d="M174.60 395.15L175.75 393.08L173.45 393.08Z" fill="#5b2a7e" stroke="#5b2a7e" stroke-width="0.6"/>
<path d="M173.00 396.02L174.15 393.95L171.85 393.95Z" fill="#5b2a7e" stroke="#5b2a7e" stroke-width="0.6"/>
<path d="M171.40 396.90L172.55 394.83L170.25 394.83Z" fill="#5b2a7e" stroke="#5b2a7e" stroke-width="0.6"/>
<path d="M174.60 397.77L175.75 395.70L173.45 395.70Z" fill="#5b2a7e" stroke="#5b2a7e" stroke-width="0.6"/>
<line x1="183.80" y1="384.81" x2="183.80" y2="389.19" stroke="#f0a43a" stroke-width="0.6"/>
<line x1="182.20" y1="384.81" x2="185.40" y2="384.81" stroke="#f0a43a" stroke-width="0.6"/>
<line x1="181.40" y1="387.00" x2="186.20" y2="387.00" stroke="#f0a43a" stroke-width="0.6"/>
<path d="M182.20 378.68L182.57 379.49L183.46 379.59L182.80 380.20L182.98 381.07L182.20 380.63L181.42 381.07L181.60 380.20L180.94 379.59L181.83 379.49Z" fill="#f0a43a" stroke="none"/>
<path d="M185.40 382.18L185.77 382.99L186.66 383.09L186.00 383.70L186.18 384.57L185.40 384.13L184.62 384.57L184.80 383.70L184.14 383.09L185.03 382.99Z" fill="#f0a43a" stroke="none"/>
<path d="M183.80 385.68L184.17 386.49L185.06 386.59L184.40 387.20L184.58 388.07L183.80 387.63L183.02 388.07L183.20 387.20L182.54 386.59L183.43 386.49Z" fill="#f0a43a" stroke="none"/>
<path d="M182.20 387.43L182.57 388.24L183.46 388.34L182.80 388.95L182.98 389.82L182.20 389.38L181.42 389.82L181.60 388.95L180.94 388.34L181.83 388.24Z" fill="#f0a43a" stroke="none"/>
<path d="M185.40 389.18L185.77 389.99L186.66 390.09L186.00 390.70L186.18 391.57L185.40 391.13L184.62 391.57L184.80 390.70L184.14 390.09L185.03 389.99Z" fill="#f0a43a" stroke="none"/>
<path d="M183.80 390.93L184.17 391.74L185.06 391.84L184.40 392.45L184.58 393.32L183.80 392.88L183.02 393.32L183.20 392.45L182.54 391.84L183.43 391.74Z" fill="#f0a43a" stroke="none"/>
<line x1="194.60" y1="381.75" x2="194.60" y2="386.12" stroke="#2f7a62" stroke-width="0.6"/>
<line x1="193.00" y1="381.75" x2="196.20" y2="381.75" stroke="#2f7a62" stroke-width="0.6"/>
<line x1="192.20" y1="383.94" x2="197.00" y2="383.94" stroke="#2f7a62" stroke-width="0.6"/>
<path d="M193.00 376.77L194.15 374.70L191.85 374.70Z" fill="#2f7a62" stroke="#2f7a62" stroke-width="0.6"/>
<path d="M196.20 377.65L197.35 375.58L195.05 375.58Z" fill="#2f7a62" stroke="#2f7a62" stroke-width="0.6"/>
<path d="M194.60 382.90L195.75 380.83L193.45 380.83Z" fill="#2f7a62" stroke="#2f7a62" stroke-width="0.6"/>
<path d="M193.00 388.15L194.15 386.08L191.85 386.08Z" fill="#2f7a62" stroke="#2f7a62" stroke-width="0.6"/>
<path d="M196.20 391.65L197.35 389.58L195.05 389.58Z" fill="#2f7a62" stroke="#2f7a62" stroke-width="0.6"/>
<path d="M194.60 393.40L195.75 391.33L193.45 391.33Z" fill="#2f7a62" stroke="#2f7a62" stroke-width="0.6"/>
<line x1="205.40" y1="388.66" x2="205.40" y2="393.04" stroke="#a59fd6" stroke-width="0.6"/>
<line x1="203.80" y1="388.66" x2="207.00" y2="388.66" stroke="#a59fd6" stroke-width="0.6"/>
<line x1="203.00" y1="390.85" x2="207.80" y2="390.85" stroke="#a59fd6" stroke-width="0.6"/>
<path d="M203.80 384.98L204.95 387.05L202.65 387.05Z" fill="#a59fd6" stroke="#a59fd6" stroke-width="0.6"/>
<path d="M207.00 388.48L208.15 390.55L205.85 390.55Z" fill="#a59fd6" stroke="#a59fd6" stroke-width="0.6"/>
<path d="M205.40 390.23L206.55 392.30L204.25 392.30Z" fill="#a59fd6" stroke="#a59fd6" stroke-width="0.6"/>
<path d="M203.80 391.98L204.95 394.05L202.65 394.05Z" fill="#a59fd6" stroke="#a59fd6" stroke-width="0.6"/>
<path d="M207.00 392.85L208.15 394.92L205.85 394.92Z" fill="#a59fd6" stroke="#a59fd6" stroke-width="0.6"/>
<line x1="216.20" y1="385.86" x2="216.20" y2="390.24" stroke="#4d4d4d" stroke-width="0.6"/>
<line x1="214.60" y1="385.86" x2="217.80" y2="385.86" stroke="#4d4d4d" stroke-width="0.6"/>
<line x1="213.80" y1="388.05" x2="218.60" y2="388.05" stroke="#4d4d4d" stroke-width="0.6"/>
<path d="M214.60 381.15L215.75 379.08L213.45 379.08Z" fill="#4d4d4d" stroke="#4d4d4d" stroke-width="0.6"/>
<path d="M217.80 388.15L218.95 386.08L216.65 386.08Z" fill="#4d4d4d" stroke="#4d4d4d" stroke-width="0.6"/>
<path d="M216.20 389.90L217.35 387.83L215.05 387.83Z" fill="#4d4d4d" stroke="#4d4d4d" stroke-width="0.6"/>
<path d="M214.60 392.52L215.75 390.45L213.45 390.45Z" fill="#4d4d4d" stroke="#4d4d4d" stroke-width="0.6"/>
<path d="M217.80 394.27L218.95 392.20L216.65 392.20Z" fill="#4d4d4d" stroke="#4d4d4d" stroke-width="0.6"/>
<line x1="227.00" y1="392.51" x2="227.00" y2="396.89" stroke="#4aa3e0" stroke-width="0.6"/>
<line x1="225.40" y1="392.51" x2="228.60" y2="392.51" stroke="#4aa3e0" stroke-width="0.6"/>
<line x1="224.60" y1="394.70" x2="229.40" y2="394.70" stroke="#4aa3e0" stroke-width="0.6"/>
<path d="M225.40 390.93L225.77 391.74L226.66 391.84L226.00 392.45L226.18 393.32L225.40 392.88L224.62 393.32L224.80 392.45L224.14 391.84L225.03 391.74Z" fill="#4aa3e0" stroke="none"/>
<path d="M228.60 392.68L228.97 393.49L229.86 393.59L229.20 394.20L229.38 395.07L228.60 394.63L227.82 395.07L228.00 394.20L227.34 393.59L228.23 393.49Z" fill="#4aa3e0" stroke="none"/>
<path d="M227.00 393.55L227.37 394.36L228.26 394.47L227.60 395.07L227.78 395.94L227.00 395.51L226.22 395.94L226.40 395.07L225.74 394.47L226.63 394.36Z" fill="#4aa3e0" stroke="none"/>
<path d="M225.40 394.43L225.77 395.24L226.66 395.34L226.00 395.95L226.18 396.82L225.40 396.38L224.62 396.82L224.80 395.95L224.14 395.34L225.03 395.24Z" fill="#4aa3e0" stroke="none"/>
<path d="M228.60 395.30L228.97 396.11L229.86 396.22L229.20 396.82L229.38 397.69L228.60 397.26L227.82 397.69L228.00 396.82L227.34 396.22L228.23 396.11Z" fill="#4aa3e0" stroke="none"/>
<line x1="237.80" y1="389.71" x2="237.80" y2="394.09" stroke="#d62a7e" stroke-width="0.6"/>
<line x1="236.20" y1="389.71" x2="239.40" y2="389.71" stroke="#d62a7e" stroke-width="0.6"/>
<line x1="235.40" y1="391.90" x2="240.20" y2="391.90" stroke="#d62a7e" stroke-width="0.6"/>
<path d="M236.20 388.15L237.35 386.08L235.05 386.08Z" fill="#d62a7e" stroke="#d62a7e" stroke-width="0.6"/>
<path d="M239.40 391.65L240.55 389.58L238.25 389.58Z" fill="#d62a7e" stroke="#d62a7e" stroke-width="0.6"/>
<path d="M237.80 393.40L238.95 391.33L236.65 391.33Z" fill="#d62a7e" stroke="#d62a7e" stroke-width="0.6"/>
<path d="M236.20 395.15L237.35 393.08L235.05 393.08Z" fill="#d62a7e" stroke="#d62a7e" stroke-width="0.6"/>
<path d="M239.40 396.90L240.55 394.83L238.25 394.83Z" fill="#d62a7e" stroke="#d62a7e" stroke-width="0.6"/>
<circle cx="151.40" cy="345.20" r="0.6" fill="#6a7fb0"/>
<circle cx="162.90" cy="341.50" r="0.8" fill="#1a1a1a"/>
<circle cx="162.90" cy="343.95" r="0.8" fill="#1a1a1a"/>
<circle cx="162.90" cy="346.40" r="0.8" fill="#1a1a1a"/>
<circle cx="162.90" cy="348.85" r="0.8" fill="#1a1a1a"/>
<circle cx="173.70" cy="341.50" r="0.8" fill="#1a1a1a"/>
<circle cx="173.70" cy="343.95" r="0.8" fill="#1a1a1a"/>
<circle cx="173.70" cy="346.40" r="0.8" fill="#1a1a1a"/>
<circle cx="173.70" cy="348.85" r="0.8" fill="#1a1a1a"/>
<circle cx="184.50" cy="341.50" r="0.8" fill="#1a1a1a"/>
<circle cx="184.50" cy="343.95" r="0.8" fill="#1a1a1a"/>
<circle cx="184.50" cy="346.40" r="0.8" fill="#1a1a1a"/>
<circle cx="184.50" cy="348.85" r="0.8" fill="#1a1a1a"/>
<circle cx="195.30" cy="345.90" r="0.8" fill="#1a1a1a"/>
<circle cx="195.30" cy="348.35" r="0.8" fill="#1a1a1a"/>
<circle cx="206.10" cy="341.50" r="0.8" fill="#1a1a1a"/>
<circle cx="206.10" cy="343.95" r="0.8" fill="#1a1a1a"/>
<circle cx="206.10" cy="346.40" r="0.8" fill="#1a1a1a"/>
<circle cx="206.10" cy="348.85" r="0.8" fill="#1a1a1a"/>
<circle cx="216.90" cy="341.50" r="0.8" fill="#1a1a1a"/>
<circle cx="216.90" cy="343.95" r="0.8" fill="#1a1a1a"/>
<circle cx="216.90" cy="346.40" r="0.8" fill="#1a1a1a"/>
<circle cx="216.90" cy="348.85" r="0.8" fill="#1a1a1a"/>
<circle cx="227.70" cy="341.50" r="0.8" fill="#1a1a1a"/>
<circle cx="227.70" cy="343.95" r="0.8" fill="#1a1a1a"/>
<circle cx="227.70" cy="346.40" r="0.8" fill="#1a1a1a"/>
<circle cx="227.70" cy="348.85" r="0.8" fill="#1a1a1a"/>
<circle cx="238.50" cy="341.50" r="0.8" fill="#1a1a1a"/>
<circle cx="238.50" cy="343.95" r="0.8" fill="#1a1a1a"/>
<circle cx="238.50" cy="346.40" r="0.8" fill="#1a1a1a"/>
<circle cx="238.50" cy="348.85" r="0.8" fill="#1a1a1a"/>
<text x="223.60" y="359.80" font-size="6.7" text-anchor="middle" fill="#222" stroke="#222" stroke-width="0.12" textLength="38.60" lengthAdjust="spacingAndGlyphs">(v.s. 19CART)</text>
<text x="192.30" y="421.01" font-size="6.74" text-anchor="middle" fill="#333" stroke="#333" stroke-width="0.12" textLength="105.80" lengthAdjust="spacingAndGlyphs">% CCR4 in CAR(-)CD4(+) at day10</text>
<rect x="146.10" y="453.70" width="8.20" height="33.90" fill="#f2b7ab" stroke="none" stroke-width="1" />
<rect x="155.82" y="460.60" width="8.20" height="27.00" fill="#bcc0df" stroke="none" stroke-width="1" />
<rect x="165.54" y="486.31" width="8.20" height="1.29" fill="#cfe7c9" stroke="none" stroke-width="1" />
<rect x="175.26" y="486.74" width="8.20" height="0.86" fill="#c9b9de" stroke="none" stroke-width="1" />
<rect x="184.98" y="487.17" width="8.20" height="0.43" fill="#fde0b4" stroke="none" stroke-width="1" />
<rect x="194.70" y="487.17" width="8.20" height="0.43" fill="#bfcdc3" stroke="none" stroke-width="1" />
<rect x="204.42" y="485.88" width="8.20" height="1.73" fill="#dfdbf1" stroke="none" stroke-width="1" />
<rect x="214.14" y="486.91" width="8.20" height="0.69" fill="#c9c8cd" stroke="none" stroke-width="1" />
<rect x="223.86" y="487.17" width="8.20" height="0.43" fill="#c9e3f6" stroke="none" stroke-width="1" />
<rect x="233.58" y="486.31" width="8.20" height="1.29" fill="#f7c1da" stroke="none" stroke-width="1" />
<line x1="142.25" y1="432.00" x2="142.25" y2="487.60" stroke="#111" stroke-width="1.1"/>
<line x1="139.65" y1="435.85" x2="142.25" y2="435.85" stroke="#111" stroke-width="1.1"/>
<text x="136.30" y="438.21" font-size="6.6" text-anchor="end" fill="#222">60</text>
<line x1="139.65" y1="453.10" x2="142.25" y2="453.10" stroke="#111" stroke-width="1.1"/>
<text x="136.30" y="455.46" font-size="6.6" text-anchor="end" fill="#222">40</text>
<line x1="139.65" y1="470.35" x2="142.25" y2="470.35" stroke="#111" stroke-width="1.1"/>
<text x="136.30" y="472.71" font-size="6.6" text-anchor="end" fill="#222">20</text>
<line x1="139.65" y1="487.60" x2="142.25" y2="487.60" stroke="#111" stroke-width="1.1"/>
<text x="136.30" y="489.96" font-size="6.6" text-anchor="end" fill="#222">0</text>
<line x1="142.25" y1="487.60" x2="246.80" y2="487.60" stroke="#111" stroke-width="1.1"/>
<text x="461.00" y="0" font-size="8.8" text-anchor="middle" fill="#222" font-weight="normal" stroke="#222" stroke-width="0.42" textLength="27.30" lengthAdjust="spacingAndGlyphs" transform="translate(123.75,461.00) rotate(-90) translate(-461.00,0)">CCR4 (%)</text>
<line x1="150.20" y1="452.09" x2="150.20" y2="457.27" stroke="#d8324f" stroke-width="0.6"/>
<line x1="148.60" y1="452.09" x2="151.80" y2="452.09" stroke="#d8324f" stroke-width="0.6"/>
<line x1="147.80" y1="454.68" x2="152.60" y2="454.68" stroke="#d8324f" stroke-width="0.6"/>
<circle cx="148.60" cy="446.20" r="1.15" fill="#fff" stroke="#d8324f" stroke-width="0.7"/>
<circle cx="151.80" cy="445.34" r="1.15" fill="#fff" stroke="#d8324f" stroke-width="0.7"/>
<circle cx="150.20" cy="453.96" r="1.15" fill="#fff" stroke="#d8324f" stroke-width="0.7"/>
<circle cx="148.60" cy="460.00" r="1.15" fill="#fff" stroke="#d8324f" stroke-width="0.7"/>
<circle cx="151.80" cy="461.73" r="1.15" fill="#fff" stroke="#d8324f" stroke-width="0.7"/>
<circle cx="150.20" cy="460.86" r="1.15" fill="#fff" stroke="#d8324f" stroke-width="0.7"/>
<line x1="159.92" y1="456.55" x2="159.92" y2="461.73" stroke="#2f5f8f" stroke-width="0.6"/>
<line x1="158.32" y1="456.55" x2="161.52" y2="456.55" stroke="#2f5f8f" stroke-width="0.6"/>
<line x1="157.52" y1="459.14" x2="162.32" y2="459.14" stroke="#2f5f8f" stroke-width="0.6"/>
<path d="M158.32 441.60L159.47 442.75L158.32 443.90L157.17 442.75Z" fill="#2f5f8f" stroke="#2f5f8f" stroke-width="0.6"/>
<path d="M161.52 451.09L162.67 452.24L161.52 453.39L160.37 452.24Z" fill="#2f5f8f" stroke="#2f5f8f" stroke-width="0.6"/>
<path d="M159.92 457.99L161.07 459.14L159.92 460.29L158.77 459.14Z" fill="#2f5f8f" stroke="#2f5f8f" stroke-width="0.6"/>
<path d="M158.32 462.30L159.47 463.45L158.32 464.60L157.17 463.45Z" fill="#2f5f8f" stroke="#2f5f8f" stroke-width="0.6"/>
<path d="M161.52 465.75L162.67 466.90L161.52 468.05L160.37 466.90Z" fill="#2f5f8f" stroke="#2f5f8f" stroke-width="0.6"/>
<path d="M159.92 469.20L161.07 470.35L159.92 471.50L158.77 470.35Z" fill="#2f5f8f" stroke="#2f5f8f" stroke-width="0.6"/>
<line x1="169.64" y1="485.36" x2="169.64" y2="486.39" stroke="#5cb85c" stroke-width="0.6"/>
<line x1="168.04" y1="485.36" x2="171.24" y2="485.36" stroke="#5cb85c" stroke-width="0.6"/>
<line x1="167.24" y1="485.88" x2="172.04" y2="485.88" stroke="#5cb85c" stroke-width="0.6"/>
<path d="M168.04 483.00L169.19 485.07L166.89 485.07Z" fill="#5cb85c" stroke="#5cb85c" stroke-width="0.6"/>
<path d="M171.24 484.73L172.39 486.80L170.09 486.80Z" fill="#5cb85c" stroke="#5cb85c" stroke-width="0.6"/>
<path d="M169.64 485.59L170.79 487.66L168.49 487.66Z" fill="#5cb85c" stroke="#5cb85c" stroke-width="0.6"/>
<path d="M168.04 485.59L169.19 487.66L166.89 487.66Z" fill="#5cb85c" stroke="#5cb85c" stroke-width="0.6"/>
<line x1="179.36" y1="486.11" x2="179.36" y2="487.15" stroke="#5b2a7e" stroke-width="0.6"/>
<line x1="177.76" y1="486.11" x2="180.96" y2="486.11" stroke="#5b2a7e" stroke-width="0.6"/>
<line x1="176.96" y1="486.63" x2="181.76" y2="486.63" stroke="#5b2a7e" stroke-width="0.6"/>
<path d="M177.76 487.02L178.91 484.95L176.61 484.95Z" fill="#5b2a7e" stroke="#5b2a7e" stroke-width="0.6"/>
<path d="M180.96 487.89L182.11 485.82L179.81 485.82Z" fill="#5b2a7e" stroke="#5b2a7e" stroke-width="0.6"/>
<path d="M179.36 487.89L180.51 485.82L178.21 485.82Z" fill="#5b2a7e" stroke="#5b2a7e" stroke-width="0.6"/>
<path d="M177.76 488.32L178.91 486.25L176.61 486.25Z" fill="#5b2a7e" stroke="#5b2a7e" stroke-width="0.6"/>
<line x1="189.08" y1="486.56" x2="189.08" y2="487.60" stroke="#f0a43a" stroke-width="0.6"/>
<line x1="187.48" y1="486.56" x2="190.68" y2="486.56" stroke="#f0a43a" stroke-width="0.6"/>
<line x1="186.68" y1="487.08" x2="191.48" y2="487.08" stroke="#f0a43a" stroke-width="0.6"/>
<path d="M187.48 485.42L187.85 486.23L188.74 486.33L188.08 486.93L188.26 487.81L187.48 487.37L186.70 487.81L186.88 486.93L186.22 486.33L187.11 486.23Z" fill="#f0a43a" stroke="none"/>
<path d="M190.68 485.85L191.05 486.66L191.94 486.76L191.28 487.36L191.46 488.24L190.68 487.80L189.90 488.24L190.08 487.36L189.42 486.76L190.31 486.66Z" fill="#f0a43a" stroke="none"/>
<path d="M189.08 486.02L189.45 486.83L190.34 486.93L189.68 487.54L189.86 488.41L189.08 487.97L188.30 488.41L188.48 487.54L187.82 486.93L188.71 486.83Z" fill="#f0a43a" stroke="none"/>
<line x1="198.80" y1="486.51" x2="198.80" y2="487.54" stroke="#2f7a62" stroke-width="0.6"/>
<line x1="197.20" y1="486.51" x2="200.40" y2="486.51" stroke="#2f7a62" stroke-width="0.6"/>
<line x1="196.40" y1="487.03" x2="201.20" y2="487.03" stroke="#2f7a62" stroke-width="0.6"/>
<path d="M197.20 487.89L198.35 485.82L196.05 485.82Z" fill="#2f7a62" stroke="#2f7a62" stroke-width="0.6"/>
<path d="M200.40 488.32L201.55 486.25L199.25 486.25Z" fill="#2f7a62" stroke="#2f7a62" stroke-width="0.6"/>
<path d="M198.80 488.32L199.95 486.25L197.65 486.25Z" fill="#2f7a62" stroke="#2f7a62" stroke-width="0.6"/>
<line x1="208.52" y1="484.71" x2="208.52" y2="485.75" stroke="#a59fd6" stroke-width="0.6"/>
<line x1="206.92" y1="484.71" x2="210.12" y2="484.71" stroke="#a59fd6" stroke-width="0.6"/>
<line x1="206.12" y1="485.23" x2="210.92" y2="485.23" stroke="#a59fd6" stroke-width="0.6"/>
<path d="M206.92 482.14L208.07 484.21L205.77 484.21Z" fill="#a59fd6" stroke="#a59fd6" stroke-width="0.6"/>
<path d="M210.12 483.86L211.27 485.93L208.97 485.93Z" fill="#a59fd6" stroke="#a59fd6" stroke-width="0.6"/>
<path d="M208.52 484.73L209.67 486.80L207.37 486.80Z" fill="#a59fd6" stroke="#a59fd6" stroke-width="0.6"/>
<path d="M206.92 485.59L208.07 487.66L205.77 487.66Z" fill="#a59fd6" stroke="#a59fd6" stroke-width="0.6"/>
<line x1="218.24" y1="486.08" x2="218.24" y2="487.11" stroke="#4d4d4d" stroke-width="0.6"/>
<line x1="216.64" y1="486.08" x2="219.84" y2="486.08" stroke="#4d4d4d" stroke-width="0.6"/>
<line x1="215.84" y1="486.59" x2="220.64" y2="486.59" stroke="#4d4d4d" stroke-width="0.6"/>
<path d="M216.64 487.02L217.79 484.95L215.49 484.95Z" fill="#4d4d4d" stroke="#4d4d4d" stroke-width="0.6"/>
<path d="M219.84 487.89L220.99 485.82L218.69 485.82Z" fill="#4d4d4d" stroke="#4d4d4d" stroke-width="0.6"/>
<path d="M218.24 488.32L219.39 486.25L217.09 486.25Z" fill="#4d4d4d" stroke="#4d4d4d" stroke-width="0.6"/>
<line x1="227.96" y1="486.51" x2="227.96" y2="487.54" stroke="#4aa3e0" stroke-width="0.6"/>
<line x1="226.36" y1="486.51" x2="229.56" y2="486.51" stroke="#4aa3e0" stroke-width="0.6"/>
<line x1="225.56" y1="487.03" x2="230.36" y2="487.03" stroke="#4aa3e0" stroke-width="0.6"/>
<path d="M226.36 485.42L226.73 486.23L227.62 486.33L226.96 486.93L227.14 487.81L226.36 487.37L225.58 487.81L225.76 486.93L225.10 486.33L225.99 486.23Z" fill="#4aa3e0" stroke="none"/>
<path d="M229.56 485.85L229.93 486.66L230.82 486.76L230.16 487.36L230.34 488.24L229.56 487.80L228.78 488.24L228.96 487.36L228.30 486.76L229.19 486.66Z" fill="#4aa3e0" stroke="none"/>
<path d="M227.96 485.85L228.33 486.66L229.22 486.76L228.56 487.36L228.74 488.24L227.96 487.80L227.18 488.24L227.36 487.36L226.70 486.76L227.59 486.66Z" fill="#4aa3e0" stroke="none"/>
<line x1="237.68" y1="485.14" x2="237.68" y2="486.18" stroke="#d62a7e" stroke-width="0.6"/>
<line x1="236.08" y1="485.14" x2="239.28" y2="485.14" stroke="#d62a7e" stroke-width="0.6"/>
<line x1="235.28" y1="485.66" x2="240.08" y2="485.66" stroke="#d62a7e" stroke-width="0.6"/>
<path d="M236.08 484.44L237.23 482.37L234.93 482.37Z" fill="#d62a7e" stroke="#d62a7e" stroke-width="0.6"/>
<path d="M239.28 487.02L240.43 484.95L238.13 484.95Z" fill="#d62a7e" stroke="#d62a7e" stroke-width="0.6"/>
<path d="M237.68 487.89L238.83 485.82L236.53 485.82Z" fill="#d62a7e" stroke="#d62a7e" stroke-width="0.6"/>
<path d="M236.08 487.89L237.23 485.82L234.93 485.82Z" fill="#d62a7e" stroke="#d62a7e" stroke-width="0.6"/>
<text x="150.20" y="437.73" font-size="6.5" text-anchor="middle" fill="#333">ns</text>
<text x="159.90" y="436.73" font-size="6.5" text-anchor="middle" fill="#888">-</text>
<circle cx="169.64" cy="435.50" r="0.8" fill="#1a1a1a"/>
<circle cx="169.64" cy="437.95" r="0.8" fill="#1a1a1a"/>
<circle cx="169.64" cy="440.40" r="0.8" fill="#1a1a1a"/>
<circle cx="169.64" cy="442.85" r="0.8" fill="#1a1a1a"/>
<circle cx="179.36" cy="435.50" r="0.8" fill="#1a1a1a"/>
<circle cx="179.36" cy="437.95" r="0.8" fill="#1a1a1a"/>
<circle cx="179.36" cy="440.40" r="0.8" fill="#1a1a1a"/>
<circle cx="179.36" cy="442.85" r="0.8" fill="#1a1a1a"/>
<circle cx="189.08" cy="435.50" r="0.8" fill="#1a1a1a"/>
<circle cx="189.08" cy="437.95" r="0.8" fill="#1a1a1a"/>
<circle cx="189.08" cy="440.40" r="0.8" fill="#1a1a1a"/>
<circle cx="189.08" cy="442.85" r="0.8" fill="#1a1a1a"/>
<circle cx="198.80" cy="435.50" r="0.8" fill="#1a1a1a"/>
<circle cx="198.80" cy="437.95" r="0.8" fill="#1a1a1a"/>
<circle cx="198.80" cy="440.40" r="0.8" fill="#1a1a1a"/>
<circle cx="198.80" cy="442.85" r="0.8" fill="#1a1a1a"/>
<circle cx="208.52" cy="435.50" r="0.8" fill="#1a1a1a"/>
<circle cx="208.52" cy="437.95" r="0.8" fill="#1a1a1a"/>
<circle cx="208.52" cy="440.40" r="0.8" fill="#1a1a1a"/>
<circle cx="208.52" cy="442.85" r="0.8" fill="#1a1a1a"/>
<circle cx="218.24" cy="435.50" r="0.8" fill="#1a1a1a"/>
<circle cx="218.24" cy="437.95" r="0.8" fill="#1a1a1a"/>
<circle cx="218.24" cy="440.40" r="0.8" fill="#1a1a1a"/>
<circle cx="218.24" cy="442.85" r="0.8" fill="#1a1a1a"/>
<circle cx="227.96" cy="435.50" r="0.8" fill="#1a1a1a"/>
<circle cx="227.96" cy="437.95" r="0.8" fill="#1a1a1a"/>
<circle cx="227.96" cy="440.40" r="0.8" fill="#1a1a1a"/>
<circle cx="227.96" cy="442.85" r="0.8" fill="#1a1a1a"/>
<circle cx="237.68" cy="435.50" r="0.8" fill="#1a1a1a"/>
<circle cx="237.68" cy="437.95" r="0.8" fill="#1a1a1a"/>
<circle cx="237.68" cy="440.40" r="0.8" fill="#1a1a1a"/>
<circle cx="237.68" cy="442.85" r="0.8" fill="#1a1a1a"/>
<text x="225.30" y="454.40" font-size="6.7" text-anchor="middle" fill="#222" stroke="#222" stroke-width="0.12" textLength="38.60" lengthAdjust="spacingAndGlyphs">(v.s. 19CART)</text>
<line x1="47.10" y1="523.60" x2="55.30" y2="523.60" stroke="#b03a5a" stroke-width="0.8"/>
<circle cx="51.20" cy="523.60" r="1.6" fill="#e4a9b8" stroke="#b03a5a" stroke-width="0.9"/>
<text x="59.20" y="525.91" font-size="6.45" text-anchor="start" fill="#222">UTD</text>
<line x1="99.90" y1="523.60" x2="108.10" y2="523.60" stroke="#2f5f8f" stroke-width="0.8"/>
<path d="M104.00 521.90L105.70 523.60L104.00 525.30L102.30 523.60Z" fill="#2f5f8f" stroke="#2f5f8f" stroke-width="0.6"/>
<text x="112.30" y="525.91" font-size="6.45" text-anchor="start" fill="#222">19CART</text>
<line x1="155.90" y1="523.60" x2="164.10" y2="523.60" stroke="#5cb85c" stroke-width="0.8"/>
<path d="M160.00 521.90L161.70 524.96L158.30 524.96Z" fill="#5cb85c" stroke="#5cb85c" stroke-width="0.6"/>
<text x="167.70" y="525.91" font-size="6.45" text-anchor="start" fill="#222">KW_H2L</text>
<line x1="207.30" y1="523.60" x2="215.50" y2="523.60" stroke="#5b2a7e" stroke-width="0.8"/>
<path d="M211.40 525.30L213.10 522.24L209.70 522.24Z" fill="#5b2a7e" stroke="#5b2a7e" stroke-width="0.6"/>
<text x="220.00" y="525.91" font-size="6.45" text-anchor="start" fill="#222">KW_L2H</text>
<line x1="47.10" y1="531.90" x2="55.30" y2="531.90" stroke="#f0a43a" stroke-width="0.8"/>
<path d="M51.20 529.60L51.85 531.01L53.39 531.19L52.25 532.24L52.55 533.76L51.20 533.00L49.85 533.76L50.15 532.24L49.01 531.19L50.55 531.01Z" fill="#f0a43a" stroke="none"/>
<text x="59.20" y="534.21" font-size="6.45" text-anchor="start" fill="#222">1-49_H2L</text>
<line x1="99.90" y1="531.90" x2="108.10" y2="531.90" stroke="#2f7a62" stroke-width="0.8"/>
<path d="M104.00 533.60L105.70 530.54L102.30 530.54Z" fill="#2f7a62" stroke="#2f7a62" stroke-width="0.6"/>
<text x="112.30" y="534.21" font-size="6.45" text-anchor="start" fill="#222">1-49_L2H</text>
<line x1="155.90" y1="531.90" x2="164.10" y2="531.90" stroke="#a59fd6" stroke-width="0.8"/>
<path d="M160.00 530.20L161.70 533.26L158.30 533.26Z" fill="#a59fd6" stroke="#a59fd6" stroke-width="0.6"/>
<text x="167.70" y="534.21" font-size="6.45" text-anchor="start" fill="#222">2-3_H2L</text>
<line x1="207.30" y1="531.90" x2="215.50" y2="531.90" stroke="#4d4d4d" stroke-width="0.8"/>
<path d="M211.40 533.60L213.10 530.54L209.70 530.54Z" fill="#4d4d4d" stroke="#4d4d4d" stroke-width="0.6"/>
<text x="220.00" y="534.21" font-size="6.45" text-anchor="start" fill="#222">2-3_L2H</text>
<line x1="47.10" y1="540.50" x2="55.30" y2="540.50" stroke="#4aa3e0" stroke-width="0.8"/>
<path d="M51.20 538.20L51.85 539.61L53.39 539.79L52.25 540.84L52.55 542.36L51.20 541.60L49.85 542.36L50.15 540.84L49.01 539.79L50.55 539.61Z" fill="#4aa3e0" stroke="none"/>
<text x="59.20" y="542.81" font-size="6.45" text-anchor="start" fill="#222">h1567_H2L</text>
<line x1="99.90" y1="540.50" x2="108.10" y2="540.50" stroke="#d62a7e" stroke-width="0.8"/>
<path d="M104.00 542.20L105.70 539.14L102.30 539.14Z" fill="#d62a7e" stroke="#d62a7e" stroke-width="0.6"/>
<text x="112.30" y="542.81" font-size="6.45" text-anchor="start" fill="#222">h1567_L2H</text>
<text x="270.9" y="380.0" font-size="11" font-weight="bold" fill="#000">F</text>
<text x="346.00" y="392.60" font-size="6.7" text-anchor="middle" fill="#333" stroke="#333" stroke-width="0.12" textLength="79.80" lengthAdjust="spacingAndGlyphs">anti-CCR4mAb for detection</text>
<line x1="289.50" y1="396.75" x2="399.50" y2="396.75" stroke="#555" stroke-width="1.1"/>
<text x="315.60" y="405.90" font-size="6.7" text-anchor="middle" fill="#2f62a0" stroke="#2f62a0" stroke-width="0.12" textLength="45.00" lengthAdjust="spacingAndGlyphs">KW0761-Ax680</text>
<text x="374.05" y="406.15" font-size="6.7" text-anchor="middle" fill="#c8233c" stroke="#c8233c" stroke-width="0.12" textLength="28.10" lengthAdjust="spacingAndGlyphs">h1567-PE</text>
<path d="M289.60 431.25 L311.00 431.25 L312.00 428.50 L313.50 426.00 L316.00 425.50 L318.00 424.50 L320.00 423.50 L322.00 422.50 L324.00 420.50 L326.00 419.50 L327.50 418.00 L329.50 416.90 L330.50 418.50 L331.50 417.80 L333.00 421.00 L334.50 426.00 L336.00 430.00 L337.50 431.25 L341.70 431.25 L341.70 431.25 L289.60 431.25 Z" fill="#f8d2d2" opacity="0.85"/>
<path d="M289.60 431.25 L311.00 431.25 L312.00 428.50 L313.50 426.00 L316.00 425.50 L318.00 424.50 L320.00 423.50 L322.00 422.50 L324.00 420.50 L326.00 419.50 L327.50 418.00 L329.50 416.90 L330.50 418.50 L331.50 417.80 L333.00 421.00 L334.50 426.00 L336.00 430.00 L337.50 431.25 L341.70 431.25" fill="none" stroke="#c0283c" stroke-width="0.9" stroke-linejoin="round"/>
<path d="M289.60 441.90 L304.50 441.90 L306.00 439.00 L307.50 432.00 L308.80 425.00 L309.60 423.80 L310.50 424.50 L311.50 428.00 L313.00 433.00 L315.00 437.50 L317.00 440.00 L319.00 441.50 L321.00 441.90 L341.70 441.90 L341.70 441.90 L289.60 441.90 Z" fill="#c9cde9" opacity="0.85"/>
<path d="M289.60 441.90 L304.50 441.90 L306.00 439.00 L307.50 432.00 L308.80 425.00 L309.60 423.80 L310.50 424.50 L311.50 428.00 L313.00 433.00 L315.00 437.50 L317.00 440.00 L319.00 441.50 L321.00 441.90 L341.70 441.90" fill="none" stroke="#3a5f98" stroke-width="0.9" stroke-linejoin="round"/>
<path d="M289.60 452.50 L306.50 452.50 L308.00 449.00 L310.00 446.50 L313.00 445.00 L316.00 442.50 L319.00 439.50 L321.50 437.00 L323.70 435.60 L325.50 436.50 L327.00 439.00 L329.00 442.50 L331.00 446.00 L333.00 449.50 L335.00 452.00 L336.50 452.50 L341.70 452.50 L341.70 452.50 L289.60 452.50 Z" fill="#dbeed3" opacity="0.85"/>
<path d="M289.60 452.50 L306.50 452.50 L308.00 449.00 L310.00 446.50 L313.00 445.00 L316.00 442.50 L319.00 439.50 L321.50 437.00 L323.70 435.60 L325.50 436.50 L327.00 439.00 L329.00 442.50 L331.00 446.00 L333.00 449.50 L335.00 452.00 L336.50 452.50 L341.70 452.50" fill="none" stroke="#4c9f4c" stroke-width="0.9" stroke-linejoin="round"/>
<path d="M289.60 462.30 L304.80 462.30 L305.60 455.00 L306.20 444.50 L306.80 443.20 L307.40 450.00 L308.20 462.30 L341.70 462.30 L341.70 462.30 L289.60 462.30 Z" fill="#d6c6de" opacity="0.85"/>
<path d="M289.60 462.30 L304.80 462.30 L305.60 455.00 L306.20 444.50 L306.80 443.20 L307.40 450.00 L308.20 462.30 L341.70 462.30" fill="none" stroke="#6a4a80" stroke-width="0.9" stroke-linejoin="round"/>
<rect x="303.30" y="461.30" width="5.00" height="1.60" fill="#222" stroke="none" stroke-width="1" />
<path d="M347.50 431.25 L359.00 431.25 L359.60 425.00 L360.00 412.50 L360.50 425.00 L361.20 431.25 L399.50 431.25 L399.50 431.25 L347.50 431.25 Z" fill="#f8d2d2" opacity="0.85"/>
<path d="M347.50 431.25 L359.00 431.25 L359.60 425.00 L360.00 412.50 L360.50 425.00 L361.20 431.25 L399.50 431.25" fill="none" stroke="#c0283c" stroke-width="0.9" stroke-linejoin="round"/>
<path d="M347.50 441.90 L361.00 441.90 L364.00 441.00 L367.00 439.50 L370.00 436.50 L373.00 432.00 L375.50 427.50 L377.50 424.00 L378.50 423.10 L379.50 423.50 L381.00 426.00 L383.00 430.00 L385.50 435.00 L388.00 439.00 L390.50 441.30 L392.50 441.90 L399.50 441.90 L399.50 441.90 L347.50 441.90 Z" fill="#c9cde9" opacity="0.85"/>
<path d="M347.50 441.90 L361.00 441.90 L364.00 441.00 L367.00 439.50 L370.00 436.50 L373.00 432.00 L375.50 427.50 L377.50 424.00 L378.50 423.10 L379.50 423.50 L381.00 426.00 L383.00 430.00 L385.50 435.00 L388.00 439.00 L390.50 441.30 L392.50 441.90 L399.50 441.90" fill="none" stroke="#3a5f98" stroke-width="0.9" stroke-linejoin="round"/>
<path d="M347.50 452.50 L366.00 452.50 L369.00 451.50 L372.00 449.50 L375.00 446.00 L378.00 441.00 L380.00 437.00 L381.20 434.80 L381.90 434.40 L383.00 436.00 L385.00 440.50 L387.50 446.00 L390.00 450.50 L392.00 452.50 L399.50 452.50 L399.50 452.50 L347.50 452.50 Z" fill="#dbeed3" opacity="0.85"/>
<path d="M347.50 452.50 L366.00 452.50 L369.00 451.50 L372.00 449.50 L375.00 446.00 L378.00 441.00 L380.00 437.00 L381.20 434.80 L381.90 434.40 L383.00 436.00 L385.00 440.50 L387.50 446.00 L390.00 450.50 L392.00 452.50 L399.50 452.50" fill="none" stroke="#4c9f4c" stroke-width="0.9" stroke-linejoin="round"/>
<line x1="359.60" y1="446.20" x2="359.60" y2="462.30" stroke="#222" stroke-width="1.0"/>
<rect x="289.60" y="410.60" width="52.10" height="51.90" fill="none" stroke="#222" stroke-width="0.9" />
<line x1="305.50" y1="462.50" x2="305.50" y2="464.10" stroke="#222" stroke-width="0.7"/>
<line x1="310.80" y1="462.50" x2="310.80" y2="464.10" stroke="#222" stroke-width="0.7"/>
<line x1="324.50" y1="462.50" x2="324.50" y2="464.10" stroke="#222" stroke-width="0.7"/>
<line x1="338.00" y1="462.50" x2="338.00" y2="464.10" stroke="#222" stroke-width="0.7"/>
<rect x="347.50" y="410.60" width="52.00" height="51.90" fill="none" stroke="#222" stroke-width="0.9" />
<line x1="360.40" y1="462.50" x2="360.40" y2="464.10" stroke="#222" stroke-width="0.7"/>
<line x1="368.50" y1="462.50" x2="368.50" y2="464.10" stroke="#222" stroke-width="0.7"/>
<line x1="382.00" y1="462.50" x2="382.00" y2="464.10" stroke="#222" stroke-width="0.7"/>
<line x1="395.00" y1="462.50" x2="395.00" y2="464.10" stroke="#222" stroke-width="0.7"/>
<text x="304.60" y="474.26" font-size="6.6" text-anchor="middle" fill="#222">0</text>
<text x="306.90" y="474.33" font-size="6.8" fill="#222" text-anchor="start">10<tspan font-size="4.22" dy="-2.86">3</tspan></text>
<text x="320.60" y="474.33" font-size="6.8" fill="#222" text-anchor="start">10<tspan font-size="4.22" dy="-2.86">4</tspan></text>
<text x="334.40" y="474.33" font-size="6.8" fill="#222" text-anchor="start">10<tspan font-size="4.22" dy="-2.86">5</tspan></text>
<text x="360.40" y="474.26" font-size="6.6" text-anchor="middle" fill="#222">0</text>
<text x="366.50" y="474.33" font-size="6.8" fill="#222" text-anchor="start">10<tspan font-size="4.22" dy="-2.86">3</tspan></text>
<text x="380.40" y="474.33" font-size="6.8" fill="#222" text-anchor="start">10<tspan font-size="4.22" dy="-2.86">4</tspan></text>
<text x="392.70" y="474.33" font-size="6.8" fill="#222" text-anchor="start">10<tspan font-size="4.22" dy="-2.86">5</tspan></text>
<text x="289.40" y="481.26" font-size="7.0" text-anchor="start" fill="#222" textLength="17.50" lengthAdjust="spacingAndGlyphs">CCR4</text>
<line x1="311.25" y1="478.50" x2="395.50" y2="478.50" stroke="#111" stroke-width="0.9"/>
<path d="M399.0 478.5 L394.5 476.6 L394.5 480.4 Z" fill="#111"/>
<text x="403.75" y="431.90" font-size="6.7" text-anchor="start" fill="#c8233c" stroke="#c8233c" stroke-width="0.12" textLength="80.75" lengthAdjust="spacingAndGlyphs">HH-CCR4CAR(h1567_L2H)</text>
<text x="403.75" y="442.40" font-size="6.7" text-anchor="start" fill="#2f62a0" stroke="#2f62a0" stroke-width="0.12" textLength="73.31" lengthAdjust="spacingAndGlyphs">HH-CCR4CAR(KW_L2H)</text>
<text x="403.75" y="452.90" font-size="6.7" text-anchor="start" fill="#3fa34a" stroke="#3fa34a" stroke-width="0.12" textLength="34.31" lengthAdjust="spacingAndGlyphs">HH-no CAR</text>
<text x="403.75" y="462.90" font-size="6.7" text-anchor="start" fill="#6c3b86" stroke="#6c3b86" stroke-width="0.12" textLength="32.51" lengthAdjust="spacingAndGlyphs">HH-unstain</text>
<rect x="0" y="0" width="520" height="1.1" fill="#4a4a4a"/>
<rect x="0" y="0" width="1.5" height="551" fill="#3a3a3a"/>
<rect x="518.5" y="0" width="1.5" height="551" fill="#3a3a3a"/>
<rect x="0" y="549.5" width="520" height="1.5" fill="#4a4a4a"/>
</svg></body></html>
